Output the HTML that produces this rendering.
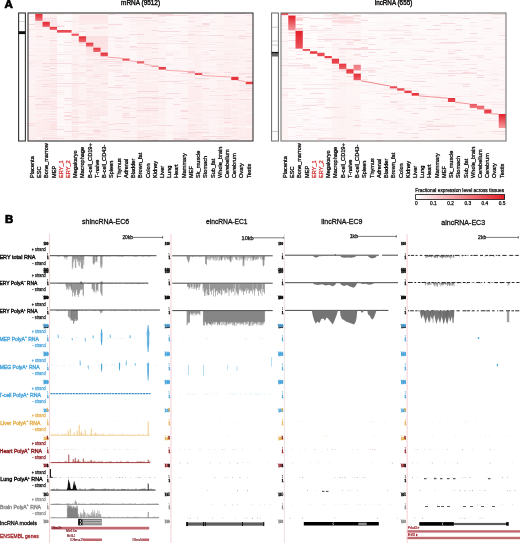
<!DOCTYPE html><html><head><meta charset="utf-8"><style>html,body{margin:0;padding:0;background:#fff;width:520px;height:543px;overflow:hidden}svg{display:block}</style></head><body><svg width="520" height="543" viewBox="0 0 520 543"><rect width="520" height="543" fill="#fff"/><g font-family="'Liberation Sans', 'DejaVu Sans', sans-serif"><text x="4.5" y="8.3" font-size="11.6" font-weight="bold" stroke="#000" stroke-width="0.7">A</text><text x="5.0" y="223.3" font-size="11.4" font-weight="bold" stroke="#000" stroke-width="0.7">B</text><text x="140.6" y="5.1" font-size="7" text-anchor="middle" textLength="39" lengthAdjust="spacingAndGlyphs" stroke="#111" stroke-width="0.4">mRNA (9512)</text><text x="393.5" y="5.1" font-size="7" text-anchor="middle" textLength="37.5" lengthAdjust="spacingAndGlyphs" stroke="#111" stroke-width="0.4">lncRNA (655)</text><filter id="bl11" x="-2%" y="-2%" width="104%" height="104%"><feGaussianBlur stdDeviation="0.55"/></filter><clipPath id="cp11"><rect x="28" y="13" width="225" height="128"/></clipPath><g clip-path="url(#cp11)"><g filter="url(#bl11)"><linearGradient id="bg11_0" x1="0" y1="0" x2="0" y2="1"><stop offset="0" stop-color="#fef6f7"/><stop offset="1" stop-color="#fdeff0"/></linearGradient><rect x="28.00" y="13" width="7.31" height="128" fill="url(#bg11_0)"/><linearGradient id="bg11_1" x1="0" y1="0" x2="0" y2="1"><stop offset="0" stop-color="#fef3f4"/><stop offset="1" stop-color="#fdeaeb"/></linearGradient><rect x="35.26" y="13" width="7.31" height="128" fill="url(#bg11_1)"/><linearGradient id="bg11_2" x1="0" y1="0" x2="0" y2="1"><stop offset="0" stop-color="#fef3f4"/><stop offset="1" stop-color="#fdeaeb"/></linearGradient><rect x="42.52" y="13" width="7.31" height="128" fill="url(#bg11_2)"/><linearGradient id="bg11_3" x1="0" y1="0" x2="0" y2="1"><stop offset="0" stop-color="#fdeff0"/><stop offset="1" stop-color="#fce3e4"/></linearGradient><rect x="49.77" y="13" width="7.31" height="128" fill="url(#bg11_3)"/><linearGradient id="bg11_4" x1="0" y1="0" x2="0" y2="1"><stop offset="0" stop-color="#fefbfb"/><stop offset="1" stop-color="#fef7f8"/></linearGradient><rect x="57.03" y="13" width="7.31" height="128" fill="url(#bg11_4)"/><linearGradient id="bg11_5" x1="0" y1="0" x2="0" y2="1"><stop offset="0" stop-color="#fefafa"/><stop offset="1" stop-color="#fef6f6"/></linearGradient><rect x="64.29" y="13" width="7.31" height="128" fill="url(#bg11_5)"/><linearGradient id="bg11_6" x1="0" y1="0" x2="0" y2="1"><stop offset="0" stop-color="#fdf2f2"/><stop offset="1" stop-color="#fce8e9"/></linearGradient><rect x="71.55" y="13" width="7.31" height="128" fill="url(#bg11_6)"/><linearGradient id="bg11_7" x1="0" y1="0" x2="0" y2="1"><stop offset="0" stop-color="#fef6f7"/><stop offset="1" stop-color="#fdeff0"/></linearGradient><rect x="78.81" y="13" width="7.31" height="128" fill="url(#bg11_7)"/><linearGradient id="bg11_8" x1="0" y1="0" x2="0" y2="1"><stop offset="0" stop-color="#fdf2f2"/><stop offset="1" stop-color="#fce8e9"/></linearGradient><rect x="86.06" y="13" width="7.31" height="128" fill="url(#bg11_8)"/><linearGradient id="bg11_9" x1="0" y1="0" x2="0" y2="1"><stop offset="0" stop-color="#fdf2f2"/><stop offset="1" stop-color="#fce8e9"/></linearGradient><rect x="93.32" y="13" width="7.31" height="128" fill="url(#bg11_9)"/><linearGradient id="bg11_10" x1="0" y1="0" x2="0" y2="1"><stop offset="0" stop-color="#fdf2f2"/><stop offset="1" stop-color="#fce8e9"/></linearGradient><rect x="100.58" y="13" width="7.31" height="128" fill="url(#bg11_10)"/><linearGradient id="bg11_11" x1="0" y1="0" x2="0" y2="1"><stop offset="0" stop-color="#fef8f8"/><stop offset="1" stop-color="#fdf2f3"/></linearGradient><rect x="107.84" y="13" width="7.31" height="128" fill="url(#bg11_11)"/><linearGradient id="bg11_12" x1="0" y1="0" x2="0" y2="1"><stop offset="0" stop-color="#fef8f8"/><stop offset="1" stop-color="#fdf2f3"/></linearGradient><rect x="115.10" y="13" width="7.31" height="128" fill="url(#bg11_12)"/><linearGradient id="bg11_13" x1="0" y1="0" x2="0" y2="1"><stop offset="0" stop-color="#fef6f7"/><stop offset="1" stop-color="#fdeff0"/></linearGradient><rect x="122.35" y="13" width="7.31" height="128" fill="url(#bg11_13)"/><linearGradient id="bg11_14" x1="0" y1="0" x2="0" y2="1"><stop offset="0" stop-color="#fef8f8"/><stop offset="1" stop-color="#fdf2f3"/></linearGradient><rect x="129.61" y="13" width="7.31" height="128" fill="url(#bg11_14)"/><linearGradient id="bg11_15" x1="0" y1="0" x2="0" y2="1"><stop offset="0" stop-color="#fef3f4"/><stop offset="1" stop-color="#fdeaeb"/></linearGradient><rect x="136.87" y="13" width="7.31" height="128" fill="url(#bg11_15)"/><linearGradient id="bg11_16" x1="0" y1="0" x2="0" y2="1"><stop offset="0" stop-color="#fef3f4"/><stop offset="1" stop-color="#fdeaeb"/></linearGradient><rect x="144.13" y="13" width="7.31" height="128" fill="url(#bg11_16)"/><linearGradient id="bg11_17" x1="0" y1="0" x2="0" y2="1"><stop offset="0" stop-color="#fef3f4"/><stop offset="1" stop-color="#fdeaeb"/></linearGradient><rect x="151.39" y="13" width="7.31" height="128" fill="url(#bg11_17)"/><linearGradient id="bg11_18" x1="0" y1="0" x2="0" y2="1"><stop offset="0" stop-color="#fef6f7"/><stop offset="1" stop-color="#fdeff0"/></linearGradient><rect x="158.65" y="13" width="7.31" height="128" fill="url(#bg11_18)"/><linearGradient id="bg11_19" x1="0" y1="0" x2="0" y2="1"><stop offset="0" stop-color="#fef9f9"/><stop offset="1" stop-color="#fef5f5"/></linearGradient><rect x="165.90" y="13" width="7.31" height="128" fill="url(#bg11_19)"/><linearGradient id="bg11_20" x1="0" y1="0" x2="0" y2="1"><stop offset="0" stop-color="#fef8f9"/><stop offset="1" stop-color="#fef3f4"/></linearGradient><rect x="173.16" y="13" width="7.31" height="128" fill="url(#bg11_20)"/><linearGradient id="bg11_21" x1="0" y1="0" x2="0" y2="1"><stop offset="0" stop-color="#fef8f8"/><stop offset="1" stop-color="#fdf2f3"/></linearGradient><rect x="180.42" y="13" width="7.31" height="128" fill="url(#bg11_21)"/><linearGradient id="bg11_22" x1="0" y1="0" x2="0" y2="1"><stop offset="0" stop-color="#fef3f4"/><stop offset="1" stop-color="#fdeaeb"/></linearGradient><rect x="187.68" y="13" width="7.31" height="128" fill="url(#bg11_22)"/><linearGradient id="bg11_23" x1="0" y1="0" x2="0" y2="1"><stop offset="0" stop-color="#fef3f4"/><stop offset="1" stop-color="#fdeaeb"/></linearGradient><rect x="194.94" y="13" width="7.31" height="128" fill="url(#bg11_23)"/><linearGradient id="bg11_24" x1="0" y1="0" x2="0" y2="1"><stop offset="0" stop-color="#fef6f7"/><stop offset="1" stop-color="#fdeff0"/></linearGradient><rect x="202.19" y="13" width="7.31" height="128" fill="url(#bg11_24)"/><linearGradient id="bg11_25" x1="0" y1="0" x2="0" y2="1"><stop offset="0" stop-color="#fef8f8"/><stop offset="1" stop-color="#fdf2f3"/></linearGradient><rect x="209.45" y="13" width="7.31" height="128" fill="url(#bg11_25)"/><linearGradient id="bg11_26" x1="0" y1="0" x2="0" y2="1"><stop offset="0" stop-color="#fef5f5"/><stop offset="1" stop-color="#fdedee"/></linearGradient><rect x="216.71" y="13" width="7.31" height="128" fill="url(#bg11_26)"/><linearGradient id="bg11_27" x1="0" y1="0" x2="0" y2="1"><stop offset="0" stop-color="#fef3f4"/><stop offset="1" stop-color="#fdeaeb"/></linearGradient><rect x="223.97" y="13" width="7.31" height="128" fill="url(#bg11_27)"/><linearGradient id="bg11_28" x1="0" y1="0" x2="0" y2="1"><stop offset="0" stop-color="#fef3f4"/><stop offset="1" stop-color="#fdeaeb"/></linearGradient><rect x="231.23" y="13" width="7.31" height="128" fill="url(#bg11_28)"/><linearGradient id="bg11_29" x1="0" y1="0" x2="0" y2="1"><stop offset="0" stop-color="#fef4f5"/><stop offset="1" stop-color="#fdecec"/></linearGradient><rect x="238.48" y="13" width="7.31" height="128" fill="url(#bg11_29)"/><linearGradient id="bg11_30" x1="0" y1="0" x2="0" y2="1"><stop offset="0" stop-color="#fef3f4"/><stop offset="1" stop-color="#fdeaeb"/></linearGradient><rect x="245.74" y="13" width="7.31" height="128" fill="url(#bg11_30)"/><path fill="#fdf4f6" d="M42.5 13h14.5v1h-14.5zM187.7 13h7.3v1h-7.3zM194.9 13h7.3v1h-7.3zM202.2 13h7.3v1h-7.3zM28.0 14h14.5v1h-14.5zM100.6 14h7.3v1h-7.3zM115.1 14h7.3v1h-7.3zM202.2 14h14.5v1h-14.5zM35.3 15h7.3v1h-7.3zM71.5 15h7.3v1h-7.3zM86.1 15h14.5v1h-14.5zM115.1 15h7.3v1h-7.3zM151.4 15h7.3v1h-7.3zM209.5 15h7.3v1h-7.3zM144.1 16h14.5v1h-14.5zM71.5 17h7.3v1h-7.3zM78.8 17h7.3v1h-7.3zM100.6 17h7.3v1h-7.3zM158.6 17h7.3v1h-7.3zM238.5 17h14.5v1h-14.5zM107.8 18h7.3v1h-7.3zM180.4 18h14.5v1h-14.5zM224.0 18h7.3v1h-7.3zM122.4 19h7.3v1h-7.3zM194.9 19h14.5v1h-14.5zM209.5 19h14.5v1h-14.5zM180.4 20h7.3v1h-7.3zM238.5 20h14.5v1h-14.5zM28.0 21h7.3v1h-7.3zM35.3 21h7.3v1h-7.3zM42.5 21h14.5v1h-14.5zM57.0 21h7.3v1h-7.3zM28.0 23h21.8v1h-21.8zM49.8 23h14.5v1h-14.5zM93.3 23h7.3v1h-7.3zM100.6 23h29.0v1h-29.0zM129.6 23h7.3v1h-7.3zM165.9 23h7.3v1h-7.3zM194.9 23h7.3v1h-7.3zM231.2 23h7.3v1h-7.3zM64.3 24h7.3v1h-7.3zM158.6 24h7.3v1h-7.3zM165.9 24h14.5v1h-14.5zM180.4 24h7.3v1h-7.3zM194.9 24h7.3v1h-7.3zM107.8 25h14.5v1h-14.5zM136.9 25h7.3v1h-7.3zM144.1 25h29.0v1h-29.0zM71.5 26h21.8v1h-21.8zM180.4 26h7.3v1h-7.3zM216.7 26h7.3v1h-7.3zM35.3 27h7.3v1h-7.3zM129.6 27h14.5v1h-14.5zM173.2 27h7.3v1h-7.3zM224.0 27h21.8v1h-21.8zM107.8 28h7.3v1h-7.3zM129.6 28h14.5v1h-14.5zM180.4 28h7.3v1h-7.3zM238.5 28h7.3v1h-7.3zM107.8 29h7.3v1h-7.3zM209.5 29h7.3v1h-7.3zM238.5 29h14.5v1h-14.5zM28.0 30h14.5v1h-14.5zM42.5 30h7.3v1h-7.3zM57.0 30h7.3v1h-7.3zM86.1 30h29.0v1h-29.0zM115.1 30h14.5v1h-14.5zM158.6 30h7.3v1h-7.3zM180.4 30h7.3v1h-7.3zM28.0 31h7.3v1h-7.3zM35.3 31h7.3v1h-7.3zM49.8 31h7.3v1h-7.3zM245.7 31h7.3v1h-7.3zM28.0 32h7.3v1h-7.3zM144.1 32h7.3v1h-7.3zM180.4 32h7.3v1h-7.3zM224.0 32h7.3v1h-7.3zM238.5 32h7.3v1h-7.3zM28.0 34h21.8v1h-21.8zM49.8 34h7.3v1h-7.3zM107.8 34h7.3v1h-7.3zM224.0 34h7.3v1h-7.3zM78.8 35h14.5v1h-14.5zM93.3 35h7.3v1h-7.3zM115.1 35h21.8v1h-21.8zM42.5 36h21.8v1h-21.8zM71.5 36h14.5v1h-14.5zM144.1 36h7.3v1h-7.3zM180.4 37h7.3v1h-7.3zM78.8 38h14.5v1h-14.5zM93.3 38h14.5v1h-14.5zM180.4 38h7.3v1h-7.3zM209.5 38h7.3v1h-7.3zM231.2 38h7.3v1h-7.3zM28.0 39h7.3v1h-7.3zM49.8 39h7.3v1h-7.3zM93.3 39h7.3v1h-7.3zM64.3 40h7.3v1h-7.3zM122.4 40h29.0v1h-29.0zM180.4 40h7.3v1h-7.3zM209.5 40h14.5v1h-14.5zM231.2 40h14.5v1h-14.5zM35.3 41h7.3v1h-7.3zM42.5 41h7.3v1h-7.3zM64.3 41h7.3v1h-7.3zM78.8 41h14.5v1h-14.5zM144.1 41h29.0v1h-29.0zM173.2 41h7.3v1h-7.3zM187.7 41h7.3v1h-7.3zM224.0 41h7.3v1h-7.3zM28.0 42h7.3v1h-7.3zM35.3 42h21.8v1h-21.8zM100.6 42h7.3v1h-7.3zM115.1 42h14.5v1h-14.5zM151.4 42h7.3v1h-7.3zM165.9 42h7.3v1h-7.3zM187.7 42h7.3v1h-7.3zM231.2 42h21.8v1h-21.8zM42.5 43h7.3v1h-7.3zM86.1 43h14.5v1h-14.5zM107.8 44h14.5v1h-14.5zM238.5 44h7.3v1h-7.3zM57.0 45h7.3v1h-7.3zM136.9 45h7.3v1h-7.3zM238.5 45h7.3v1h-7.3zM107.8 46h7.3v1h-7.3zM245.7 46h7.3v1h-7.3zM28.0 47h14.5v1h-14.5zM42.5 47h7.3v1h-7.3zM49.8 47h7.3v1h-7.3zM71.5 47h14.5v1h-14.5zM151.4 47h7.3v1h-7.3zM245.7 47h7.3v1h-7.3zM64.3 48h7.3v1h-7.3zM71.5 48h14.5v1h-14.5zM216.7 48h21.8v1h-21.8zM42.5 49h7.3v1h-7.3zM64.3 49h7.3v1h-7.3zM224.0 49h7.3v1h-7.3zM115.1 50h7.3v1h-7.3zM122.4 50h21.8v1h-21.8zM151.4 50h7.3v1h-7.3zM165.9 50h7.3v1h-7.3zM194.9 50h14.5v1h-14.5zM245.7 50h7.3v1h-7.3zM158.6 51h7.3v1h-7.3zM165.9 51h14.5v1h-14.5zM194.9 51h7.3v1h-7.3zM238.5 51h14.5v1h-14.5zM28.0 52h7.3v1h-7.3zM71.5 52h29.0v1h-29.0zM122.4 52h7.3v1h-7.3zM194.9 52h7.3v1h-7.3zM28.0 53h29.0v1h-29.0zM71.5 53h14.5v1h-14.5zM86.1 53h7.3v1h-7.3zM151.4 53h14.5v1h-14.5zM202.2 53h7.3v1h-7.3zM71.5 54h7.3v1h-7.3zM122.4 54h7.3v1h-7.3zM136.9 54h14.5v1h-14.5zM209.5 54h7.3v1h-7.3zM245.7 54h7.3v1h-7.3zM129.6 55h7.3v1h-7.3zM144.1 55h14.5v1h-14.5zM224.0 55h14.5v1h-14.5zM64.3 56h7.3v1h-7.3zM107.8 56h14.5v1h-14.5zM78.8 57h14.5v1h-14.5zM115.1 57h7.3v1h-7.3zM151.4 57h7.3v1h-7.3zM187.7 57h7.3v1h-7.3zM35.3 58h7.3v1h-7.3zM93.3 58h7.3v1h-7.3zM122.4 58h21.8v1h-21.8zM231.2 58h21.8v1h-21.8zM57.0 59h7.3v1h-7.3zM64.3 59h7.3v1h-7.3zM151.4 59h14.5v1h-14.5zM42.5 60h7.3v1h-7.3zM57.0 60h7.3v1h-7.3zM64.3 60h21.8v1h-21.8zM187.7 60h7.3v1h-7.3zM187.7 61h7.3v1h-7.3zM209.5 61h7.3v1h-7.3zM216.7 61h14.5v1h-14.5zM78.8 62h14.5v1h-14.5zM173.2 62h7.3v1h-7.3zM180.4 62h14.5v1h-14.5zM245.7 62h7.3v1h-7.3zM158.6 63h7.3v1h-7.3zM173.2 63h7.3v1h-7.3zM78.8 64h7.3v1h-7.3zM115.1 64h7.3v1h-7.3zM129.6 64h21.8v1h-21.8zM158.6 64h7.3v1h-7.3zM173.2 64h7.3v1h-7.3zM57.0 65h7.3v1h-7.3zM100.6 65h7.3v1h-7.3zM165.9 65h7.3v1h-7.3zM180.4 65h7.3v1h-7.3zM187.7 65h7.3v1h-7.3zM202.2 65h7.3v1h-7.3zM231.2 65h7.3v1h-7.3zM28.0 66h14.5v1h-14.5zM64.3 66h14.5v1h-14.5zM165.9 66h29.0v1h-29.0zM231.2 66h14.5v1h-14.5zM49.8 67h7.3v1h-7.3zM93.3 67h7.3v1h-7.3zM122.4 67h7.3v1h-7.3zM136.9 67h7.3v1h-7.3zM158.6 67h7.3v1h-7.3zM209.5 67h7.3v1h-7.3zM28.0 68h21.8v1h-21.8zM107.8 68h14.5v1h-14.5zM129.6 68h29.0v1h-29.0zM180.4 68h7.3v1h-7.3zM165.9 69h7.3v1h-7.3zM194.9 69h14.5v1h-14.5zM238.5 69h14.5v1h-14.5zM49.8 70h14.5v1h-14.5zM78.8 70h7.3v1h-7.3zM93.3 70h7.3v1h-7.3zM35.3 71h14.5v1h-14.5zM71.5 71h14.5v1h-14.5zM136.9 71h7.3v1h-7.3zM42.5 72h14.5v1h-14.5zM86.1 72h7.3v1h-7.3zM35.3 73h7.3v1h-7.3zM86.1 74h7.3v1h-7.3zM35.3 75h7.3v1h-7.3zM151.4 75h7.3v1h-7.3zM173.2 75h14.5v1h-14.5zM245.7 75h7.3v1h-7.3zM49.8 76h7.3v1h-7.3zM57.0 76h7.3v1h-7.3zM144.1 76h7.3v1h-7.3zM151.4 76h7.3v1h-7.3zM194.9 76h7.3v1h-7.3zM49.8 77h14.5v1h-14.5zM158.6 77h14.5v1h-14.5zM173.2 77h7.3v1h-7.3zM57.0 78h7.3v1h-7.3zM187.7 78h7.3v1h-7.3zM216.7 78h14.5v1h-14.5zM35.3 79h7.3v1h-7.3zM64.3 79h7.3v1h-7.3zM93.3 79h7.3v1h-7.3zM122.4 79h7.3v1h-7.3zM209.5 79h7.3v1h-7.3zM216.7 79h7.3v1h-7.3zM224.0 79h14.5v1h-14.5zM245.7 79h7.3v1h-7.3zM28.0 80h7.3v1h-7.3zM64.3 80h14.5v1h-14.5zM78.8 80h7.3v1h-7.3zM144.1 80h29.0v1h-29.0zM173.2 80h7.3v1h-7.3zM238.5 80h7.3v1h-7.3zM28.0 81h7.3v1h-7.3zM64.3 81h7.3v1h-7.3zM107.8 81h14.5v1h-14.5zM144.1 81h7.3v1h-7.3zM194.9 81h7.3v1h-7.3zM231.2 81h14.5v1h-14.5zM71.5 82h7.3v1h-7.3zM78.8 82h14.5v1h-14.5zM194.9 82h21.8v1h-21.8zM86.1 83h14.5v1h-14.5zM209.5 83h7.3v1h-7.3zM64.3 84h7.3v1h-7.3zM136.9 84h7.3v1h-7.3zM187.7 84h7.3v1h-7.3zM57.0 85h14.5v1h-14.5zM224.0 85h7.3v1h-7.3zM100.6 86h36.3v1h-36.3zM158.6 86h7.3v1h-7.3zM165.9 86h14.5v1h-14.5zM78.8 87h14.5v1h-14.5zM49.8 88h14.5v1h-14.5zM158.6 88h7.3v1h-7.3zM173.2 88h14.5v1h-14.5zM64.3 89h7.3v1h-7.3zM93.3 89h7.3v1h-7.3zM100.6 89h7.3v1h-7.3zM144.1 89h7.3v1h-7.3zM245.7 89h7.3v1h-7.3zM100.6 90h7.3v1h-7.3zM115.1 91h7.3v1h-7.3zM165.9 91h7.3v1h-7.3zM216.7 91h7.3v1h-7.3zM28.0 92h7.3v1h-7.3zM35.3 92h7.3v1h-7.3zM107.8 92h7.3v1h-7.3zM158.6 92h7.3v1h-7.3zM231.2 92h7.3v1h-7.3zM86.1 93h7.3v1h-7.3zM224.0 93h14.5v1h-14.5zM136.9 94h7.3v1h-7.3zM144.1 94h7.3v1h-7.3zM151.4 94h7.3v1h-7.3zM158.6 94h14.5v1h-14.5zM202.2 94h21.8v1h-21.8zM238.5 94h7.3v1h-7.3zM78.8 95h7.3v1h-7.3zM144.1 95h7.3v1h-7.3zM165.9 95h7.3v1h-7.3zM173.2 95h7.3v1h-7.3zM86.1 96h7.3v1h-7.3zM107.8 96h14.5v1h-14.5zM122.4 96h7.3v1h-7.3zM129.6 96h14.5v1h-14.5zM151.4 96h7.3v1h-7.3zM28.0 97h7.3v1h-7.3zM42.5 97h21.8v1h-21.8zM115.1 97h14.5v1h-14.5zM158.6 97h7.3v1h-7.3zM165.9 97h7.3v1h-7.3zM209.5 97h7.3v1h-7.3zM216.7 97h14.5v1h-14.5zM231.2 97h21.8v1h-21.8zM78.8 98h7.3v1h-7.3zM93.3 98h7.3v1h-7.3zM245.7 98h7.3v1h-7.3zM64.3 99h7.3v1h-7.3zM122.4 99h7.3v1h-7.3zM35.3 100h7.3v1h-7.3zM100.6 100h7.3v1h-7.3zM107.8 100h14.5v1h-14.5zM238.5 100h7.3v1h-7.3zM245.7 100h7.3v1h-7.3zM28.0 101h7.3v1h-7.3zM93.3 101h7.3v1h-7.3zM194.9 101h14.5v1h-14.5zM35.3 102h7.3v1h-7.3zM115.1 102h7.3v1h-7.3zM173.2 102h43.5v1h-43.5zM216.7 102h14.5v1h-14.5zM57.0 103h7.3v1h-7.3zM107.8 103h14.5v1h-14.5zM129.6 103h7.3v1h-7.3zM165.9 103h7.3v1h-7.3zM209.5 103h7.3v1h-7.3zM216.7 103h7.3v1h-7.3zM231.2 103h7.3v1h-7.3zM144.1 104h7.3v1h-7.3zM151.4 104h7.3v1h-7.3zM187.7 104h7.3v1h-7.3zM93.3 106h7.3v1h-7.3zM238.5 106h7.3v1h-7.3zM71.5 107h7.3v1h-7.3zM28.0 108h7.3v1h-7.3zM57.0 108h21.8v1h-21.8zM78.8 108h14.5v1h-14.5zM100.6 108h7.3v1h-7.3zM216.7 108h7.3v1h-7.3zM231.2 109h7.3v1h-7.3zM35.3 110h14.5v1h-14.5zM49.8 110h7.3v1h-7.3zM64.3 110h7.3v1h-7.3zM107.8 110h7.3v1h-7.3zM122.4 110h7.3v1h-7.3zM173.2 110h7.3v1h-7.3zM231.2 110h7.3v1h-7.3zM28.0 111h7.3v1h-7.3zM78.8 111h7.3v1h-7.3zM28.0 112h36.3v1h-36.3zM245.7 112h7.3v1h-7.3zM245.7 113h7.3v1h-7.3zM129.6 114h21.8v1h-21.8zM165.9 114h14.5v1h-14.5zM216.7 114h7.3v1h-7.3zM42.5 115h7.3v1h-7.3zM49.8 115h14.5v1h-14.5zM71.5 115h14.5v1h-14.5zM107.8 115h7.3v1h-7.3zM187.7 115h7.3v1h-7.3zM231.2 115h14.5v1h-14.5zM100.6 116h14.5v1h-14.5zM28.0 117h36.3v1h-36.3zM93.3 117h21.8v1h-21.8zM136.9 117h7.3v1h-7.3zM187.7 117h7.3v1h-7.3zM194.9 117h7.3v1h-7.3zM100.6 118h7.3v1h-7.3zM35.3 119h7.3v1h-7.3zM78.8 119h7.3v1h-7.3zM86.1 119h7.3v1h-7.3zM100.6 119h7.3v1h-7.3zM107.8 119h7.3v1h-7.3zM151.4 119h14.5v1h-14.5zM216.7 119h14.5v1h-14.5zM49.8 120h14.5v1h-14.5zM78.8 120h7.3v1h-7.3zM93.3 120h14.5v1h-14.5zM165.9 120h7.3v1h-7.3zM180.4 120h7.3v1h-7.3zM64.3 121h7.3v1h-7.3zM107.8 121h21.8v1h-21.8zM173.2 121h14.5v1h-14.5zM64.3 122h7.3v1h-7.3zM93.3 122h7.3v1h-7.3zM115.1 122h21.8v1h-21.8zM158.6 122h7.3v1h-7.3zM165.9 122h14.5v1h-14.5zM180.4 122h7.3v1h-7.3zM187.7 122h7.3v1h-7.3zM194.9 122h7.3v1h-7.3zM216.7 122h7.3v1h-7.3zM151.4 123h7.3v1h-7.3zM173.2 123h7.3v1h-7.3zM78.8 124h29.0v1h-29.0zM129.6 124h21.8v1h-21.8zM158.6 124h7.3v1h-7.3zM224.0 124h7.3v1h-7.3zM71.5 125h7.3v1h-7.3zM78.8 125h21.8v1h-21.8zM216.7 125h14.5v1h-14.5zM151.4 126h14.5v1h-14.5zM209.5 126h36.3v1h-36.3zM245.7 126h7.3v1h-7.3zM122.4 127h7.3v1h-7.3zM136.9 127h21.8v1h-21.8zM202.2 127h7.3v1h-7.3zM216.7 127h7.3v1h-7.3zM245.7 127h7.3v1h-7.3zM78.8 128h14.5v1h-14.5zM93.3 128h7.3v1h-7.3zM107.8 128h7.3v1h-7.3zM136.9 128h21.8v1h-21.8zM78.8 129h14.5v1h-14.5zM100.6 129h7.3v1h-7.3zM136.9 129h21.8v1h-21.8zM165.9 129h7.3v1h-7.3zM231.2 129h7.3v1h-7.3zM49.8 130h7.3v1h-7.3zM57.0 130h14.5v1h-14.5zM158.6 130h7.3v1h-7.3zM194.9 130h21.8v1h-21.8zM86.1 131h7.3v1h-7.3zM187.7 131h7.3v1h-7.3zM42.5 132h14.5v1h-14.5zM64.3 132h29.0v1h-29.0zM144.1 132h14.5v1h-14.5zM216.7 132h7.3v1h-7.3zM64.3 133h7.3v1h-7.3zM100.6 133h7.3v1h-7.3zM49.8 134h21.8v1h-21.8zM107.8 134h14.5v1h-14.5zM165.9 134h7.3v1h-7.3zM202.2 134h14.5v1h-14.5zM115.1 135h21.8v1h-21.8zM202.2 135h14.5v1h-14.5zM216.7 135h14.5v1h-14.5zM78.8 136h7.3v1h-7.3zM86.1 136h7.3v1h-7.3zM93.3 136h7.3v1h-7.3zM122.4 136h14.5v1h-14.5zM151.4 136h7.3v1h-7.3zM35.3 137h7.3v1h-7.3zM57.0 137h7.3v1h-7.3zM158.6 137h7.3v1h-7.3zM231.2 137h7.3v1h-7.3zM35.3 138h7.3v1h-7.3zM71.5 138h14.5v1h-14.5zM93.3 138h14.5v1h-14.5zM187.7 138h7.3v1h-7.3zM49.8 139h14.5v1h-14.5zM107.8 139h7.3v1h-7.3zM158.6 139h7.3v1h-7.3zM216.7 139h7.3v1h-7.3zM173.2 140h7.3v1h-7.3z"/><path fill="#fceff0" d="M57.0 13h7.3v1h-7.3zM93.3 13h7.3v1h-7.3zM49.8 14h14.5v1h-14.5zM78.8 14h21.8v1h-21.8zM122.4 14h21.8v1h-21.8zM129.6 15h21.8v1h-21.8zM28.0 16h7.3v1h-7.3zM151.4 17h7.3v1h-7.3zM224.0 17h14.5v1h-14.5zM42.5 19h14.5v1h-14.5zM158.6 19h14.5v1h-14.5zM245.7 19h7.3v1h-7.3zM49.8 20h7.3v1h-7.3zM151.4 21h14.5v1h-14.5zM209.5 21h7.3v1h-7.3zM231.2 21h7.3v1h-7.3zM238.5 21h7.3v1h-7.3zM209.5 22h7.3v1h-7.3zM136.9 23h14.5v1h-14.5zM238.5 23h7.3v1h-7.3zM129.6 24h14.5v1h-14.5zM194.9 25h58.1v1h-58.1zM100.6 26h14.5v1h-14.5zM129.6 26h14.5v1h-14.5zM180.4 27h14.5v1h-14.5zM42.5 28h7.3v1h-7.3zM100.6 28h7.3v1h-7.3zM187.7 28h36.3v1h-36.3zM78.8 29h7.3v1h-7.3zM93.3 29h7.3v1h-7.3zM64.3 30h7.3v1h-7.3zM129.6 31h7.3v1h-7.3zM165.9 34h14.5v1h-14.5zM173.2 35h7.3v1h-7.3zM28.0 36h7.3v1h-7.3zM100.6 36h14.5v1h-14.5zM136.9 36h7.3v1h-7.3zM158.6 38h14.5v1h-14.5zM173.2 38h7.3v1h-7.3zM187.7 38h21.8v1h-21.8zM245.7 38h7.3v1h-7.3zM107.8 40h14.5v1h-14.5zM165.9 40h7.3v1h-7.3zM173.2 40h7.3v1h-7.3zM202.2 40h7.3v1h-7.3zM202.2 42h7.3v1h-7.3zM28.0 44h14.5v1h-14.5zM42.5 44h21.8v1h-21.8zM151.4 44h7.3v1h-7.3zM180.4 44h14.5v1h-14.5zM93.3 45h14.5v1h-14.5zM100.6 47h7.3v1h-7.3zM180.4 47h7.3v1h-7.3zM194.9 47h7.3v1h-7.3zM202.2 47h43.5v1h-43.5zM28.0 48h7.3v1h-7.3zM100.6 48h7.3v1h-7.3zM42.5 51h7.3v1h-7.3zM64.3 51h21.8v1h-21.8zM93.3 51h7.3v1h-7.3zM49.8 52h21.8v1h-21.8zM173.2 52h7.3v1h-7.3zM194.9 53h7.3v1h-7.3zM224.0 53h29.0v1h-29.0zM100.6 54h7.3v1h-7.3zM165.9 54h14.5v1h-14.5zM231.2 54h14.5v1h-14.5zM42.5 55h7.3v1h-7.3zM115.1 55h7.3v1h-7.3zM136.9 55h7.3v1h-7.3zM93.3 56h14.5v1h-14.5zM209.5 56h29.0v1h-29.0zM49.8 57h7.3v1h-7.3zM136.9 57h7.3v1h-7.3zM194.9 57h14.5v1h-14.5zM224.0 57h14.5v1h-14.5zM49.8 58h7.3v1h-7.3zM115.1 59h7.3v1h-7.3zM245.7 59h7.3v1h-7.3zM35.3 60h7.3v1h-7.3zM100.6 60h7.3v1h-7.3zM173.2 60h7.3v1h-7.3zM209.5 60h7.3v1h-7.3zM245.7 60h7.3v1h-7.3zM57.0 61h7.3v1h-7.3zM209.5 62h7.3v1h-7.3zM78.8 63h7.3v1h-7.3zM129.6 63h7.3v1h-7.3zM165.9 63h7.3v1h-7.3zM224.0 63h7.3v1h-7.3zM165.9 64h7.3v1h-7.3zM42.5 65h7.3v1h-7.3zM216.7 65h7.3v1h-7.3zM49.8 66h14.5v1h-14.5zM100.6 66h7.3v1h-7.3zM107.8 66h7.3v1h-7.3zM129.6 66h14.5v1h-14.5zM202.2 66h21.8v1h-21.8zM28.0 67h7.3v1h-7.3zM115.1 67h7.3v1h-7.3zM194.9 67h7.3v1h-7.3zM216.7 67h7.3v1h-7.3zM173.2 68h7.3v1h-7.3zM209.5 68h7.3v1h-7.3zM107.8 69h14.5v1h-14.5zM173.2 69h7.3v1h-7.3zM216.7 69h21.8v1h-21.8zM144.1 70h7.3v1h-7.3zM216.7 70h7.3v1h-7.3zM107.8 71h14.5v1h-14.5zM231.2 71h7.3v1h-7.3zM209.5 72h7.3v1h-7.3zM86.1 73h14.5v1h-14.5zM136.9 73h21.8v1h-21.8zM151.4 74h7.3v1h-7.3zM165.9 74h7.3v1h-7.3zM129.6 75h7.3v1h-7.3zM71.5 76h7.3v1h-7.3zM100.6 76h7.3v1h-7.3zM129.6 76h7.3v1h-7.3zM173.2 76h21.8v1h-21.8zM216.7 76h7.3v1h-7.3zM209.5 78h7.3v1h-7.3zM49.8 79h14.5v1h-14.5zM86.1 79h7.3v1h-7.3zM187.7 79h21.8v1h-21.8zM93.3 80h14.5v1h-14.5zM49.8 81h14.5v1h-14.5zM100.6 81h7.3v1h-7.3zM129.6 82h21.8v1h-21.8zM173.2 82h7.3v1h-7.3zM35.3 84h7.3v1h-7.3zM158.6 84h7.3v1h-7.3zM35.3 85h7.3v1h-7.3zM122.4 85h7.3v1h-7.3zM245.7 86h7.3v1h-7.3zM93.3 87h7.3v1h-7.3zM122.4 87h14.5v1h-14.5zM158.6 87h7.3v1h-7.3zM115.1 88h14.5v1h-14.5zM129.6 88h14.5v1h-14.5zM165.9 88h7.3v1h-7.3zM224.0 88h14.5v1h-14.5zM194.9 89h29.0v1h-29.0zM231.2 89h7.3v1h-7.3zM57.0 90h7.3v1h-7.3zM100.6 93h7.3v1h-7.3zM151.4 93h14.5v1h-14.5zM42.5 94h21.8v1h-21.8zM78.8 94h7.3v1h-7.3zM86.1 94h7.3v1h-7.3zM35.3 95h7.3v1h-7.3zM71.5 95h7.3v1h-7.3zM107.8 95h29.0v1h-29.0zM136.9 95h7.3v1h-7.3zM71.5 96h7.3v1h-7.3zM173.2 96h7.3v1h-7.3zM107.8 97h7.3v1h-7.3zM49.8 98h7.3v1h-7.3zM122.4 98h7.3v1h-7.3zM209.5 98h14.5v1h-14.5zM49.8 99h7.3v1h-7.3zM86.1 99h7.3v1h-7.3zM202.2 99h14.5v1h-14.5zM42.5 100h7.3v1h-7.3zM136.9 100h29.0v1h-29.0zM224.0 100h7.3v1h-7.3zM129.6 101h7.3v1h-7.3zM93.3 102h14.5v1h-14.5zM144.1 103h14.5v1h-14.5zM93.3 104h7.3v1h-7.3zM100.6 104h7.3v1h-7.3zM129.6 104h14.5v1h-14.5zM209.5 104h7.3v1h-7.3zM194.9 110h7.3v1h-7.3zM122.4 111h14.5v1h-14.5zM245.7 111h7.3v1h-7.3zM194.9 112h14.5v1h-14.5zM136.9 113h14.5v1h-14.5zM151.4 113h14.5v1h-14.5zM187.7 113h14.5v1h-14.5zM209.5 113h7.3v1h-7.3zM129.6 115h7.3v1h-7.3zM180.4 115h7.3v1h-7.3zM245.7 115h7.3v1h-7.3zM28.0 116h7.3v1h-7.3zM144.1 116h7.3v1h-7.3zM173.2 116h14.5v1h-14.5zM238.5 117h14.5v1h-14.5zM136.9 118h14.5v1h-14.5zM187.7 119h7.3v1h-7.3zM231.2 119h14.5v1h-14.5zM64.3 120h7.3v1h-7.3zM151.4 121h7.3v1h-7.3zM71.5 123h14.5v1h-14.5zM86.1 123h14.5v1h-14.5zM194.9 123h7.3v1h-7.3zM35.3 125h7.3v1h-7.3zM238.5 125h14.5v1h-14.5zM57.0 126h14.5v1h-14.5zM115.1 126h21.8v1h-21.8zM173.2 126h29.0v1h-29.0zM100.6 127h7.3v1h-7.3zM129.6 128h7.3v1h-7.3zM194.9 128h7.3v1h-7.3zM28.0 129h14.5v1h-14.5zM245.7 130h7.3v1h-7.3zM173.2 131h14.5v1h-14.5zM100.6 132h7.3v1h-7.3zM165.9 132h7.3v1h-7.3zM35.3 133h7.3v1h-7.3zM202.2 133h7.3v1h-7.3zM28.0 134h7.3v1h-7.3zM173.2 134h14.5v1h-14.5zM93.3 135h7.3v1h-7.3zM180.4 135h7.3v1h-7.3zM42.5 136h29.0v1h-29.0zM115.1 136h7.3v1h-7.3zM194.9 136h7.3v1h-7.3zM100.6 137h7.3v1h-7.3zM231.2 138h7.3v1h-7.3zM28.0 139h21.8v1h-21.8zM122.4 139h7.3v1h-7.3zM238.5 139h14.5v1h-14.5zM42.5 140h7.3v1h-7.3zM71.5 140h14.5v1h-14.5zM86.1 140h7.3v1h-7.3zM93.3 140h7.3v1h-7.3zM224.0 140h7.3v1h-7.3z"/><path fill="#fae7e9" d="M202.2 15h7.3v1h-7.3zM245.7 15h7.3v1h-7.3zM158.6 16h7.3v1h-7.3zM224.0 16h7.3v1h-7.3zM35.3 17h7.3v1h-7.3zM187.7 17h7.3v1h-7.3zM129.6 19h7.3v1h-7.3zM136.9 20h21.8v1h-21.8zM71.5 21h7.3v1h-7.3zM93.3 21h14.5v1h-14.5zM129.6 21h7.3v1h-7.3zM158.6 22h7.3v1h-7.3zM78.8 24h7.3v1h-7.3zM245.7 24h7.3v1h-7.3zM42.5 25h21.8v1h-21.8zM194.9 26h14.5v1h-14.5zM78.8 28h7.3v1h-7.3zM165.9 28h7.3v1h-7.3zM28.0 29h14.5v1h-14.5zM231.2 30h14.5v1h-14.5zM187.7 31h21.8v1h-21.8zM57.0 32h21.8v1h-21.8zM245.7 33h7.3v1h-7.3zM180.4 35h29.0v1h-29.0zM238.5 35h7.3v1h-7.3zM165.9 36h7.3v1h-7.3zM78.8 37h29.0v1h-29.0zM107.8 37h21.8v1h-21.8zM158.6 37h7.3v1h-7.3zM224.0 37h14.5v1h-14.5zM71.5 40h7.3v1h-7.3zM115.1 41h14.5v1h-14.5zM209.5 42h14.5v1h-14.5zM158.6 43h36.3v1h-36.3zM202.2 44h14.5v1h-14.5zM64.3 45h7.3v1h-7.3zM115.1 45h7.3v1h-7.3zM115.1 47h7.3v1h-7.3zM129.6 47h21.8v1h-21.8zM187.7 47h7.3v1h-7.3zM129.6 49h14.5v1h-14.5zM245.7 49h7.3v1h-7.3zM93.3 50h7.3v1h-7.3zM151.4 52h7.3v1h-7.3zM202.2 52h7.3v1h-7.3zM165.9 53h7.3v1h-7.3zM57.0 54h14.5v1h-14.5zM78.8 54h7.3v1h-7.3zM202.2 54h7.3v1h-7.3zM224.0 54h7.3v1h-7.3zM28.0 55h7.3v1h-7.3zM86.1 55h7.3v1h-7.3zM165.9 55h7.3v1h-7.3zM209.5 57h7.3v1h-7.3zM238.5 57h14.5v1h-14.5zM173.2 58h14.5v1h-14.5zM86.1 59h7.3v1h-7.3zM209.5 59h21.8v1h-21.8zM231.2 59h7.3v1h-7.3zM202.2 60h7.3v1h-7.3zM28.0 61h7.3v1h-7.3zM136.9 61h14.5v1h-14.5zM115.1 62h14.5v1h-14.5zM224.0 62h7.3v1h-7.3zM28.0 63h7.3v1h-7.3zM93.3 63h29.0v1h-29.0zM71.5 64h7.3v1h-7.3zM216.7 64h7.3v1h-7.3zM28.0 65h7.3v1h-7.3zM71.5 65h21.8v1h-21.8zM78.8 66h7.3v1h-7.3zM86.1 66h14.5v1h-14.5zM144.1 66h21.8v1h-21.8zM245.7 67h7.3v1h-7.3zM245.7 68h7.3v1h-7.3zM136.9 69h14.5v1h-14.5zM107.8 70h14.5v1h-14.5zM151.4 70h7.3v1h-7.3zM71.5 72h14.5v1h-14.5zM115.1 72h7.3v1h-7.3zM129.6 72h14.5v1h-14.5zM42.5 73h43.5v1h-43.5zM194.9 73h21.8v1h-21.8zM93.3 74h14.5v1h-14.5zM231.2 74h14.5v1h-14.5zM57.0 75h7.3v1h-7.3zM78.8 75h7.3v1h-7.3zM35.3 76h14.5v1h-14.5zM158.6 76h7.3v1h-7.3zM35.3 80h21.8v1h-21.8zM115.1 80h7.3v1h-7.3zM180.4 80h7.3v1h-7.3zM216.7 80h7.3v1h-7.3zM129.6 81h7.3v1h-7.3zM136.9 83h7.3v1h-7.3zM173.2 83h21.8v1h-21.8zM245.7 83h7.3v1h-7.3zM238.5 85h14.5v1h-14.5zM49.8 86h29.0v1h-29.0zM86.1 88h7.3v1h-7.3zM216.7 88h7.3v1h-7.3zM86.1 91h7.3v1h-7.3zM209.5 91h7.3v1h-7.3zM49.8 92h14.5v1h-14.5zM86.1 92h21.8v1h-21.8zM129.6 93h7.3v1h-7.3zM107.8 94h7.3v1h-7.3zM122.4 94h7.3v1h-7.3zM231.2 94h7.3v1h-7.3zM209.5 95h14.5v1h-14.5zM42.5 96h7.3v1h-7.3zM158.6 96h7.3v1h-7.3zM194.9 97h7.3v1h-7.3zM71.5 98h7.3v1h-7.3zM64.3 100h21.8v1h-21.8zM78.8 101h14.5v1h-14.5zM180.4 101h14.5v1h-14.5zM42.5 102h7.3v1h-7.3zM144.1 102h21.8v1h-21.8zM194.9 103h7.3v1h-7.3zM64.3 104h7.3v1h-7.3zM35.3 105h7.3v1h-7.3zM209.5 105h7.3v1h-7.3zM115.1 106h7.3v1h-7.3zM49.8 107h14.5v1h-14.5zM35.3 108h14.5v1h-14.5zM49.8 108h7.3v1h-7.3zM122.4 108h14.5v1h-14.5zM158.6 108h7.3v1h-7.3zM115.1 110h7.3v1h-7.3zM202.2 110h29.0v1h-29.0zM93.3 115h14.5v1h-14.5zM209.5 117h14.5v1h-14.5zM42.5 119h7.3v1h-7.3zM245.7 121h7.3v1h-7.3zM49.8 122h7.3v1h-7.3zM100.6 122h7.3v1h-7.3zM202.2 124h7.3v1h-7.3zM224.0 128h7.3v1h-7.3zM107.8 129h7.3v1h-7.3zM202.2 129h7.3v1h-7.3zM158.6 132h7.3v1h-7.3zM224.0 132h14.5v1h-14.5zM136.9 133h21.8v1h-21.8zM173.2 133h21.8v1h-21.8zM86.1 134h14.5v1h-14.5zM187.7 134h7.3v1h-7.3zM151.4 135h14.5v1h-14.5zM180.4 136h7.3v1h-7.3zM42.5 137h7.3v1h-7.3zM122.4 137h14.5v1h-14.5zM187.7 137h7.3v1h-7.3zM238.5 137h7.3v1h-7.3zM28.0 138h7.3v1h-7.3zM194.9 138h14.5v1h-14.5zM86.1 139h7.3v1h-7.3z"/><path fill="#f8dbdf" d="M224.0 13h21.8v1h-21.8zM107.8 14h7.3v1h-7.3zM151.4 14h21.8v1h-21.8zM158.6 15h14.5v1h-14.5zM173.2 15h14.5v1h-14.5zM122.4 17h7.3v1h-7.3zM129.6 17h21.8v1h-21.8zM42.5 18h14.5v1h-14.5zM144.1 18h7.3v1h-7.3zM64.3 21h7.3v1h-7.3zM187.7 21h7.3v1h-7.3zM202.2 23h7.3v1h-7.3zM28.0 24h7.3v1h-7.3zM107.8 24h14.5v1h-14.5zM202.2 24h7.3v1h-7.3zM35.3 26h29.0v1h-29.0zM93.3 27h14.5v1h-14.5zM93.3 28h7.3v1h-7.3zM151.4 30h7.3v1h-7.3zM78.8 31h7.3v1h-7.3zM158.6 31h7.3v1h-7.3zM165.9 31h14.5v1h-14.5zM129.6 34h14.5v1h-14.5zM187.7 34h7.3v1h-7.3zM209.5 35h14.5v1h-14.5zM35.3 36h7.3v1h-7.3zM238.5 36h14.5v1h-14.5zM115.1 38h7.3v1h-7.3zM238.5 38h7.3v1h-7.3zM49.8 40h7.3v1h-7.3zM180.4 41h7.3v1h-7.3zM64.3 42h7.3v1h-7.3zM78.8 43h7.3v1h-7.3zM136.9 43h21.8v1h-21.8zM78.8 45h14.5v1h-14.5zM129.6 46h7.3v1h-7.3zM151.4 48h7.3v1h-7.3zM209.5 50h7.3v1h-7.3zM151.4 58h14.5v1h-14.5zM49.8 59h7.3v1h-7.3zM93.3 59h21.8v1h-21.8zM122.4 59h7.3v1h-7.3zM144.1 59h7.3v1h-7.3zM100.6 61h21.8v1h-21.8zM245.7 61h7.3v1h-7.3zM42.5 63h7.3v1h-7.3zM49.8 63h21.8v1h-21.8zM107.8 65h14.5v1h-14.5zM42.5 66h7.3v1h-7.3zM49.8 68h7.3v1h-7.3zM42.5 70h7.3v1h-7.3zM86.1 70h7.3v1h-7.3zM187.7 72h21.8v1h-21.8zM224.0 72h7.3v1h-7.3zM180.4 73h14.5v1h-14.5zM238.5 73h14.5v1h-14.5zM49.8 75h7.3v1h-7.3zM122.4 75h7.3v1h-7.3zM93.3 76h7.3v1h-7.3zM115.1 76h14.5v1h-14.5zM245.7 76h7.3v1h-7.3zM245.7 77h7.3v1h-7.3zM129.6 78h7.3v1h-7.3zM194.9 78h14.5v1h-14.5zM231.2 80h7.3v1h-7.3zM158.6 81h21.8v1h-21.8zM57.0 83h29.0v1h-29.0zM100.6 83h7.3v1h-7.3zM42.5 84h7.3v1h-7.3zM115.1 85h7.3v1h-7.3zM42.5 86h7.3v1h-7.3zM194.9 86h7.3v1h-7.3zM107.8 87h14.5v1h-14.5zM202.2 88h7.3v1h-7.3zM245.7 88h7.3v1h-7.3zM238.5 90h14.5v1h-14.5zM136.9 91h21.8v1h-21.8zM165.9 93h14.5v1h-14.5zM224.0 95h7.3v1h-7.3zM28.0 96h7.3v1h-7.3zM136.9 97h21.8v1h-21.8zM35.3 98h14.5v1h-14.5zM64.3 98h7.3v1h-7.3zM129.6 98h7.3v1h-7.3zM151.4 98h21.8v1h-21.8zM180.4 98h7.3v1h-7.3zM107.8 99h14.5v1h-14.5zM224.0 99h7.3v1h-7.3zM238.5 99h14.5v1h-14.5zM42.5 101h7.3v1h-7.3zM35.3 104h14.5v1h-14.5zM78.8 104h7.3v1h-7.3zM173.2 104h7.3v1h-7.3zM122.4 107h7.3v1h-7.3zM144.1 108h14.5v1h-14.5zM136.9 110h14.5v1h-14.5zM151.4 110h7.3v1h-7.3zM180.4 110h7.3v1h-7.3zM180.4 111h7.3v1h-7.3zM64.3 112h7.3v1h-7.3zM122.4 113h7.3v1h-7.3zM64.3 115h7.3v1h-7.3zM122.4 115h7.3v1h-7.3zM64.3 116h7.3v1h-7.3zM71.5 117h7.3v1h-7.3zM122.4 117h14.5v1h-14.5zM180.4 118h7.3v1h-7.3zM224.0 118h7.3v1h-7.3zM64.3 119h7.3v1h-7.3zM71.5 122h14.5v1h-14.5zM224.0 122h7.3v1h-7.3zM28.0 123h7.3v1h-7.3zM115.1 123h7.3v1h-7.3zM122.4 123h7.3v1h-7.3zM107.8 124h7.3v1h-7.3zM28.0 125h7.3v1h-7.3zM158.6 125h14.5v1h-14.5zM187.7 125h7.3v1h-7.3zM231.2 128h7.3v1h-7.3zM49.8 129h14.5v1h-14.5zM115.1 129h7.3v1h-7.3zM93.3 130h7.3v1h-7.3zM64.3 131h14.5v1h-14.5zM93.3 131h7.3v1h-7.3zM122.4 131h7.3v1h-7.3zM187.7 132h21.8v1h-21.8zM78.8 133h7.3v1h-7.3zM144.1 136h7.3v1h-7.3zM202.2 136h29.0v1h-29.0zM136.9 137h7.3v1h-7.3zM42.5 138h21.8v1h-21.8zM173.2 138h14.5v1h-14.5zM216.7 138h7.3v1h-7.3zM173.2 139h14.5v1h-14.5zM202.2 139h7.3v1h-7.3zM231.2 139h7.3v1h-7.3zM151.4 140h7.3v1h-7.3z"/><linearGradient id="g11_8_360" x1="0" y1="0" x2="0" y2="1"><stop offset="0" stop-color="#fbdfe1"/><stop offset="1" stop-color="#fce8ea"/></linearGradient><rect x="86.06" y="36" width="21.77" height="20.00" fill="url(#g11_8_360)"/><linearGradient id="g11_7_150" x1="0" y1="0" x2="0" y2="1"><stop offset="0" stop-color="#fce6e7"/><stop offset="1" stop-color="#fdebec"/></linearGradient><rect x="78.81" y="15" width="29.03" height="9.00" fill="url(#g11_7_150)"/><linearGradient id="g11_1_200" x1="0" y1="0" x2="0" y2="1"><stop offset="0" stop-color="#fce4e5"/><stop offset="1" stop-color="#fdedee"/></linearGradient><rect x="35.26" y="20" width="21.77" height="8.00" fill="url(#g11_1_200)"/></g><line x1="107.8" y1="57.2" x2="122.4" y2="58.3" stroke="#f2969a" stroke-width="0.9"/><line x1="129.6" y1="60.9" x2="136.9" y2="61.5" stroke="#f49fa4" stroke-width="0.9"/><line x1="144.2" y1="64.0" x2="151.4" y2="65.3" stroke="#f49fa4" stroke-width="0.9"/><line x1="165.9" y1="70.2" x2="187.7" y2="71.5" stroke="#f49fa4" stroke-width="0.9"/><line x1="201.9" y1="75.5" x2="230.5" y2="77.0" stroke="#f49fa4" stroke-width="0.9"/><line x1="237.8" y1="80.4" x2="245.2" y2="81.5" stroke="#f49fa4" stroke-width="0.9"/><linearGradient id="g11_1_139" x1="0" y1="0" x2="0" y2="1"><stop offset="0" stop-color="#e52933"/><stop offset="1" stop-color="#ef787e"/></linearGradient><rect x="35.26" y="13.9" width="7.26" height="6.90" fill="url(#g11_1_139)"/><linearGradient id="g11_2_218" x1="0" y1="0" x2="0" y2="1"><stop offset="0" stop-color="#e52933"/><stop offset="1" stop-color="#eb565e"/></linearGradient><rect x="42.52" y="21.8" width="7.26" height="5.00" fill="url(#g11_2_218)"/><linearGradient id="g11_3_268" x1="0" y1="0" x2="0" y2="1"><stop offset="0" stop-color="#e84048"/><stop offset="1" stop-color="#eb565e"/></linearGradient><rect x="49.77" y="26.8" width="7.26" height="3.00" fill="url(#g11_3_268)"/><rect x="57.03" y="30.0" width="14.52" height="2.60" fill="#e94b53"/><rect x="71.55" y="33.7" width="7.26" height="2.10" fill="#eb565e"/><linearGradient id="g11_7_363" x1="0" y1="0" x2="0" y2="1"><stop offset="0" stop-color="#e52933"/><stop offset="1" stop-color="#ed6d73"/></linearGradient><rect x="78.81" y="36.3" width="7.26" height="6.00" fill="url(#g11_7_363)"/><linearGradient id="g11_8_427" x1="0" y1="0" x2="0" y2="1"><stop offset="0" stop-color="#e7343d"/><stop offset="1" stop-color="#ed6d73"/></linearGradient><rect x="86.06" y="42.7" width="7.26" height="3.90" fill="url(#g11_8_427)"/><linearGradient id="g11_9_477" x1="0" y1="0" x2="0" y2="1"><stop offset="0" stop-color="#e7343d"/><stop offset="1" stop-color="#ed6d73"/></linearGradient><rect x="93.32" y="47.7" width="7.26" height="4.30" fill="url(#g11_9_477)"/><linearGradient id="g11_10_526" x1="0" y1="0" x2="0" y2="1"><stop offset="0" stop-color="#e52933"/><stop offset="1" stop-color="#eb565e"/></linearGradient><rect x="100.58" y="52.6" width="7.26" height="3.70" fill="url(#g11_10_526)"/><rect x="122.35" y="58.5" width="7.26" height="2.20" fill="#eb565e"/><rect x="136.87" y="61.2" width="7.26" height="2.30" fill="#ec6269"/><rect x="151.39" y="65.6" width="7.26" height="1.20" fill="#f28e94"/><rect x="158.65" y="67.0" width="7.26" height="2.60" fill="#e84048"/><rect x="187.68" y="71.4" width="7.26" height="1.30" fill="#f28e94"/><rect x="194.94" y="73.1" width="7.26" height="1.90" fill="#e94b53"/><rect x="231.23" y="76.8" width="7.26" height="3.20" fill="#e7343d"/><rect x="245.74" y="81.7" width="7.26" height="2.50" fill="#e84048"/></g><rect x="28" y="13" width="225" height="128" fill="none" stroke="#333" stroke-width="1.1"/><rect x="18.6" y="13" width="6.8" height="128" fill="#fff" stroke="#333" stroke-width="1.1"/><line x1="19" y1="21.5" x2="25" y2="21.5" stroke="#aaa" stroke-width="0.5"/><rect x="18.6" y="31.2" width="6.8" height="2.9" fill="#111"/><filter id="bl23" x="-2%" y="-2%" width="104%" height="104%"><feGaussianBlur stdDeviation="0.55"/></filter><clipPath id="cp23"><rect x="281" y="13" width="225" height="128"/></clipPath><g clip-path="url(#cp23)"><g filter="url(#bl23)"><linearGradient id="bg23_0" x1="0" y1="0" x2="0" y2="1"><stop offset="0" stop-color="#fef8f9"/><stop offset="1" stop-color="#fef4f4"/></linearGradient><rect x="281.00" y="13" width="7.31" height="128" fill="url(#bg23_0)"/><linearGradient id="bg23_1" x1="0" y1="0" x2="0" y2="1"><stop offset="0" stop-color="#fffcfc"/><stop offset="1" stop-color="#fef9fa"/></linearGradient><rect x="288.26" y="13" width="7.31" height="128" fill="url(#bg23_1)"/><linearGradient id="bg23_2" x1="0" y1="0" x2="0" y2="1"><stop offset="0" stop-color="#fffcfc"/><stop offset="1" stop-color="#fef9fa"/></linearGradient><rect x="295.52" y="13" width="7.31" height="128" fill="url(#bg23_2)"/><linearGradient id="bg23_3" x1="0" y1="0" x2="0" y2="1"><stop offset="0" stop-color="#fffbfb"/><stop offset="1" stop-color="#fef8f9"/></linearGradient><rect x="302.77" y="13" width="7.31" height="128" fill="url(#bg23_3)"/><linearGradient id="bg23_4" x1="0" y1="0" x2="0" y2="1"><stop offset="0" stop-color="#fffcfc"/><stop offset="1" stop-color="#fef9fa"/></linearGradient><rect x="310.03" y="13" width="7.31" height="128" fill="url(#bg23_4)"/><linearGradient id="bg23_5" x1="0" y1="0" x2="0" y2="1"><stop offset="0" stop-color="#fffcfc"/><stop offset="1" stop-color="#fef9fa"/></linearGradient><rect x="317.29" y="13" width="7.31" height="128" fill="url(#bg23_5)"/><linearGradient id="bg23_6" x1="0" y1="0" x2="0" y2="1"><stop offset="0" stop-color="#fffbfb"/><stop offset="1" stop-color="#fef8f9"/></linearGradient><rect x="324.55" y="13" width="7.31" height="128" fill="url(#bg23_6)"/><linearGradient id="bg23_7" x1="0" y1="0" x2="0" y2="1"><stop offset="0" stop-color="#fef7f7"/><stop offset="1" stop-color="#fdf2f2"/></linearGradient><rect x="331.81" y="13" width="7.31" height="128" fill="url(#bg23_7)"/><linearGradient id="bg23_8" x1="0" y1="0" x2="0" y2="1"><stop offset="0" stop-color="#fef6f7"/><stop offset="1" stop-color="#fdf0f1"/></linearGradient><rect x="339.06" y="13" width="7.31" height="128" fill="url(#bg23_8)"/><linearGradient id="bg23_9" x1="0" y1="0" x2="0" y2="1"><stop offset="0" stop-color="#fef7f7"/><stop offset="1" stop-color="#fdf2f2"/></linearGradient><rect x="346.32" y="13" width="7.31" height="128" fill="url(#bg23_9)"/><linearGradient id="bg23_10" x1="0" y1="0" x2="0" y2="1"><stop offset="0" stop-color="#fef8f8"/><stop offset="1" stop-color="#fef3f3"/></linearGradient><rect x="353.58" y="13" width="7.31" height="128" fill="url(#bg23_10)"/><linearGradient id="bg23_11" x1="0" y1="0" x2="0" y2="1"><stop offset="0" stop-color="#fffbfb"/><stop offset="1" stop-color="#fef8f9"/></linearGradient><rect x="360.84" y="13" width="7.31" height="128" fill="url(#bg23_11)"/><linearGradient id="bg23_12" x1="0" y1="0" x2="0" y2="1"><stop offset="0" stop-color="#fffbfb"/><stop offset="1" stop-color="#fef8f9"/></linearGradient><rect x="368.10" y="13" width="7.31" height="128" fill="url(#bg23_12)"/><linearGradient id="bg23_13" x1="0" y1="0" x2="0" y2="1"><stop offset="0" stop-color="#fefafa"/><stop offset="1" stop-color="#fef7f7"/></linearGradient><rect x="375.35" y="13" width="7.31" height="128" fill="url(#bg23_13)"/><linearGradient id="bg23_14" x1="0" y1="0" x2="0" y2="1"><stop offset="0" stop-color="#fefafa"/><stop offset="1" stop-color="#fef7f7"/></linearGradient><rect x="382.61" y="13" width="7.31" height="128" fill="url(#bg23_14)"/><linearGradient id="bg23_15" x1="0" y1="0" x2="0" y2="1"><stop offset="0" stop-color="#fefafa"/><stop offset="1" stop-color="#fef6f6"/></linearGradient><rect x="389.87" y="13" width="7.31" height="128" fill="url(#bg23_15)"/><linearGradient id="bg23_16" x1="0" y1="0" x2="0" y2="1"><stop offset="0" stop-color="#fefafa"/><stop offset="1" stop-color="#fef6f6"/></linearGradient><rect x="397.13" y="13" width="7.31" height="128" fill="url(#bg23_16)"/><linearGradient id="bg23_17" x1="0" y1="0" x2="0" y2="1"><stop offset="0" stop-color="#fefafa"/><stop offset="1" stop-color="#fef6f6"/></linearGradient><rect x="404.39" y="13" width="7.31" height="128" fill="url(#bg23_17)"/><linearGradient id="bg23_18" x1="0" y1="0" x2="0" y2="1"><stop offset="0" stop-color="#fefafa"/><stop offset="1" stop-color="#fef6f6"/></linearGradient><rect x="411.65" y="13" width="7.31" height="128" fill="url(#bg23_18)"/><linearGradient id="bg23_19" x1="0" y1="0" x2="0" y2="1"><stop offset="0" stop-color="#fefafa"/><stop offset="1" stop-color="#fef6f6"/></linearGradient><rect x="418.90" y="13" width="7.31" height="128" fill="url(#bg23_19)"/><linearGradient id="bg23_20" x1="0" y1="0" x2="0" y2="1"><stop offset="0" stop-color="#fefafa"/><stop offset="1" stop-color="#fef7f7"/></linearGradient><rect x="426.16" y="13" width="7.31" height="128" fill="url(#bg23_20)"/><linearGradient id="bg23_21" x1="0" y1="0" x2="0" y2="1"><stop offset="0" stop-color="#fef9f9"/><stop offset="1" stop-color="#fef5f5"/></linearGradient><rect x="433.42" y="13" width="7.31" height="128" fill="url(#bg23_21)"/><linearGradient id="bg23_22" x1="0" y1="0" x2="0" y2="1"><stop offset="0" stop-color="#fef9f9"/><stop offset="1" stop-color="#fef5f5"/></linearGradient><rect x="440.68" y="13" width="7.31" height="128" fill="url(#bg23_22)"/><linearGradient id="bg23_23" x1="0" y1="0" x2="0" y2="1"><stop offset="0" stop-color="#fef9f9"/><stop offset="1" stop-color="#fef5f5"/></linearGradient><rect x="447.94" y="13" width="7.31" height="128" fill="url(#bg23_23)"/><linearGradient id="bg23_24" x1="0" y1="0" x2="0" y2="1"><stop offset="0" stop-color="#fef9f9"/><stop offset="1" stop-color="#fef5f5"/></linearGradient><rect x="455.19" y="13" width="7.31" height="128" fill="url(#bg23_24)"/><linearGradient id="bg23_25" x1="0" y1="0" x2="0" y2="1"><stop offset="0" stop-color="#fefafa"/><stop offset="1" stop-color="#fef6f6"/></linearGradient><rect x="462.45" y="13" width="7.31" height="128" fill="url(#bg23_25)"/><linearGradient id="bg23_26" x1="0" y1="0" x2="0" y2="1"><stop offset="0" stop-color="#fef9f9"/><stop offset="1" stop-color="#fef5f5"/></linearGradient><rect x="469.71" y="13" width="7.31" height="128" fill="url(#bg23_26)"/><linearGradient id="bg23_27" x1="0" y1="0" x2="0" y2="1"><stop offset="0" stop-color="#fef9f9"/><stop offset="1" stop-color="#fef5f5"/></linearGradient><rect x="476.97" y="13" width="7.31" height="128" fill="url(#bg23_27)"/><linearGradient id="bg23_28" x1="0" y1="0" x2="0" y2="1"><stop offset="0" stop-color="#fef9f9"/><stop offset="1" stop-color="#fef5f5"/></linearGradient><rect x="484.23" y="13" width="7.31" height="128" fill="url(#bg23_28)"/><linearGradient id="bg23_29" x1="0" y1="0" x2="0" y2="1"><stop offset="0" stop-color="#fef9f9"/><stop offset="1" stop-color="#fef5f5"/></linearGradient><rect x="491.48" y="13" width="7.31" height="128" fill="url(#bg23_29)"/><linearGradient id="bg23_30" x1="0" y1="0" x2="0" y2="1"><stop offset="0" stop-color="#fef9f9"/><stop offset="1" stop-color="#fef5f5"/></linearGradient><rect x="498.74" y="13" width="7.31" height="128" fill="url(#bg23_30)"/><path fill="#fdf4f6" d="M331.8 13h7.3v1h-7.3zM397.1 13h7.3v1h-7.3zM288.3 14h7.3v1h-7.3zM324.5 14h7.3v1h-7.3zM382.6 14h7.3v1h-7.3zM418.9 14h7.3v1h-7.3zM477.0 14h7.3v1h-7.3zM389.9 15h7.3v1h-7.3zM462.5 15h7.3v1h-7.3zM477.0 15h7.3v1h-7.3zM484.2 15h7.3v1h-7.3zM324.5 16h7.3v1h-7.3zM382.6 16h7.3v1h-7.3zM324.5 17h7.3v1h-7.3zM360.8 17h14.5v1h-14.5zM404.4 17h7.3v1h-7.3zM433.4 17h7.3v1h-7.3zM469.7 17h7.3v1h-7.3zM295.5 18h7.3v1h-7.3zM382.6 18h7.3v1h-7.3zM404.4 18h7.3v1h-7.3zM491.5 18h14.5v1h-14.5zM288.3 19h7.3v1h-7.3zM295.5 19h7.3v1h-7.3zM353.6 19h14.5v1h-14.5zM447.9 20h7.3v1h-7.3zM477.0 20h7.3v1h-7.3zM389.9 21h7.3v1h-7.3zM397.1 21h7.3v1h-7.3zM418.9 21h7.3v1h-7.3zM353.6 22h36.3v1h-36.3zM339.1 23h7.3v1h-7.3zM382.6 23h29.0v1h-29.0zM484.2 23h7.3v1h-7.3zM498.7 23h7.3v1h-7.3zM310.0 25h7.3v1h-7.3zM368.1 25h29.0v1h-29.0zM440.7 25h7.3v1h-7.3zM469.7 25h29.0v1h-29.0zM360.8 26h7.3v1h-7.3zM491.5 26h7.3v1h-7.3zM389.9 27h7.3v1h-7.3zM339.1 28h7.3v1h-7.3zM353.6 28h7.3v1h-7.3zM360.8 28h36.3v1h-36.3zM404.4 28h14.5v1h-14.5zM491.5 28h14.5v1h-14.5zM310.0 29h43.5v1h-43.5zM397.1 29h7.3v1h-7.3zM295.5 30h7.3v1h-7.3zM331.8 30h7.3v1h-7.3zM447.9 30h29.0v1h-29.0zM484.2 30h7.3v1h-7.3zM491.5 30h14.5v1h-14.5zM317.3 31h7.3v1h-7.3zM382.6 31h29.0v1h-29.0zM484.2 31h7.3v1h-7.3zM310.0 32h7.3v1h-7.3zM317.3 32h7.3v1h-7.3zM324.5 32h14.5v1h-14.5zM411.6 32h7.3v1h-7.3zM433.4 32h7.3v1h-7.3zM491.5 32h14.5v1h-14.5zM317.3 33h7.3v1h-7.3zM339.1 33h7.3v1h-7.3zM368.1 33h7.3v1h-7.3zM404.4 33h7.3v1h-7.3zM353.6 34h14.5v1h-14.5zM317.3 35h29.0v1h-29.0zM397.1 35h7.3v1h-7.3zM281.0 36h7.3v1h-7.3zM317.3 36h29.0v1h-29.0zM469.7 36h7.3v1h-7.3zM317.3 37h29.0v1h-29.0zM368.1 37h14.5v1h-14.5zM382.6 37h7.3v1h-7.3zM389.9 37h7.3v1h-7.3zM477.0 37h7.3v1h-7.3zM411.6 38h21.8v1h-21.8zM440.7 38h7.3v1h-7.3zM281.0 40h7.3v1h-7.3zM331.8 40h36.3v1h-36.3zM426.2 40h7.3v1h-7.3zM295.5 41h7.3v1h-7.3zM389.9 41h14.5v1h-14.5zM447.9 41h7.3v1h-7.3zM426.2 42h14.5v1h-14.5zM346.3 43h7.3v1h-7.3zM389.9 43h7.3v1h-7.3zM404.4 43h14.5v1h-14.5zM455.2 43h14.5v1h-14.5zM498.7 43h7.3v1h-7.3zM389.9 44h7.3v1h-7.3zM404.4 44h14.5v1h-14.5zM426.2 44h7.3v1h-7.3zM469.7 44h7.3v1h-7.3zM310.0 45h14.5v1h-14.5zM389.9 45h7.3v1h-7.3zM418.9 45h7.3v1h-7.3zM462.5 45h7.3v1h-7.3zM455.2 46h7.3v1h-7.3zM324.5 47h7.3v1h-7.3zM382.6 48h29.0v1h-29.0zM411.6 48h14.5v1h-14.5zM469.7 48h7.3v1h-7.3zM498.7 48h7.3v1h-7.3zM331.8 49h7.3v1h-7.3zM462.5 49h14.5v1h-14.5zM339.1 50h7.3v1h-7.3zM317.3 52h7.3v1h-7.3zM360.8 52h7.3v1h-7.3zM440.7 52h29.0v1h-29.0zM440.7 53h7.3v1h-7.3zM404.4 55h14.5v1h-14.5zM418.9 56h14.5v1h-14.5zM455.2 56h7.3v1h-7.3zM491.5 56h14.5v1h-14.5zM397.1 57h21.8v1h-21.8zM426.2 57h7.3v1h-7.3zM440.7 57h7.3v1h-7.3zM491.5 57h7.3v1h-7.3zM302.8 58h14.5v1h-14.5zM462.5 58h7.3v1h-7.3zM353.6 59h21.8v1h-21.8zM382.6 59h7.3v1h-7.3zM382.6 60h7.3v1h-7.3zM462.5 61h7.3v1h-7.3zM469.7 61h14.5v1h-14.5zM339.1 63h21.8v1h-21.8zM368.1 63h14.5v1h-14.5zM484.2 63h14.5v1h-14.5zM324.5 64h7.3v1h-7.3zM498.7 64h7.3v1h-7.3zM310.0 65h7.3v1h-7.3zM389.9 65h7.3v1h-7.3zM440.7 66h14.5v1h-14.5zM491.5 66h7.3v1h-7.3zM288.3 67h7.3v1h-7.3zM295.5 67h7.3v1h-7.3zM440.7 67h7.3v1h-7.3zM447.9 67h7.3v1h-7.3zM455.2 67h14.5v1h-14.5zM484.2 67h14.5v1h-14.5zM295.5 68h7.3v1h-7.3zM411.6 68h7.3v1h-7.3zM440.7 68h7.3v1h-7.3zM339.1 69h7.3v1h-7.3zM360.8 69h21.8v1h-21.8zM397.1 69h7.3v1h-7.3zM418.9 69h14.5v1h-14.5zM440.7 69h7.3v1h-7.3zM288.3 70h7.3v1h-7.3zM484.2 70h7.3v1h-7.3zM353.6 71h14.5v1h-14.5zM455.2 71h14.5v1h-14.5zM477.0 71h7.3v1h-7.3zM491.5 71h14.5v1h-14.5zM281.0 72h7.3v1h-7.3zM484.2 72h21.8v1h-21.8zM360.8 73h7.3v1h-7.3zM375.4 73h7.3v1h-7.3zM426.2 73h7.3v1h-7.3zM281.0 74h7.3v1h-7.3zM317.3 74h7.3v1h-7.3zM288.3 75h7.3v1h-7.3zM295.5 75h21.8v1h-21.8zM346.3 75h14.5v1h-14.5zM375.4 75h7.3v1h-7.3zM484.2 75h14.5v1h-14.5zM382.6 76h7.3v1h-7.3zM389.9 76h7.3v1h-7.3zM491.5 76h14.5v1h-14.5zM331.8 77h36.3v1h-36.3zM382.6 77h21.8v1h-21.8zM484.2 77h7.3v1h-7.3zM288.3 78h14.5v1h-14.5zM360.8 78h7.3v1h-7.3zM353.6 79h7.3v1h-7.3zM382.6 79h7.3v1h-7.3zM360.8 80h7.3v1h-7.3zM440.7 80h7.3v1h-7.3zM288.3 81h21.8v1h-21.8zM331.8 81h14.5v1h-14.5zM491.5 81h7.3v1h-7.3zM498.7 83h7.3v1h-7.3zM353.6 84h29.0v1h-29.0zM389.9 84h7.3v1h-7.3zM411.6 84h7.3v1h-7.3zM498.7 84h7.3v1h-7.3zM288.3 85h7.3v1h-7.3zM324.5 85h14.5v1h-14.5zM382.6 85h14.5v1h-14.5zM346.3 86h7.3v1h-7.3zM368.1 86h7.3v1h-7.3zM484.2 86h14.5v1h-14.5zM339.1 87h14.5v1h-14.5zM375.4 87h7.3v1h-7.3zM397.1 87h14.5v1h-14.5zM346.3 88h7.3v1h-7.3zM368.1 88h21.8v1h-21.8zM447.9 88h7.3v1h-7.3zM477.0 88h14.5v1h-14.5zM491.5 88h7.3v1h-7.3zM288.3 89h14.5v1h-14.5zM310.0 89h7.3v1h-7.3zM346.3 89h14.5v1h-14.5zM447.9 89h7.3v1h-7.3zM477.0 89h14.5v1h-14.5zM360.8 90h14.5v1h-14.5zM375.4 90h21.8v1h-21.8zM426.2 90h7.3v1h-7.3zM498.7 90h7.3v1h-7.3zM281.0 91h14.5v1h-14.5zM346.3 91h7.3v1h-7.3zM491.5 91h7.3v1h-7.3zM331.8 92h7.3v1h-7.3zM360.8 93h14.5v1h-14.5zM498.7 93h7.3v1h-7.3zM426.2 94h14.5v1h-14.5zM484.2 94h7.3v1h-7.3zM447.9 95h7.3v1h-7.3zM331.8 97h29.0v1h-29.0zM426.2 97h14.5v1h-14.5zM324.5 98h14.5v1h-14.5zM339.1 98h14.5v1h-14.5zM397.1 98h7.3v1h-7.3zM455.2 98h7.3v1h-7.3zM462.5 98h21.8v1h-21.8zM317.3 99h14.5v1h-14.5zM339.1 99h14.5v1h-14.5zM389.9 99h7.3v1h-7.3zM498.7 99h7.3v1h-7.3zM346.3 100h50.8v1h-50.8zM462.5 100h7.3v1h-7.3zM469.7 100h7.3v1h-7.3zM317.3 101h7.3v1h-7.3zM353.6 101h21.8v1h-21.8zM477.0 101h7.3v1h-7.3zM302.8 102h14.5v1h-14.5zM331.8 102h14.5v1h-14.5zM346.3 102h14.5v1h-14.5zM404.4 102h7.3v1h-7.3zM462.5 102h7.3v1h-7.3zM375.4 103h14.5v1h-14.5zM397.1 103h14.5v1h-14.5zM455.2 103h7.3v1h-7.3zM295.5 104h21.8v1h-21.8zM339.1 104h7.3v1h-7.3zM281.0 105h21.8v1h-21.8zM288.3 106h21.8v1h-21.8zM317.3 106h14.5v1h-14.5zM382.6 106h7.3v1h-7.3zM484.2 106h14.5v1h-14.5zM389.9 107h7.3v1h-7.3zM324.5 108h21.8v1h-21.8zM368.1 108h7.3v1h-7.3zM455.2 108h7.3v1h-7.3zM484.2 109h7.3v1h-7.3zM418.9 110h14.5v1h-14.5zM346.3 111h14.5v1h-14.5zM368.1 111h7.3v1h-7.3zM491.5 111h7.3v1h-7.3zM498.7 112h7.3v1h-7.3zM498.7 113h7.3v1h-7.3zM310.0 115h7.3v1h-7.3zM462.5 115h21.8v1h-21.8zM484.2 115h7.3v1h-7.3zM498.7 115h7.3v1h-7.3zM310.0 116h7.3v1h-7.3zM411.6 116h7.3v1h-7.3zM281.0 117h14.5v1h-14.5zM281.0 118h7.3v1h-7.3zM288.3 118h7.3v1h-7.3zM375.4 118h7.3v1h-7.3zM382.6 118h7.3v1h-7.3zM491.5 118h14.5v1h-14.5zM288.3 119h7.3v1h-7.3zM360.8 119h14.5v1h-14.5zM411.6 119h7.3v1h-7.3zM462.5 119h7.3v1h-7.3zM477.0 119h14.5v1h-14.5zM288.3 120h7.3v1h-7.3zM368.1 120h7.3v1h-7.3zM375.4 120h7.3v1h-7.3zM389.9 120h14.5v1h-14.5zM404.4 120h29.0v1h-29.0zM440.7 120h14.5v1h-14.5zM455.2 121h7.3v1h-7.3zM498.7 121h7.3v1h-7.3zM295.5 122h7.3v1h-7.3zM382.6 122h7.3v1h-7.3zM426.2 122h14.5v1h-14.5zM477.0 122h7.3v1h-7.3zM281.0 123h7.3v1h-7.3zM288.3 123h7.3v1h-7.3zM302.8 123h7.3v1h-7.3zM310.0 123h14.5v1h-14.5zM331.8 123h21.8v1h-21.8zM411.6 123h29.0v1h-29.0zM295.5 124h7.3v1h-7.3zM310.0 124h7.3v1h-7.3zM331.8 124h7.3v1h-7.3zM433.4 124h7.3v1h-7.3zM469.7 124h7.3v1h-7.3zM281.0 125h7.3v1h-7.3zM317.3 125h7.3v1h-7.3zM324.5 125h7.3v1h-7.3zM360.8 125h14.5v1h-14.5zM382.6 125h7.3v1h-7.3zM397.1 125h14.5v1h-14.5zM317.3 126h7.3v1h-7.3zM360.8 126h7.3v1h-7.3zM368.1 126h14.5v1h-14.5zM302.8 127h14.5v1h-14.5zM397.1 127h21.8v1h-21.8zM295.5 128h14.5v1h-14.5zM346.3 128h7.3v1h-7.3zM411.6 128h7.3v1h-7.3zM426.2 128h7.3v1h-7.3zM469.7 128h14.5v1h-14.5zM447.9 129h14.5v1h-14.5zM498.7 129h7.3v1h-7.3zM302.8 130h7.3v1h-7.3zM339.1 130h29.0v1h-29.0zM389.9 130h7.3v1h-7.3zM440.7 130h14.5v1h-14.5zM295.5 132h7.3v1h-7.3zM302.8 132h14.5v1h-14.5zM331.8 132h7.3v1h-7.3zM302.8 133h21.8v1h-21.8zM331.8 133h14.5v1h-14.5zM455.2 133h7.3v1h-7.3zM462.5 133h14.5v1h-14.5zM477.0 133h7.3v1h-7.3zM310.0 134h7.3v1h-7.3zM331.8 134h21.8v1h-21.8zM455.2 134h7.3v1h-7.3zM477.0 134h14.5v1h-14.5zM317.3 135h7.3v1h-7.3zM353.6 135h21.8v1h-21.8zM411.6 135h7.3v1h-7.3zM426.2 135h29.0v1h-29.0zM455.2 135h7.3v1h-7.3zM411.6 136h14.5v1h-14.5zM368.1 137h7.3v1h-7.3zM397.1 137h7.3v1h-7.3zM484.2 137h7.3v1h-7.3zM281.0 138h21.8v1h-21.8zM302.8 138h7.3v1h-7.3zM375.4 138h7.3v1h-7.3zM404.4 138h7.3v1h-7.3zM462.5 138h21.8v1h-21.8zM411.6 139h7.3v1h-7.3zM484.2 139h7.3v1h-7.3zM310.0 140h14.5v1h-14.5zM433.4 140h7.3v1h-7.3zM455.2 140h14.5v1h-14.5zM484.2 140h7.3v1h-7.3z"/><path fill="#fceff0" d="M302.8 13h14.5v1h-14.5zM375.4 13h7.3v1h-7.3zM484.2 13h7.3v1h-7.3zM368.1 14h14.5v1h-14.5zM295.5 17h7.3v1h-7.3zM339.1 17h7.3v1h-7.3zM447.9 17h14.5v1h-14.5zM324.5 19h7.3v1h-7.3zM426.2 21h7.3v1h-7.3zM281.0 23h7.3v1h-7.3zM317.3 25h7.3v1h-7.3zM353.6 25h7.3v1h-7.3zM397.1 26h14.5v1h-14.5zM469.7 26h7.3v1h-7.3zM310.0 28h7.3v1h-7.3zM281.0 29h7.3v1h-7.3zM288.3 30h7.3v1h-7.3zM353.6 30h7.3v1h-7.3zM281.0 32h7.3v1h-7.3zM302.8 33h7.3v1h-7.3zM498.7 33h7.3v1h-7.3zM324.5 34h14.5v1h-14.5zM382.6 34h36.3v1h-36.3zM447.9 34h7.3v1h-7.3zM353.6 35h7.3v1h-7.3zM382.6 35h14.5v1h-14.5zM418.9 35h21.8v1h-21.8zM353.6 36h21.8v1h-21.8zM469.7 37h7.3v1h-7.3zM324.5 38h14.5v1h-14.5zM462.5 38h21.8v1h-21.8zM382.6 39h7.3v1h-7.3zM498.7 39h7.3v1h-7.3zM397.1 40h14.5v1h-14.5zM317.3 41h14.5v1h-14.5zM346.3 41h7.3v1h-7.3zM360.8 41h7.3v1h-7.3zM389.9 42h21.8v1h-21.8zM491.5 42h7.3v1h-7.3zM295.5 43h7.3v1h-7.3zM477.0 44h7.3v1h-7.3zM484.2 44h21.8v1h-21.8zM288.3 47h29.0v1h-29.0zM331.8 47h7.3v1h-7.3zM484.2 47h7.3v1h-7.3zM426.2 49h7.3v1h-7.3zM447.9 49h7.3v1h-7.3zM455.2 49h7.3v1h-7.3zM288.3 50h7.3v1h-7.3zM411.6 50h7.3v1h-7.3zM295.5 51h14.5v1h-14.5zM368.1 55h7.3v1h-7.3zM382.6 55h7.3v1h-7.3zM288.3 56h7.3v1h-7.3zM477.0 56h7.3v1h-7.3zM310.0 57h7.3v1h-7.3zM389.9 57h7.3v1h-7.3zM418.9 57h7.3v1h-7.3zM281.0 58h7.3v1h-7.3zM281.0 59h21.8v1h-21.8zM440.7 59h14.5v1h-14.5zM317.3 61h7.3v1h-7.3zM324.5 62h14.5v1h-14.5zM404.4 65h7.3v1h-7.3zM411.6 65h7.3v1h-7.3zM433.4 65h7.3v1h-7.3zM288.3 66h7.3v1h-7.3zM295.5 66h14.5v1h-14.5zM404.4 66h7.3v1h-7.3zM368.1 67h7.3v1h-7.3zM389.9 67h7.3v1h-7.3zM498.7 67h7.3v1h-7.3zM491.5 69h7.3v1h-7.3zM389.9 71h14.5v1h-14.5zM310.0 72h7.3v1h-7.3zM346.3 72h7.3v1h-7.3zM426.2 72h7.3v1h-7.3zM281.0 73h7.3v1h-7.3zM382.6 73h7.3v1h-7.3zM411.6 73h7.3v1h-7.3zM491.5 73h7.3v1h-7.3zM397.1 74h7.3v1h-7.3zM484.2 74h21.8v1h-21.8zM317.3 75h7.3v1h-7.3zM418.9 75h14.5v1h-14.5zM360.8 76h7.3v1h-7.3zM404.4 76h14.5v1h-14.5zM433.4 76h7.3v1h-7.3zM426.2 77h7.3v1h-7.3zM462.5 77h7.3v1h-7.3zM302.8 78h7.3v1h-7.3zM411.6 78h14.5v1h-14.5zM324.5 79h7.3v1h-7.3zM353.6 80h7.3v1h-7.3zM484.2 80h21.8v1h-21.8zM368.1 81h7.3v1h-7.3zM382.6 82h14.5v1h-14.5zM447.9 83h21.8v1h-21.8zM331.8 84h14.5v1h-14.5zM339.1 85h36.3v1h-36.3zM331.8 86h14.5v1h-14.5zM302.8 89h7.3v1h-7.3zM397.1 90h7.3v1h-7.3zM484.2 90h7.3v1h-7.3zM368.1 91h14.5v1h-14.5zM281.0 92h7.3v1h-7.3zM360.8 92h7.3v1h-7.3zM397.1 92h14.5v1h-14.5zM469.7 92h7.3v1h-7.3zM462.5 94h14.5v1h-14.5zM426.2 95h14.5v1h-14.5zM440.7 95h7.3v1h-7.3zM462.5 96h14.5v1h-14.5zM281.0 97h7.3v1h-7.3zM288.3 98h7.3v1h-7.3zM411.6 98h7.3v1h-7.3zM491.5 98h7.3v1h-7.3zM404.4 99h21.8v1h-21.8zM317.3 100h7.3v1h-7.3zM498.7 101h7.3v1h-7.3zM281.0 102h7.3v1h-7.3zM498.7 102h7.3v1h-7.3zM288.3 103h7.3v1h-7.3zM360.8 103h7.3v1h-7.3zM382.6 104h36.3v1h-36.3zM418.9 104h21.8v1h-21.8zM353.6 105h7.3v1h-7.3zM389.9 106h7.3v1h-7.3zM339.1 107h7.3v1h-7.3zM397.1 107h7.3v1h-7.3zM440.7 107h14.5v1h-14.5zM491.5 107h14.5v1h-14.5zM375.4 108h14.5v1h-14.5zM411.6 108h7.3v1h-7.3zM469.7 108h7.3v1h-7.3zM397.1 109h7.3v1h-7.3zM310.0 110h7.3v1h-7.3zM433.4 110h29.0v1h-29.0zM462.5 110h7.3v1h-7.3zM339.1 112h14.5v1h-14.5zM288.3 113h7.3v1h-7.3zM295.5 113h14.5v1h-14.5zM295.5 115h7.3v1h-7.3zM339.1 115h7.3v1h-7.3zM331.8 116h7.3v1h-7.3zM498.7 116h7.3v1h-7.3zM440.7 117h21.8v1h-21.8zM317.3 118h7.3v1h-7.3zM469.7 118h14.5v1h-14.5zM397.1 119h7.3v1h-7.3zM302.8 120h7.3v1h-7.3zM389.9 121h7.3v1h-7.3zM360.8 122h14.5v1h-14.5zM382.6 123h14.5v1h-14.5zM397.1 123h7.3v1h-7.3zM440.7 123h7.3v1h-7.3zM477.0 123h7.3v1h-7.3zM440.7 124h14.5v1h-14.5zM353.6 126h7.3v1h-7.3zM389.9 126h21.8v1h-21.8zM317.3 128h14.5v1h-14.5zM375.4 128h21.8v1h-21.8zM317.3 129h7.3v1h-7.3zM317.3 130h14.5v1h-14.5zM484.2 131h7.3v1h-7.3zM360.8 132h7.3v1h-7.3zM491.5 133h14.5v1h-14.5zM447.9 134h7.3v1h-7.3zM310.0 135h7.3v1h-7.3zM397.1 135h7.3v1h-7.3zM288.3 136h7.3v1h-7.3zM295.5 137h7.3v1h-7.3zM302.8 137h36.3v1h-36.3zM375.4 137h7.3v1h-7.3zM404.4 139h7.3v1h-7.3zM433.4 139h21.8v1h-21.8zM491.5 139h7.3v1h-7.3zM302.8 140h7.3v1h-7.3z"/><path fill="#fae7e9" d="M455.2 13h14.5v1h-14.5zM281.0 15h21.8v1h-21.8zM324.5 15h21.8v1h-21.8zM440.7 15h7.3v1h-7.3zM353.6 16h7.3v1h-7.3zM491.5 17h7.3v1h-7.3zM353.6 18h7.3v1h-7.3zM484.2 20h7.3v1h-7.3zM339.1 22h7.3v1h-7.3zM469.7 22h7.3v1h-7.3zM281.0 25h7.3v1h-7.3zM331.8 25h14.5v1h-14.5zM411.6 25h7.3v1h-7.3zM455.2 25h7.3v1h-7.3zM288.3 28h7.3v1h-7.3zM389.9 29h7.3v1h-7.3zM302.8 30h29.0v1h-29.0zM368.1 30h29.0v1h-29.0zM397.1 30h14.5v1h-14.5zM346.3 32h14.5v1h-14.5zM404.4 32h7.3v1h-7.3zM288.3 33h7.3v1h-7.3zM288.3 35h7.3v1h-7.3zM404.4 35h7.3v1h-7.3zM302.8 38h7.3v1h-7.3zM360.8 39h7.3v1h-7.3zM411.6 39h14.5v1h-14.5zM433.4 39h14.5v1h-14.5zM324.5 40h7.3v1h-7.3zM281.0 41h7.3v1h-7.3zM433.4 43h21.8v1h-21.8zM331.8 44h7.3v1h-7.3zM288.3 48h14.5v1h-14.5zM433.4 48h7.3v1h-7.3zM339.1 49h14.5v1h-14.5zM484.2 49h7.3v1h-7.3zM418.9 50h7.3v1h-7.3zM447.9 51h7.3v1h-7.3zM339.1 52h7.3v1h-7.3zM295.5 54h7.3v1h-7.3zM353.6 55h7.3v1h-7.3zM469.7 55h14.5v1h-14.5zM339.1 56h7.3v1h-7.3zM447.9 57h14.5v1h-14.5zM477.0 57h7.3v1h-7.3zM498.7 57h7.3v1h-7.3zM324.5 59h21.8v1h-21.8zM346.3 59h7.3v1h-7.3zM484.2 59h7.3v1h-7.3zM433.4 60h7.3v1h-7.3zM375.4 61h7.3v1h-7.3zM440.7 62h14.5v1h-14.5zM288.3 63h14.5v1h-14.5zM302.8 64h7.3v1h-7.3zM418.9 64h14.5v1h-14.5zM462.5 64h14.5v1h-14.5zM331.8 65h7.3v1h-7.3zM440.7 65h14.5v1h-14.5zM382.6 66h7.3v1h-7.3zM302.8 67h14.5v1h-14.5zM411.6 67h7.3v1h-7.3zM302.8 68h14.5v1h-14.5zM331.8 68h7.3v1h-7.3zM346.3 68h36.3v1h-36.3zM324.5 69h7.3v1h-7.3zM447.9 70h7.3v1h-7.3zM455.2 70h14.5v1h-14.5zM477.0 70h7.3v1h-7.3zM331.8 71h14.5v1h-14.5zM368.1 71h7.3v1h-7.3zM447.9 71h7.3v1h-7.3zM368.1 72h7.3v1h-7.3zM469.7 72h7.3v1h-7.3zM281.0 75h7.3v1h-7.3zM331.8 76h7.3v1h-7.3zM331.8 79h7.3v1h-7.3zM360.8 79h7.3v1h-7.3zM491.5 79h7.3v1h-7.3zM404.4 80h7.3v1h-7.3zM339.1 83h14.5v1h-14.5zM302.8 84h29.0v1h-29.0zM491.5 85h7.3v1h-7.3zM418.9 86h14.5v1h-14.5zM302.8 88h21.8v1h-21.8zM324.5 88h14.5v1h-14.5zM389.9 88h21.8v1h-21.8zM382.6 89h14.5v1h-14.5zM498.7 89h7.3v1h-7.3zM411.6 90h7.3v1h-7.3zM375.4 93h36.3v1h-36.3zM281.0 94h7.3v1h-7.3zM389.9 94h7.3v1h-7.3zM281.0 95h7.3v1h-7.3zM295.5 95h7.3v1h-7.3zM433.4 96h7.3v1h-7.3zM455.2 96h7.3v1h-7.3zM302.8 98h21.8v1h-21.8zM418.9 98h7.3v1h-7.3zM288.3 101h7.3v1h-7.3zM389.9 101h7.3v1h-7.3zM397.1 101h7.3v1h-7.3zM418.9 101h7.3v1h-7.3zM440.7 101h21.8v1h-21.8zM317.3 102h7.3v1h-7.3zM477.0 102h21.8v1h-21.8zM469.7 103h7.3v1h-7.3zM317.3 104h7.3v1h-7.3zM491.5 104h14.5v1h-14.5zM397.1 105h7.3v1h-7.3zM353.6 106h7.3v1h-7.3zM353.6 108h7.3v1h-7.3zM397.1 108h7.3v1h-7.3zM484.2 108h7.3v1h-7.3zM295.5 109h7.3v1h-7.3zM288.3 110h7.3v1h-7.3zM469.7 110h7.3v1h-7.3zM404.4 111h7.3v1h-7.3zM484.2 113h7.3v1h-7.3zM447.9 114h21.8v1h-21.8zM324.5 117h21.8v1h-21.8zM324.5 118h7.3v1h-7.3zM484.2 118h7.3v1h-7.3zM302.8 119h7.3v1h-7.3zM498.7 119h7.3v1h-7.3zM353.6 120h7.3v1h-7.3zM382.6 120h7.3v1h-7.3zM484.2 120h14.5v1h-14.5zM389.9 122h7.3v1h-7.3zM418.9 124h14.5v1h-14.5zM426.2 125h50.8v1h-50.8zM295.5 126h7.3v1h-7.3zM302.8 129h14.5v1h-14.5zM404.4 129h7.3v1h-7.3zM418.9 130h7.3v1h-7.3zM477.0 132h7.3v1h-7.3zM360.8 133h21.8v1h-21.8zM404.4 133h7.3v1h-7.3zM375.4 134h7.3v1h-7.3zM498.7 134h7.3v1h-7.3zM295.5 135h7.3v1h-7.3zM317.3 139h7.3v1h-7.3z"/><path fill="#f8dbdf" d="M288.3 13h14.5v1h-14.5zM331.8 14h7.3v1h-7.3zM491.5 14h14.5v1h-14.5zM353.6 15h7.3v1h-7.3zM302.8 17h7.3v1h-7.3zM310.0 18h29.0v1h-29.0zM339.1 18h7.3v1h-7.3zM418.9 18h7.3v1h-7.3zM462.5 18h7.3v1h-7.3zM360.8 20h7.3v1h-7.3zM440.7 23h14.5v1h-14.5zM288.3 25h7.3v1h-7.3zM404.4 25h7.3v1h-7.3zM433.4 25h7.3v1h-7.3zM310.0 26h7.3v1h-7.3zM324.5 28h7.3v1h-7.3zM484.2 28h7.3v1h-7.3zM426.2 29h14.5v1h-14.5zM455.2 29h7.3v1h-7.3zM288.3 32h7.3v1h-7.3zM469.7 33h7.3v1h-7.3zM498.7 35h7.3v1h-7.3zM368.1 38h7.3v1h-7.3zM389.9 38h14.5v1h-14.5zM317.3 39h43.5v1h-43.5zM288.3 40h14.5v1h-14.5zM462.5 41h14.5v1h-14.5zM295.5 42h7.3v1h-7.3zM346.3 42h7.3v1h-7.3zM440.7 42h21.8v1h-21.8zM346.3 44h7.3v1h-7.3zM368.1 44h7.3v1h-7.3zM317.3 47h7.3v1h-7.3zM339.1 48h29.0v1h-29.0zM360.8 49h21.8v1h-21.8zM455.2 50h7.3v1h-7.3zM426.2 51h7.3v1h-7.3zM368.1 52h7.3v1h-7.3zM389.9 52h7.3v1h-7.3zM447.9 53h7.3v1h-7.3zM353.6 54h7.3v1h-7.3zM360.8 56h7.3v1h-7.3zM295.5 58h7.3v1h-7.3zM411.6 59h14.5v1h-14.5zM455.2 59h14.5v1h-14.5zM389.9 60h14.5v1h-14.5zM426.2 61h7.3v1h-7.3zM281.0 65h29.0v1h-29.0zM469.7 68h7.3v1h-7.3zM339.1 70h7.3v1h-7.3zM353.6 70h14.5v1h-14.5zM368.1 70h7.3v1h-7.3zM462.5 72h7.3v1h-7.3zM433.4 73h43.5v1h-43.5zM368.1 75h7.3v1h-7.3zM447.9 75h7.3v1h-7.3zM477.0 75h7.3v1h-7.3zM346.3 76h7.3v1h-7.3zM477.0 77h7.3v1h-7.3zM411.6 81h14.5v1h-14.5zM462.5 84h7.3v1h-7.3zM462.5 86h7.3v1h-7.3zM281.0 88h14.5v1h-14.5zM310.0 93h14.5v1h-14.5zM418.9 94h7.3v1h-7.3zM477.0 95h7.3v1h-7.3zM382.6 96h7.3v1h-7.3zM389.9 102h7.3v1h-7.3zM302.8 105h14.5v1h-14.5zM433.4 106h21.8v1h-21.8zM324.5 107h7.3v1h-7.3zM331.8 107h7.3v1h-7.3zM302.8 108h7.3v1h-7.3zM418.9 108h7.3v1h-7.3zM455.2 109h7.3v1h-7.3zM411.6 113h7.3v1h-7.3zM375.4 119h7.3v1h-7.3zM433.4 119h7.3v1h-7.3zM426.2 121h7.3v1h-7.3zM498.7 123h7.3v1h-7.3zM353.6 125h7.3v1h-7.3zM426.2 126h14.5v1h-14.5zM440.7 126h14.5v1h-14.5zM288.3 127h7.3v1h-7.3zM418.9 127h7.3v1h-7.3zM426.2 129h14.5v1h-14.5zM491.5 131h14.5v1h-14.5zM397.1 132h7.3v1h-7.3zM411.6 133h7.3v1h-7.3zM411.6 137h7.3v1h-7.3zM455.2 137h7.3v1h-7.3zM317.3 138h29.0v1h-29.0zM346.3 140h7.3v1h-7.3zM375.4 140h7.3v1h-7.3z"/><rect x="295.52" y="17.0" width="7.26" height="1.00" fill="#fbdbdd"/><rect x="295.52" y="18.0" width="7.26" height="1.00" fill="#fad9da"/><rect x="295.52" y="19.0" width="7.26" height="1.00" fill="#f8c7ca"/><rect x="295.52" y="20.0" width="7.26" height="1.00" fill="#fad7d8"/><rect x="295.52" y="24.0" width="7.26" height="1.00" fill="#fad7d9"/><rect x="295.52" y="28.0" width="7.26" height="1.00" fill="#f8c4c7"/><rect x="295.52" y="29.0" width="7.26" height="1.00" fill="#fad8da"/><rect x="331.81" y="16.5" width="21.77" height="1.00" fill="#fad8da"/><rect x="339.06" y="17.5" width="14.52" height="1.00" fill="#f9ccce"/><rect x="339.06" y="18.5" width="14.52" height="1.00" fill="#fce4e5"/><rect x="331.81" y="20.5" width="21.77" height="1.00" fill="#f9cacd"/><rect x="331.81" y="21.5" width="29.03" height="1.00" fill="#fad6d8"/><rect x="339.06" y="22.5" width="21.77" height="1.00" fill="#fbdddf"/><rect x="353.58" y="39.0" width="7.26" height="1.00" fill="#fbdbdd"/><rect x="353.58" y="40.0" width="7.26" height="1.00" fill="#fad2d4"/><rect x="360.84" y="43.0" width="7.26" height="1.00" fill="#fce5e6"/><rect x="360.84" y="47.0" width="7.26" height="1.00" fill="#fad4d6"/><rect x="353.58" y="49.0" width="7.26" height="1.00" fill="#fad2d4"/></g><line x1="361.0" y1="80.8" x2="389.9" y2="86.0" stroke="#ef797f" stroke-width="0.9"/><line x1="418.9" y1="95.9" x2="447.9" y2="98.2" stroke="#f18c91" stroke-width="0.9"/><line x1="455.2" y1="102.3" x2="469.7" y2="104.0" stroke="#f18c91" stroke-width="0.9"/><line x1="491.4" y1="113.8" x2="498.7" y2="114.2" stroke="#f18c91" stroke-width="0.9"/><rect x="281.00" y="13.0" width="7.26" height="1.80" fill="#e7343d"/><linearGradient id="g23_1_156" x1="0" y1="0" x2="0" y2="1"><stop offset="0" stop-color="#e41e28"/><stop offset="1" stop-color="#f39a9e"/></linearGradient><rect x="288.26" y="15.6" width="7.26" height="14.70" fill="url(#g23_1_156)"/><linearGradient id="g23_2_308" x1="0" y1="0" x2="0" y2="1"><stop offset="0" stop-color="#e41e28"/><stop offset="1" stop-color="#eb565e"/></linearGradient><rect x="295.52" y="30.8" width="7.26" height="17.80" fill="url(#g23_2_308)"/><rect x="302.77" y="49.0" width="7.26" height="1.80" fill="#e94b53"/><rect x="310.03" y="51.2" width="7.26" height="2.60" fill="#e84048"/><rect x="317.29" y="52.8" width="7.26" height="3.40" fill="#e94b53"/><rect x="324.55" y="56.0" width="7.26" height="2.20" fill="#e84048"/><linearGradient id="g23_7_587" x1="0" y1="0" x2="0" y2="1"><stop offset="0" stop-color="#e7343d"/><stop offset="1" stop-color="#e94b53"/></linearGradient><rect x="331.81" y="58.7" width="7.26" height="5.00" fill="url(#g23_7_587)"/><linearGradient id="g23_8_637" x1="0" y1="0" x2="0" y2="1"><stop offset="0" stop-color="#e7343d"/><stop offset="1" stop-color="#ec6269"/></linearGradient><rect x="339.06" y="63.7" width="7.26" height="5.50" fill="url(#g23_8_637)"/><linearGradient id="g23_9_692" x1="0" y1="0" x2="0" y2="1"><stop offset="0" stop-color="#e7343d"/><stop offset="1" stop-color="#e94b53"/></linearGradient><rect x="346.32" y="69.2" width="7.26" height="4.40" fill="url(#g23_9_692)"/><linearGradient id="g23_10_648" x1="0" y1="0" x2="0" y2="1"><stop offset="0" stop-color="#ef787e"/><stop offset="1" stop-color="#f28e94"/></linearGradient><rect x="353.58" y="64.8" width="7.26" height="5.50" fill="url(#g23_10_648)"/><linearGradient id="g23_10_736" x1="0" y1="0" x2="0" y2="1"><stop offset="0" stop-color="#e52933"/><stop offset="1" stop-color="#ec6269"/></linearGradient><rect x="353.58" y="73.6" width="7.26" height="6.60" fill="url(#g23_10_736)"/><rect x="389.87" y="86.3" width="7.26" height="2.00" fill="#e94b53"/><rect x="397.13" y="88.3" width="7.26" height="2.30" fill="#e94b53"/><rect x="404.39" y="90.6" width="7.26" height="2.40" fill="#e84048"/><rect x="411.65" y="93.0" width="7.26" height="2.70" fill="#e7343d"/><linearGradient id="g23_23_980" x1="0" y1="0" x2="0" y2="1"><stop offset="0" stop-color="#e7343d"/><stop offset="1" stop-color="#e94b53"/></linearGradient><rect x="447.94" y="98.0" width="7.26" height="4.00" fill="url(#g23_23_980)"/><linearGradient id="g23_26_1040" x1="0" y1="0" x2="0" y2="1"><stop offset="0" stop-color="#eb565e"/><stop offset="1" stop-color="#ef787e"/></linearGradient><rect x="469.71" y="104.0" width="7.26" height="4.00" fill="url(#g23_26_1040)"/><linearGradient id="g23_27_1057" x1="0" y1="0" x2="0" y2="1"><stop offset="0" stop-color="#ec6269"/><stop offset="1" stop-color="#ef787e"/></linearGradient><rect x="476.97" y="105.7" width="7.26" height="3.80" fill="url(#g23_27_1057)"/><linearGradient id="g23_28_1095" x1="0" y1="0" x2="0" y2="1"><stop offset="0" stop-color="#e7343d"/><stop offset="1" stop-color="#e94b53"/></linearGradient><rect x="484.23" y="109.5" width="7.26" height="4.00" fill="url(#g23_28_1095)"/><linearGradient id="g23_30_1140" x1="0" y1="0" x2="0" y2="1"><stop offset="0" stop-color="#e41e28"/><stop offset="1" stop-color="#f39a9e"/></linearGradient><rect x="498.74" y="114.0" width="7.26" height="14.00" fill="url(#g23_30_1140)"/></g><rect x="281" y="13" width="225" height="128" fill="none" stroke="#777" stroke-width="1.1"/><rect x="271.6" y="13" width="6.8" height="128" fill="#fff" stroke="#666" stroke-width="1"/><line x1="272" y1="27.2" x2="278" y2="27.2" stroke="#999" stroke-width="0.5"/><line x1="272" y1="41.0" x2="278" y2="41.0" stroke="#999" stroke-width="0.5"/><line x1="272" y1="45.1" x2="278" y2="45.1" stroke="#999" stroke-width="0.5"/><line x1="272" y1="131.5" x2="278" y2="131.5" stroke="#999" stroke-width="0.5"/><rect x="271.6" y="51.9" width="6.8" height="1.8" fill="#111"/><rect x="271.6" y="53.7" width="6.8" height="2.8" fill="#666"/><text transform="translate(33.90,178) rotate(-90)" font-size="5.6" fill="#111" stroke="#111" stroke-width="0.3">Placenta</text><text transform="translate(41.12,178) rotate(-90)" font-size="5.6" fill="#111" stroke="#111" stroke-width="0.3">ESC</text><text transform="translate(48.35,178) rotate(-90)" font-size="5.6" fill="#111" stroke="#111" stroke-width="0.3">Bone_marrow</text><text transform="translate(55.57,178) rotate(-90)" font-size="5.6" fill="#111" stroke="#111" stroke-width="0.3">MEP</text><text transform="translate(62.80,178) rotate(-90)" font-size="5.6" fill="#d43a3a" stroke="#d43a3a" stroke-width="0.3">ERY_1</text><text transform="translate(70.03,178) rotate(-90)" font-size="5.6" fill="#d43a3a" stroke="#d43a3a" stroke-width="0.3">ERY_2</text><text transform="translate(77.25,178) rotate(-90)" font-size="5.6" fill="#111" stroke="#111" stroke-width="0.3">Megakaryo</text><text transform="translate(84.47,178) rotate(-90)" font-size="5.6" fill="#111" stroke="#111" stroke-width="0.3">Macrophage</text><text transform="translate(91.70,178) rotate(-90)" font-size="5.6" fill="#111" stroke="#111" stroke-width="0.3">B-cell_CD19+</text><text transform="translate(98.92,178) rotate(-90)" font-size="5.6" fill="#111" stroke="#111" stroke-width="0.3">T-naive</text><text transform="translate(106.15,178) rotate(-90)" font-size="5.6" fill="#111" stroke="#111" stroke-width="0.3">B-cell_CD43-</text><text transform="translate(113.38,178) rotate(-90)" font-size="5.6" fill="#111" stroke="#111" stroke-width="0.3">Spleen</text><text transform="translate(120.60,178) rotate(-90)" font-size="5.6" fill="#111" stroke="#111" stroke-width="0.3">Thymus</text><text transform="translate(127.82,178) rotate(-90)" font-size="5.6" fill="#111" stroke="#111" stroke-width="0.3">Adrenal</text><text transform="translate(135.05,178) rotate(-90)" font-size="5.6" fill="#111" stroke="#111" stroke-width="0.3">Bladder</text><text transform="translate(142.28,178) rotate(-90)" font-size="5.6" fill="#111" stroke="#111" stroke-width="0.3">Brown_fat</text><text transform="translate(149.50,178) rotate(-90)" font-size="5.6" fill="#111" stroke="#111" stroke-width="0.3">Colon</text><text transform="translate(156.72,178) rotate(-90)" font-size="5.6" fill="#111" stroke="#111" stroke-width="0.3">Kidney</text><text transform="translate(163.95,178) rotate(-90)" font-size="5.6" fill="#111" stroke="#111" stroke-width="0.3">Liver</text><text transform="translate(171.18,178) rotate(-90)" font-size="5.6" fill="#111" stroke="#111" stroke-width="0.3">Lung</text><text transform="translate(178.40,178) rotate(-90)" font-size="5.6" fill="#111" stroke="#111" stroke-width="0.3">Heart</text><text transform="translate(185.62,178) rotate(-90)" font-size="5.6" fill="#111" stroke="#111" stroke-width="0.3">Mammary</text><text transform="translate(192.85,178) rotate(-90)" font-size="5.6" fill="#111" stroke="#111" stroke-width="0.3">MEF</text><text transform="translate(200.07,178) rotate(-90)" font-size="5.6" fill="#111" stroke="#111" stroke-width="0.3">Sk_muscle</text><text transform="translate(207.30,178) rotate(-90)" font-size="5.6" fill="#111" stroke="#111" stroke-width="0.3">Stomach</text><text transform="translate(214.53,178) rotate(-90)" font-size="5.6" fill="#111" stroke="#111" stroke-width="0.3">Sub_fat</text><text transform="translate(221.75,178) rotate(-90)" font-size="5.6" fill="#111" stroke="#111" stroke-width="0.3">Whole_brain</text><text transform="translate(228.97,178) rotate(-90)" font-size="5.6" fill="#111" stroke="#111" stroke-width="0.3">Cerebellum</text><text transform="translate(236.20,178) rotate(-90)" font-size="5.6" fill="#111" stroke="#111" stroke-width="0.3">Cerebrum</text><text transform="translate(243.42,178) rotate(-90)" font-size="5.6" fill="#111" stroke="#111" stroke-width="0.3">Ovary</text><text transform="translate(250.65,178) rotate(-90)" font-size="5.6" fill="#111" stroke="#111" stroke-width="0.3">Testis</text><text transform="translate(286.90,178) rotate(-90)" font-size="5.6" fill="#111" stroke="#111" stroke-width="0.3">Placenta</text><text transform="translate(294.12,178) rotate(-90)" font-size="5.6" fill="#111" stroke="#111" stroke-width="0.3">ESC</text><text transform="translate(301.35,178) rotate(-90)" font-size="5.6" fill="#111" stroke="#111" stroke-width="0.3">Bone_marrow</text><text transform="translate(308.57,178) rotate(-90)" font-size="5.6" fill="#111" stroke="#111" stroke-width="0.3">MEP</text><text transform="translate(315.80,178) rotate(-90)" font-size="5.6" fill="#d43a3a" stroke="#d43a3a" stroke-width="0.3">ERY_1</text><text transform="translate(323.02,178) rotate(-90)" font-size="5.6" fill="#d43a3a" stroke="#d43a3a" stroke-width="0.3">ERY_2</text><text transform="translate(330.25,178) rotate(-90)" font-size="5.6" fill="#111" stroke="#111" stroke-width="0.3">Megakaryo</text><text transform="translate(337.47,178) rotate(-90)" font-size="5.6" fill="#111" stroke="#111" stroke-width="0.3">Macrophage</text><text transform="translate(344.70,178) rotate(-90)" font-size="5.6" fill="#111" stroke="#111" stroke-width="0.3">B-cell_CD19+</text><text transform="translate(351.92,178) rotate(-90)" font-size="5.6" fill="#111" stroke="#111" stroke-width="0.3">T-naive</text><text transform="translate(359.15,178) rotate(-90)" font-size="5.6" fill="#111" stroke="#111" stroke-width="0.3">B-cell_CD43-</text><text transform="translate(366.38,178) rotate(-90)" font-size="5.6" fill="#111" stroke="#111" stroke-width="0.3">Spleen</text><text transform="translate(373.60,178) rotate(-90)" font-size="5.6" fill="#111" stroke="#111" stroke-width="0.3">Thymus</text><text transform="translate(380.82,178) rotate(-90)" font-size="5.6" fill="#111" stroke="#111" stroke-width="0.3">Adrenal</text><text transform="translate(388.05,178) rotate(-90)" font-size="5.6" fill="#111" stroke="#111" stroke-width="0.3">Bladder</text><text transform="translate(395.27,178) rotate(-90)" font-size="5.6" fill="#111" stroke="#111" stroke-width="0.3">Brown_fat</text><text transform="translate(402.50,178) rotate(-90)" font-size="5.6" fill="#111" stroke="#111" stroke-width="0.3">Colon</text><text transform="translate(409.72,178) rotate(-90)" font-size="5.6" fill="#111" stroke="#111" stroke-width="0.3">Kidney</text><text transform="translate(416.95,178) rotate(-90)" font-size="5.6" fill="#111" stroke="#111" stroke-width="0.3">Liver</text><text transform="translate(424.17,178) rotate(-90)" font-size="5.6" fill="#111" stroke="#111" stroke-width="0.3">Lung</text><text transform="translate(431.40,178) rotate(-90)" font-size="5.6" fill="#111" stroke="#111" stroke-width="0.3">Heart</text><text transform="translate(438.62,178) rotate(-90)" font-size="5.6" fill="#111" stroke="#111" stroke-width="0.3">Mammary</text><text transform="translate(445.85,178) rotate(-90)" font-size="5.6" fill="#111" stroke="#111" stroke-width="0.3">MEF</text><text transform="translate(453.07,178) rotate(-90)" font-size="5.6" fill="#111" stroke="#111" stroke-width="0.3">Sk_muscle</text><text transform="translate(460.30,178) rotate(-90)" font-size="5.6" fill="#111" stroke="#111" stroke-width="0.3">Stomach</text><text transform="translate(467.52,178) rotate(-90)" font-size="5.6" fill="#111" stroke="#111" stroke-width="0.3">Sub_fat</text><text transform="translate(474.75,178) rotate(-90)" font-size="5.6" fill="#111" stroke="#111" stroke-width="0.3">Whole_brain</text><text transform="translate(481.97,178) rotate(-90)" font-size="5.6" fill="#111" stroke="#111" stroke-width="0.3">Cerebellum</text><text transform="translate(489.20,178) rotate(-90)" font-size="5.6" fill="#111" stroke="#111" stroke-width="0.3">Cerebrum</text><text transform="translate(496.42,178) rotate(-90)" font-size="5.6" fill="#111" stroke="#111" stroke-width="0.3">Ovary</text><text transform="translate(503.65,178) rotate(-90)" font-size="5.6" fill="#111" stroke="#111" stroke-width="0.3">Testis</text><text x="415.3" y="192.3" font-size="5.6" textLength="88.8" lengthAdjust="spacingAndGlyphs" stroke="#111" stroke-width="0.25">Fractional expression level across tissues</text><linearGradient id="cbar" x1="0" x2="1" y1="0" y2="0"><stop offset="0" stop-color="#ffffff"/><stop offset="1" stop-color="#e41e28"/></linearGradient><rect x="415.6" y="194.6" width="89" height="4.8" fill="url(#cbar)" stroke="#111" stroke-width="0.8"/><text x="416.30" y="205.2" font-size="4.8" text-anchor="middle" stroke="#111" stroke-width="0.25">0</text><text x="433.45" y="205.2" font-size="4.8" text-anchor="middle" stroke="#111" stroke-width="0.25">0.1</text><text x="450.60" y="205.2" font-size="4.8" text-anchor="middle" stroke="#111" stroke-width="0.25">0.2</text><text x="467.75" y="205.2" font-size="4.8" text-anchor="middle" stroke="#111" stroke-width="0.25">0.3</text><text x="484.90" y="205.2" font-size="4.8" text-anchor="middle" stroke="#111" stroke-width="0.25">0.4</text><text x="502.05" y="205.2" font-size="4.8" text-anchor="middle" stroke="#111" stroke-width="0.25">0.5</text><text x="82.0" y="223.6" font-size="7.4" fill="#111" textLength="47.2" lengthAdjust="spacingAndGlyphs" stroke="#111" stroke-width="0.3">shlncRNA-EC6</text><text x="206.0" y="224.1" font-size="7.4" fill="#111" textLength="41.6" lengthAdjust="spacingAndGlyphs" stroke="#111" stroke-width="0.3">elncRNA-EC1</text><text x="321.2" y="224.3" font-size="7.4" fill="#111" textLength="41.2" lengthAdjust="spacingAndGlyphs" stroke="#111" stroke-width="0.3">lincRNA-EC9</text><text x="441.3" y="225.0" font-size="7.4" fill="#111" textLength="43.8" lengthAdjust="spacingAndGlyphs" stroke="#111" stroke-width="0.3">alncRNA-EC3</text><text x="122.4" y="239.1" font-size="4.8" fill="#111" textLength="10.6" lengthAdjust="spacingAndGlyphs" stroke="#111" stroke-width="0.25">20kb</text><line x1="133.0" y1="237.4" x2="162.6" y2="237.4" stroke="#222" stroke-width="0.6" opacity="1.0"/><line x1="162.6" y1="236.1" x2="162.6" y2="238.70000000000002" stroke="#222" stroke-width="0.6"/><text x="241.5" y="239.5" font-size="4.8" fill="#111" textLength="12.2" lengthAdjust="spacingAndGlyphs" stroke="#111" stroke-width="0.25">10kb</text><line x1="253.7" y1="237.8" x2="284.0" y2="237.8" stroke="#222" stroke-width="0.6" opacity="1.0"/><line x1="284.0" y1="236.5" x2="284.0" y2="239.10000000000002" stroke="#222" stroke-width="0.6"/><text x="349.7" y="238.1" font-size="4.8" fill="#111" textLength="8.5" lengthAdjust="spacingAndGlyphs" stroke="#111" stroke-width="0.25">1kb</text><line x1="358.2" y1="236.4" x2="396.3" y2="236.4" stroke="#222" stroke-width="0.6" opacity="1.0"/><line x1="396.3" y1="235.1" x2="396.3" y2="237.70000000000002" stroke="#222" stroke-width="0.6"/><text x="478.1" y="239.1" font-size="4.8" fill="#111" textLength="8.1" lengthAdjust="spacingAndGlyphs" stroke="#111" stroke-width="0.25">2kb</text><line x1="486.2" y1="237.4" x2="518.3" y2="237.4" stroke="#222" stroke-width="0.6" opacity="1.0"/><line x1="518.3" y1="236.1" x2="518.3" y2="238.70000000000002" stroke="#222" stroke-width="0.6"/><line x1="49.6" y1="234" x2="49.6" y2="543" stroke="#f1c3c8" stroke-width="0.8"/><line x1="171.0" y1="234" x2="171.0" y2="543" stroke="#f1c3c8" stroke-width="0.8"/><line x1="284.4" y1="234" x2="284.4" y2="543" stroke="#eadadc" stroke-width="0.8"/><line x1="407.1" y1="234" x2="407.1" y2="543" stroke="#f1c3c8" stroke-width="0.8"/><text x="-0.6" y="258.8" font-size="5.5" fill="#111" textLength="36.1" lengthAdjust="spacingAndGlyphs" stroke="#111" stroke-width="0.4">ERY total RNA</text><text x="31.7" y="251.20000000000002" font-size="5.2" fill="#111" textLength="14.0" lengthAdjust="spacingAndGlyphs" stroke="#111" stroke-width="0.25">+ strand</text><text x="32.3" y="264.8" font-size="5.2" fill="#111" textLength="13.4" lengthAdjust="spacingAndGlyphs" stroke="#111" stroke-width="0.25">- strand</text><text x="-0.6" y="284.7" font-size="5.5" fill="#111" textLength="37.9" lengthAdjust="spacingAndGlyphs" stroke="#111" stroke-width="0.4">ERY PolyA<tspan font-size="3.6" dy="-2.6">–</tspan><tspan dy="2.6"> RNA</tspan></text><text x="31.7" y="277.09999999999997" font-size="5.2" fill="#111" textLength="14.0" lengthAdjust="spacingAndGlyphs" stroke="#111" stroke-width="0.25">+ strand</text><text x="32.3" y="290.7" font-size="5.2" fill="#111" textLength="13.4" lengthAdjust="spacingAndGlyphs" stroke="#111" stroke-width="0.25">- strand</text><text x="-0.6" y="313.2" font-size="5.5" fill="#111" textLength="38.1" lengthAdjust="spacingAndGlyphs" stroke="#111" stroke-width="0.4">ERY PolyA<tspan font-size="3.6" dy="-2.6">+</tspan><tspan dy="2.6"> RNA</tspan></text><text x="31.7" y="305.59999999999997" font-size="5.2" fill="#111" textLength="14.0" lengthAdjust="spacingAndGlyphs" stroke="#111" stroke-width="0.25">+ strand</text><text x="32.3" y="319.2" font-size="5.2" fill="#111" textLength="13.4" lengthAdjust="spacingAndGlyphs" stroke="#111" stroke-width="0.25">- strand</text><text x="-0.6" y="341.0" font-size="5.5" fill="#4ea6dc" textLength="39.5" lengthAdjust="spacingAndGlyphs" stroke="#4ea6dc" stroke-width="0.4">MEP PolyA<tspan font-size="3.6" dy="-2.6">+</tspan><tspan dy="2.6"> RNA</tspan></text><text x="31.7" y="333.4" font-size="5.2" fill="#4ea6dc" textLength="14.0" lengthAdjust="spacingAndGlyphs" stroke="#4ea6dc" stroke-width="0.25">+ strand</text><text x="32.3" y="347.0" font-size="5.2" fill="#4ea6dc" textLength="13.4" lengthAdjust="spacingAndGlyphs" stroke="#4ea6dc" stroke-width="0.25">- strand</text><text x="-0.3" y="369.4" font-size="5.5" fill="#4ea6dc" textLength="39.9" lengthAdjust="spacingAndGlyphs" stroke="#4ea6dc" stroke-width="0.4">MEG PolyA<tspan font-size="3.6" dy="-2.6">+</tspan><tspan dy="2.6"> RNA</tspan></text><text x="31.7" y="361.79999999999995" font-size="5.2" fill="#4ea6dc" textLength="14.0" lengthAdjust="spacingAndGlyphs" stroke="#4ea6dc" stroke-width="0.25">+ strand</text><text x="32.3" y="375.4" font-size="5.2" fill="#4ea6dc" textLength="13.4" lengthAdjust="spacingAndGlyphs" stroke="#4ea6dc" stroke-width="0.25">- strand</text><text x="-1.0" y="397.1" font-size="5.5" fill="#4ea6dc" textLength="41.9" lengthAdjust="spacingAndGlyphs" stroke="#4ea6dc" stroke-width="0.4">T-cell PolyA<tspan font-size="3.6" dy="-2.6">+</tspan><tspan dy="2.6"> RNA</tspan></text><text x="31.7" y="389.5" font-size="5.2" fill="#4ea6dc" textLength="14.0" lengthAdjust="spacingAndGlyphs" stroke="#4ea6dc" stroke-width="0.25">+ strand</text><text x="32.3" y="403.1" font-size="5.2" fill="#4ea6dc" textLength="13.4" lengthAdjust="spacingAndGlyphs" stroke="#4ea6dc" stroke-width="0.25">- strand</text><text x="0.2" y="425.0" font-size="5.5" fill="#e4b050" textLength="40.2" lengthAdjust="spacingAndGlyphs" stroke="#e4b050" stroke-width="0.4">Liver PolyA<tspan font-size="3.6" dy="-2.6">+</tspan><tspan dy="2.6"> RNA</tspan></text><text x="31.7" y="417.4" font-size="5.2" fill="#e4b050" textLength="14.0" lengthAdjust="spacingAndGlyphs" stroke="#e4b050" stroke-width="0.25">+ strand</text><text x="32.3" y="431.0" font-size="5.2" fill="#e4b050" textLength="13.4" lengthAdjust="spacingAndGlyphs" stroke="#e4b050" stroke-width="0.25">- strand</text><text x="-0.4" y="452.7" font-size="5.5" fill="#8e1f24" textLength="42.5" lengthAdjust="spacingAndGlyphs" stroke="#8e1f24" stroke-width="0.4">Heart PolyA<tspan font-size="3.6" dy="-2.6">+</tspan><tspan dy="2.6"> RNA</tspan></text><text x="31.7" y="445.09999999999997" font-size="5.2" fill="#8e1f24" textLength="14.0" lengthAdjust="spacingAndGlyphs" stroke="#8e1f24" stroke-width="0.25">+ strand</text><text x="32.3" y="458.7" font-size="5.2" fill="#8e1f24" textLength="13.4" lengthAdjust="spacingAndGlyphs" stroke="#8e1f24" stroke-width="0.25">- strand</text><text x="0.2" y="481.1" font-size="5.5" fill="#111" textLength="42.5" lengthAdjust="spacingAndGlyphs" stroke="#111" stroke-width="0.4">Lung PolyA<tspan font-size="3.6" dy="-2.6">+</tspan><tspan dy="2.6"> RNA</tspan></text><text x="31.7" y="473.5" font-size="5.2" fill="#111" textLength="14.0" lengthAdjust="spacingAndGlyphs" stroke="#111" stroke-width="0.25">+ strand</text><text x="32.3" y="487.1" font-size="5.2" fill="#111" textLength="13.4" lengthAdjust="spacingAndGlyphs" stroke="#111" stroke-width="0.25">- strand</text><text x="0.0" y="508.8" font-size="5.5" fill="#8a8a8a" textLength="41.0" lengthAdjust="spacingAndGlyphs" stroke="#8a8a8a" stroke-width="0.4">Brain PolyA<tspan font-size="3.6" dy="-2.6">+</tspan><tspan dy="2.6"> RNA</tspan></text><text x="31.7" y="501.2" font-size="5.2" fill="#8a8a8a" textLength="14.0" lengthAdjust="spacingAndGlyphs" stroke="#8a8a8a" stroke-width="0.25">+ strand</text><text x="32.3" y="514.8" font-size="5.2" fill="#8a8a8a" textLength="13.4" lengthAdjust="spacingAndGlyphs" stroke="#8a8a8a" stroke-width="0.25">- strand</text><text x="0.0" y="524.9" font-size="5.5" fill="#111" textLength="36.9" lengthAdjust="spacingAndGlyphs" stroke="#111" stroke-width="0.3">lncRNA models</text><text x="0.0" y="537.9" font-size="5.5" fill="#a5282d" textLength="38.7" lengthAdjust="spacingAndGlyphs" stroke="#a5282d" stroke-width="0.3">ENSEMBL genes</text><text x="48.4" y="244.60000000000002" font-size="3.0" fill="#111" text-anchor="end" font-weight="bold" stroke="#111" stroke-width="0.35">100</text><text x="48.4" y="255.60000000000002" font-size="2.6" fill="#111" text-anchor="end" font-weight="bold">1</text><text x="48.7" y="259.2" font-size="3.0" fill="#111" text-anchor="end" font-weight="bold" stroke="#111" stroke-width="0.35">1</text><text x="47.6" y="270.2" font-size="2.4" fill="#111" text-anchor="end" opacity="0.5">1000</text><text x="48.4" y="273.40000000000003" font-size="3.0" fill="#111" text-anchor="end" font-weight="bold" stroke="#111" stroke-width="0.35">100</text><text x="48.4" y="270.5" font-size="3.0" fill="#111" text-anchor="end" font-weight="bold" stroke="#111" stroke-width="0.35">100</text><text x="48.4" y="281.5" font-size="2.6" fill="#111" text-anchor="end" font-weight="bold">1</text><text x="48.7" y="285.09999999999997" font-size="3.0" fill="#111" text-anchor="end" font-weight="bold" stroke="#111" stroke-width="0.35">1</text><text x="47.6" y="296.09999999999997" font-size="2.4" fill="#111" text-anchor="end" opacity="0.5">1000</text><text x="48.4" y="299.3" font-size="3.0" fill="#111" text-anchor="end" font-weight="bold" stroke="#111" stroke-width="0.35">100</text><text x="48.4" y="299.0" font-size="3.0" fill="#111" text-anchor="end" font-weight="bold" stroke="#111" stroke-width="0.35">100</text><text x="48.4" y="310.0" font-size="2.6" fill="#111" text-anchor="end" font-weight="bold">1</text><text x="48.7" y="313.59999999999997" font-size="3.0" fill="#111" text-anchor="end" font-weight="bold" stroke="#111" stroke-width="0.35">1</text><text x="47.6" y="324.59999999999997" font-size="2.4" fill="#111" text-anchor="end" opacity="0.5">1000</text><text x="48.4" y="327.8" font-size="3.0" fill="#111" text-anchor="end" font-weight="bold" stroke="#111" stroke-width="0.35">100</text><text x="48.4" y="326.8" font-size="3.0" fill="#4ea6dc" text-anchor="end" font-weight="bold" stroke="#4ea6dc" stroke-width="0.35">100</text><text x="48.4" y="337.8" font-size="2.6" fill="#4ea6dc" text-anchor="end" font-weight="bold">1</text><text x="48.7" y="341.4" font-size="3.0" fill="#4ea6dc" text-anchor="end" font-weight="bold" stroke="#4ea6dc" stroke-width="0.35">1</text><text x="47.6" y="352.4" font-size="2.4" fill="#4ea6dc" text-anchor="end" opacity="0.5">1000</text><text x="48.4" y="355.6" font-size="3.0" fill="#4ea6dc" text-anchor="end" font-weight="bold" stroke="#4ea6dc" stroke-width="0.35">100</text><text x="48.4" y="355.2" font-size="3.0" fill="#4ea6dc" text-anchor="end" font-weight="bold" stroke="#4ea6dc" stroke-width="0.35">100</text><text x="48.4" y="366.2" font-size="2.6" fill="#4ea6dc" text-anchor="end" font-weight="bold">1</text><text x="48.7" y="369.79999999999995" font-size="3.0" fill="#4ea6dc" text-anchor="end" font-weight="bold" stroke="#4ea6dc" stroke-width="0.35">1</text><text x="47.6" y="380.79999999999995" font-size="2.4" fill="#4ea6dc" text-anchor="end" opacity="0.5">1000</text><text x="48.4" y="384.0" font-size="3.0" fill="#4ea6dc" text-anchor="end" font-weight="bold" stroke="#4ea6dc" stroke-width="0.35">100</text><text x="48.4" y="382.90000000000003" font-size="3.0" fill="#4ea6dc" text-anchor="end" font-weight="bold" stroke="#4ea6dc" stroke-width="0.35">100</text><text x="48.4" y="393.90000000000003" font-size="2.6" fill="#4ea6dc" text-anchor="end" font-weight="bold">1</text><text x="48.7" y="397.5" font-size="3.0" fill="#4ea6dc" text-anchor="end" font-weight="bold" stroke="#4ea6dc" stroke-width="0.35">1</text><text x="47.6" y="408.5" font-size="2.4" fill="#4ea6dc" text-anchor="end" opacity="0.5">1000</text><text x="48.4" y="411.70000000000005" font-size="3.0" fill="#4ea6dc" text-anchor="end" font-weight="bold" stroke="#4ea6dc" stroke-width="0.35">100</text><text x="48.4" y="410.8" font-size="3.0" fill="#e4b050" text-anchor="end" font-weight="bold" stroke="#e4b050" stroke-width="0.35">1</text><text x="48.4" y="421.8" font-size="2.6" fill="#e4b050" text-anchor="end" font-weight="bold">1</text><text x="48.7" y="425.4" font-size="3.0" fill="#e4b050" text-anchor="end" font-weight="bold" stroke="#e4b050" stroke-width="0.35">1</text><text x="47.6" y="436.4" font-size="2.4" fill="#e4b050" text-anchor="end" opacity="0.5">1000</text><text x="48.4" y="439.6" font-size="3.0" fill="#e4b050" text-anchor="end" font-weight="bold" stroke="#e4b050" stroke-width="0.35">100</text><text x="48.4" y="438.5" font-size="3.0" fill="#8e1f24" text-anchor="end" font-weight="bold" stroke="#8e1f24" stroke-width="0.35">1</text><text x="48.4" y="449.5" font-size="2.6" fill="#8e1f24" text-anchor="end" font-weight="bold">1</text><text x="48.7" y="453.09999999999997" font-size="3.0" fill="#8e1f24" text-anchor="end" font-weight="bold" stroke="#8e1f24" stroke-width="0.35">1</text><text x="47.6" y="464.09999999999997" font-size="2.4" fill="#8e1f24" text-anchor="end" opacity="0.5">1000</text><text x="48.4" y="467.3" font-size="3.0" fill="#8e1f24" text-anchor="end" font-weight="bold" stroke="#8e1f24" stroke-width="0.35">100</text><text x="48.4" y="466.90000000000003" font-size="3.0" fill="#111" text-anchor="end" font-weight="bold" stroke="#111" stroke-width="0.35">1</text><text x="48.4" y="477.90000000000003" font-size="2.6" fill="#111" text-anchor="end" font-weight="bold">1</text><text x="48.7" y="481.5" font-size="3.0" fill="#111" text-anchor="end" font-weight="bold" stroke="#111" stroke-width="0.35">1</text><text x="47.6" y="492.5" font-size="2.4" fill="#111" text-anchor="end" opacity="0.5">1000</text><text x="48.4" y="495.70000000000005" font-size="3.0" fill="#111" text-anchor="end" font-weight="bold" stroke="#111" stroke-width="0.35">100</text><text x="48.4" y="494.6" font-size="3.0" fill="#8a8a8a" text-anchor="end" font-weight="bold" stroke="#8a8a8a" stroke-width="0.35">1</text><text x="48.4" y="505.6" font-size="2.6" fill="#8a8a8a" text-anchor="end" font-weight="bold">1</text><text x="48.7" y="509.2" font-size="3.0" fill="#8a8a8a" text-anchor="end" font-weight="bold" stroke="#8a8a8a" stroke-width="0.35">1</text><text x="47.6" y="520.2" font-size="2.4" fill="#8a8a8a" text-anchor="end" opacity="0.5">1000</text><text x="48.4" y="523.4" font-size="3.0" fill="#8a8a8a" text-anchor="end" font-weight="bold" stroke="#8a8a8a" stroke-width="0.35">100</text><text x="169.8" y="244.60000000000002" font-size="3.0" fill="#111" text-anchor="end" font-weight="bold" stroke="#111" stroke-width="0.35">100</text><text x="169.8" y="255.60000000000002" font-size="2.6" fill="#111" text-anchor="end" font-weight="bold">1</text><text x="170.1" y="259.2" font-size="3.0" fill="#111" text-anchor="end" font-weight="bold" stroke="#111" stroke-width="0.35">1</text><text x="169.0" y="270.2" font-size="2.4" fill="#111" text-anchor="end" opacity="0.5">1000</text><text x="169.8" y="273.40000000000003" font-size="3.0" fill="#111" text-anchor="end" font-weight="bold" stroke="#111" stroke-width="0.35">100</text><text x="169.8" y="270.5" font-size="3.0" fill="#111" text-anchor="end" font-weight="bold" stroke="#111" stroke-width="0.35">100</text><text x="169.8" y="281.5" font-size="2.6" fill="#111" text-anchor="end" font-weight="bold">1</text><text x="170.1" y="285.09999999999997" font-size="3.0" fill="#111" text-anchor="end" font-weight="bold" stroke="#111" stroke-width="0.35">1</text><text x="169.0" y="296.09999999999997" font-size="2.4" fill="#111" text-anchor="end" opacity="0.5">1000</text><text x="169.8" y="299.3" font-size="3.0" fill="#111" text-anchor="end" font-weight="bold" stroke="#111" stroke-width="0.35">100</text><text x="169.8" y="299.0" font-size="3.0" fill="#111" text-anchor="end" font-weight="bold" stroke="#111" stroke-width="0.35">100</text><text x="169.8" y="310.0" font-size="2.6" fill="#111" text-anchor="end" font-weight="bold">1</text><text x="170.1" y="313.59999999999997" font-size="3.0" fill="#111" text-anchor="end" font-weight="bold" stroke="#111" stroke-width="0.35">1</text><text x="169.0" y="324.59999999999997" font-size="2.4" fill="#111" text-anchor="end" opacity="0.5">1000</text><text x="169.8" y="327.8" font-size="3.0" fill="#111" text-anchor="end" font-weight="bold" stroke="#111" stroke-width="0.35">100</text><text x="169.8" y="326.8" font-size="3.0" fill="#4ea6dc" text-anchor="end" font-weight="bold" stroke="#4ea6dc" stroke-width="0.35">100</text><text x="169.8" y="337.8" font-size="2.6" fill="#4ea6dc" text-anchor="end" font-weight="bold">1</text><text x="170.1" y="341.4" font-size="3.0" fill="#4ea6dc" text-anchor="end" font-weight="bold" stroke="#4ea6dc" stroke-width="0.35">1</text><text x="169.0" y="352.4" font-size="2.4" fill="#4ea6dc" text-anchor="end" opacity="0.5">1000</text><text x="169.8" y="355.6" font-size="3.0" fill="#4ea6dc" text-anchor="end" font-weight="bold" stroke="#4ea6dc" stroke-width="0.35">100</text><text x="169.8" y="355.2" font-size="3.0" fill="#4ea6dc" text-anchor="end" font-weight="bold" stroke="#4ea6dc" stroke-width="0.35">100</text><text x="169.8" y="366.2" font-size="2.6" fill="#4ea6dc" text-anchor="end" font-weight="bold">1</text><text x="170.1" y="369.79999999999995" font-size="3.0" fill="#4ea6dc" text-anchor="end" font-weight="bold" stroke="#4ea6dc" stroke-width="0.35">1</text><text x="169.0" y="380.79999999999995" font-size="2.4" fill="#4ea6dc" text-anchor="end" opacity="0.5">1000</text><text x="169.8" y="384.0" font-size="3.0" fill="#4ea6dc" text-anchor="end" font-weight="bold" stroke="#4ea6dc" stroke-width="0.35">100</text><text x="169.8" y="382.90000000000003" font-size="3.0" fill="#4ea6dc" text-anchor="end" font-weight="bold" stroke="#4ea6dc" stroke-width="0.35">100</text><text x="169.8" y="393.90000000000003" font-size="2.6" fill="#4ea6dc" text-anchor="end" font-weight="bold">1</text><text x="170.1" y="397.5" font-size="3.0" fill="#4ea6dc" text-anchor="end" font-weight="bold" stroke="#4ea6dc" stroke-width="0.35">1</text><text x="169.0" y="408.5" font-size="2.4" fill="#4ea6dc" text-anchor="end" opacity="0.5">1000</text><text x="169.8" y="411.70000000000005" font-size="3.0" fill="#4ea6dc" text-anchor="end" font-weight="bold" stroke="#4ea6dc" stroke-width="0.35">100</text><text x="169.8" y="410.8" font-size="3.0" fill="#e4b050" text-anchor="end" font-weight="bold" stroke="#e4b050" stroke-width="0.35">1</text><text x="169.8" y="421.8" font-size="2.6" fill="#e4b050" text-anchor="end" font-weight="bold">1</text><text x="170.1" y="425.4" font-size="3.0" fill="#e4b050" text-anchor="end" font-weight="bold" stroke="#e4b050" stroke-width="0.35">1</text><text x="169.0" y="436.4" font-size="2.4" fill="#e4b050" text-anchor="end" opacity="0.5">1000</text><text x="169.8" y="439.6" font-size="3.0" fill="#e4b050" text-anchor="end" font-weight="bold" stroke="#e4b050" stroke-width="0.35">100</text><text x="169.8" y="438.5" font-size="3.0" fill="#8e1f24" text-anchor="end" font-weight="bold" stroke="#8e1f24" stroke-width="0.35">1</text><text x="169.8" y="449.5" font-size="2.6" fill="#8e1f24" text-anchor="end" font-weight="bold">1</text><text x="170.1" y="453.09999999999997" font-size="3.0" fill="#8e1f24" text-anchor="end" font-weight="bold" stroke="#8e1f24" stroke-width="0.35">1</text><text x="169.0" y="464.09999999999997" font-size="2.4" fill="#8e1f24" text-anchor="end" opacity="0.5">1000</text><text x="169.8" y="467.3" font-size="3.0" fill="#8e1f24" text-anchor="end" font-weight="bold" stroke="#8e1f24" stroke-width="0.35">100</text><text x="169.8" y="466.90000000000003" font-size="3.0" fill="#111" text-anchor="end" font-weight="bold" stroke="#111" stroke-width="0.35">1</text><text x="169.8" y="477.90000000000003" font-size="2.6" fill="#111" text-anchor="end" font-weight="bold">1</text><text x="170.1" y="481.5" font-size="3.0" fill="#111" text-anchor="end" font-weight="bold" stroke="#111" stroke-width="0.35">1</text><text x="169.0" y="492.5" font-size="2.4" fill="#111" text-anchor="end" opacity="0.5">1000</text><text x="169.8" y="495.70000000000005" font-size="3.0" fill="#111" text-anchor="end" font-weight="bold" stroke="#111" stroke-width="0.35">100</text><text x="169.8" y="494.6" font-size="3.0" fill="#8a8a8a" text-anchor="end" font-weight="bold" stroke="#8a8a8a" stroke-width="0.35">1</text><text x="169.8" y="505.6" font-size="2.6" fill="#8a8a8a" text-anchor="end" font-weight="bold">1</text><text x="170.1" y="509.2" font-size="3.0" fill="#8a8a8a" text-anchor="end" font-weight="bold" stroke="#8a8a8a" stroke-width="0.35">1</text><text x="169.0" y="520.2" font-size="2.4" fill="#8a8a8a" text-anchor="end" opacity="0.5">1000</text><text x="169.8" y="523.4" font-size="3.0" fill="#8a8a8a" text-anchor="end" font-weight="bold" stroke="#8a8a8a" stroke-width="0.35">100</text><text x="283.2" y="244.60000000000002" font-size="3.0" fill="#111" text-anchor="end" font-weight="bold" stroke="#111" stroke-width="0.35">100</text><text x="283.2" y="255.60000000000002" font-size="2.6" fill="#111" text-anchor="end" font-weight="bold">1</text><text x="283.5" y="259.2" font-size="3.0" fill="#111" text-anchor="end" font-weight="bold" stroke="#111" stroke-width="0.35">1</text><text x="282.4" y="270.2" font-size="2.4" fill="#111" text-anchor="end" opacity="0.5">1000</text><text x="283.2" y="273.40000000000003" font-size="3.0" fill="#111" text-anchor="end" font-weight="bold" stroke="#111" stroke-width="0.35">100</text><text x="283.2" y="270.5" font-size="3.0" fill="#111" text-anchor="end" font-weight="bold" stroke="#111" stroke-width="0.35">100</text><text x="283.2" y="281.5" font-size="2.6" fill="#111" text-anchor="end" font-weight="bold">1</text><text x="283.5" y="285.09999999999997" font-size="3.0" fill="#111" text-anchor="end" font-weight="bold" stroke="#111" stroke-width="0.35">1</text><text x="282.4" y="296.09999999999997" font-size="2.4" fill="#111" text-anchor="end" opacity="0.5">1000</text><text x="283.2" y="299.3" font-size="3.0" fill="#111" text-anchor="end" font-weight="bold" stroke="#111" stroke-width="0.35">100</text><text x="283.2" y="299.0" font-size="3.0" fill="#111" text-anchor="end" font-weight="bold" stroke="#111" stroke-width="0.35">100</text><text x="283.2" y="310.0" font-size="2.6" fill="#111" text-anchor="end" font-weight="bold">1</text><text x="283.5" y="313.59999999999997" font-size="3.0" fill="#111" text-anchor="end" font-weight="bold" stroke="#111" stroke-width="0.35">1</text><text x="282.4" y="324.59999999999997" font-size="2.4" fill="#111" text-anchor="end" opacity="0.5">1000</text><text x="283.2" y="327.8" font-size="3.0" fill="#111" text-anchor="end" font-weight="bold" stroke="#111" stroke-width="0.35">100</text><text x="283.2" y="326.8" font-size="3.0" fill="#4ea6dc" text-anchor="end" font-weight="bold" stroke="#4ea6dc" stroke-width="0.35">100</text><text x="283.2" y="337.8" font-size="2.6" fill="#4ea6dc" text-anchor="end" font-weight="bold">1</text><text x="283.5" y="341.4" font-size="3.0" fill="#4ea6dc" text-anchor="end" font-weight="bold" stroke="#4ea6dc" stroke-width="0.35">1</text><text x="282.4" y="352.4" font-size="2.4" fill="#4ea6dc" text-anchor="end" opacity="0.5">1000</text><text x="283.2" y="355.6" font-size="3.0" fill="#4ea6dc" text-anchor="end" font-weight="bold" stroke="#4ea6dc" stroke-width="0.35">100</text><text x="283.2" y="355.2" font-size="3.0" fill="#4ea6dc" text-anchor="end" font-weight="bold" stroke="#4ea6dc" stroke-width="0.35">100</text><text x="283.2" y="366.2" font-size="2.6" fill="#4ea6dc" text-anchor="end" font-weight="bold">1</text><text x="283.5" y="369.79999999999995" font-size="3.0" fill="#4ea6dc" text-anchor="end" font-weight="bold" stroke="#4ea6dc" stroke-width="0.35">1</text><text x="282.4" y="380.79999999999995" font-size="2.4" fill="#4ea6dc" text-anchor="end" opacity="0.5">1000</text><text x="283.2" y="384.0" font-size="3.0" fill="#4ea6dc" text-anchor="end" font-weight="bold" stroke="#4ea6dc" stroke-width="0.35">100</text><text x="283.2" y="382.90000000000003" font-size="3.0" fill="#4ea6dc" text-anchor="end" font-weight="bold" stroke="#4ea6dc" stroke-width="0.35">100</text><text x="283.2" y="393.90000000000003" font-size="2.6" fill="#4ea6dc" text-anchor="end" font-weight="bold">1</text><text x="283.5" y="397.5" font-size="3.0" fill="#4ea6dc" text-anchor="end" font-weight="bold" stroke="#4ea6dc" stroke-width="0.35">1</text><text x="282.4" y="408.5" font-size="2.4" fill="#4ea6dc" text-anchor="end" opacity="0.5">1000</text><text x="283.2" y="411.70000000000005" font-size="3.0" fill="#4ea6dc" text-anchor="end" font-weight="bold" stroke="#4ea6dc" stroke-width="0.35">100</text><text x="283.2" y="410.8" font-size="3.0" fill="#e4b050" text-anchor="end" font-weight="bold" stroke="#e4b050" stroke-width="0.35">1</text><text x="283.2" y="421.8" font-size="2.6" fill="#e4b050" text-anchor="end" font-weight="bold">1</text><text x="283.5" y="425.4" font-size="3.0" fill="#e4b050" text-anchor="end" font-weight="bold" stroke="#e4b050" stroke-width="0.35">1</text><text x="282.4" y="436.4" font-size="2.4" fill="#e4b050" text-anchor="end" opacity="0.5">1000</text><text x="283.2" y="439.6" font-size="3.0" fill="#e4b050" text-anchor="end" font-weight="bold" stroke="#e4b050" stroke-width="0.35">100</text><text x="283.2" y="438.5" font-size="3.0" fill="#8e1f24" text-anchor="end" font-weight="bold" stroke="#8e1f24" stroke-width="0.35">1</text><text x="283.2" y="449.5" font-size="2.6" fill="#8e1f24" text-anchor="end" font-weight="bold">1</text><text x="283.5" y="453.09999999999997" font-size="3.0" fill="#8e1f24" text-anchor="end" font-weight="bold" stroke="#8e1f24" stroke-width="0.35">1</text><text x="282.4" y="464.09999999999997" font-size="2.4" fill="#8e1f24" text-anchor="end" opacity="0.5">1000</text><text x="283.2" y="467.3" font-size="3.0" fill="#8e1f24" text-anchor="end" font-weight="bold" stroke="#8e1f24" stroke-width="0.35">100</text><text x="283.2" y="466.90000000000003" font-size="3.0" fill="#111" text-anchor="end" font-weight="bold" stroke="#111" stroke-width="0.35">1</text><text x="283.2" y="477.90000000000003" font-size="2.6" fill="#111" text-anchor="end" font-weight="bold">1</text><text x="283.5" y="481.5" font-size="3.0" fill="#111" text-anchor="end" font-weight="bold" stroke="#111" stroke-width="0.35">1</text><text x="282.4" y="492.5" font-size="2.4" fill="#111" text-anchor="end" opacity="0.5">1000</text><text x="283.2" y="495.70000000000005" font-size="3.0" fill="#111" text-anchor="end" font-weight="bold" stroke="#111" stroke-width="0.35">100</text><text x="283.2" y="494.6" font-size="3.0" fill="#8a8a8a" text-anchor="end" font-weight="bold" stroke="#8a8a8a" stroke-width="0.35">1</text><text x="283.2" y="505.6" font-size="2.6" fill="#8a8a8a" text-anchor="end" font-weight="bold">1</text><text x="283.5" y="509.2" font-size="3.0" fill="#8a8a8a" text-anchor="end" font-weight="bold" stroke="#8a8a8a" stroke-width="0.35">1</text><text x="282.4" y="520.2" font-size="2.4" fill="#8a8a8a" text-anchor="end" opacity="0.5">1000</text><text x="283.2" y="523.4" font-size="3.0" fill="#8a8a8a" text-anchor="end" font-weight="bold" stroke="#8a8a8a" stroke-width="0.35">100</text><text x="405.90000000000003" y="244.60000000000002" font-size="3.0" fill="#111" text-anchor="end" font-weight="bold" stroke="#111" stroke-width="0.35">100</text><text x="405.90000000000003" y="255.60000000000002" font-size="2.6" fill="#111" text-anchor="end" font-weight="bold">1</text><text x="406.20000000000005" y="259.2" font-size="3.0" fill="#111" text-anchor="end" font-weight="bold" stroke="#111" stroke-width="0.35">1</text><text x="405.1" y="270.2" font-size="2.4" fill="#111" text-anchor="end" opacity="0.5">1000</text><text x="405.90000000000003" y="273.40000000000003" font-size="3.0" fill="#111" text-anchor="end" font-weight="bold" stroke="#111" stroke-width="0.35">100</text><text x="405.90000000000003" y="270.5" font-size="3.0" fill="#111" text-anchor="end" font-weight="bold" stroke="#111" stroke-width="0.35">100</text><text x="405.90000000000003" y="281.5" font-size="2.6" fill="#111" text-anchor="end" font-weight="bold">1</text><text x="406.20000000000005" y="285.09999999999997" font-size="3.0" fill="#111" text-anchor="end" font-weight="bold" stroke="#111" stroke-width="0.35">1</text><text x="405.1" y="296.09999999999997" font-size="2.4" fill="#111" text-anchor="end" opacity="0.5">1000</text><text x="405.90000000000003" y="299.3" font-size="3.0" fill="#111" text-anchor="end" font-weight="bold" stroke="#111" stroke-width="0.35">100</text><text x="405.90000000000003" y="299.0" font-size="3.0" fill="#111" text-anchor="end" font-weight="bold" stroke="#111" stroke-width="0.35">100</text><text x="405.90000000000003" y="310.0" font-size="2.6" fill="#111" text-anchor="end" font-weight="bold">1</text><text x="406.20000000000005" y="313.59999999999997" font-size="3.0" fill="#111" text-anchor="end" font-weight="bold" stroke="#111" stroke-width="0.35">1</text><text x="405.1" y="324.59999999999997" font-size="2.4" fill="#111" text-anchor="end" opacity="0.5">1000</text><text x="405.90000000000003" y="327.8" font-size="3.0" fill="#111" text-anchor="end" font-weight="bold" stroke="#111" stroke-width="0.35">100</text><text x="405.90000000000003" y="326.8" font-size="3.0" fill="#4ea6dc" text-anchor="end" font-weight="bold" stroke="#4ea6dc" stroke-width="0.35">100</text><text x="405.90000000000003" y="337.8" font-size="2.6" fill="#4ea6dc" text-anchor="end" font-weight="bold">1</text><text x="406.20000000000005" y="341.4" font-size="3.0" fill="#4ea6dc" text-anchor="end" font-weight="bold" stroke="#4ea6dc" stroke-width="0.35">1</text><text x="405.1" y="352.4" font-size="2.4" fill="#4ea6dc" text-anchor="end" opacity="0.5">1000</text><text x="405.90000000000003" y="355.6" font-size="3.0" fill="#4ea6dc" text-anchor="end" font-weight="bold" stroke="#4ea6dc" stroke-width="0.35">100</text><text x="405.90000000000003" y="355.2" font-size="3.0" fill="#4ea6dc" text-anchor="end" font-weight="bold" stroke="#4ea6dc" stroke-width="0.35">100</text><text x="405.90000000000003" y="366.2" font-size="2.6" fill="#4ea6dc" text-anchor="end" font-weight="bold">1</text><text x="406.20000000000005" y="369.79999999999995" font-size="3.0" fill="#4ea6dc" text-anchor="end" font-weight="bold" stroke="#4ea6dc" stroke-width="0.35">1</text><text x="405.1" y="380.79999999999995" font-size="2.4" fill="#4ea6dc" text-anchor="end" opacity="0.5">1000</text><text x="405.90000000000003" y="384.0" font-size="3.0" fill="#4ea6dc" text-anchor="end" font-weight="bold" stroke="#4ea6dc" stroke-width="0.35">100</text><text x="405.90000000000003" y="382.90000000000003" font-size="3.0" fill="#4ea6dc" text-anchor="end" font-weight="bold" stroke="#4ea6dc" stroke-width="0.35">100</text><text x="405.90000000000003" y="393.90000000000003" font-size="2.6" fill="#4ea6dc" text-anchor="end" font-weight="bold">1</text><text x="406.20000000000005" y="397.5" font-size="3.0" fill="#4ea6dc" text-anchor="end" font-weight="bold" stroke="#4ea6dc" stroke-width="0.35">1</text><text x="405.1" y="408.5" font-size="2.4" fill="#4ea6dc" text-anchor="end" opacity="0.5">1000</text><text x="405.90000000000003" y="411.70000000000005" font-size="3.0" fill="#4ea6dc" text-anchor="end" font-weight="bold" stroke="#4ea6dc" stroke-width="0.35">100</text><text x="405.90000000000003" y="410.8" font-size="3.0" fill="#e4b050" text-anchor="end" font-weight="bold" stroke="#e4b050" stroke-width="0.35">1</text><text x="405.90000000000003" y="421.8" font-size="2.6" fill="#e4b050" text-anchor="end" font-weight="bold">1</text><text x="406.20000000000005" y="425.4" font-size="3.0" fill="#e4b050" text-anchor="end" font-weight="bold" stroke="#e4b050" stroke-width="0.35">1</text><text x="405.1" y="436.4" font-size="2.4" fill="#e4b050" text-anchor="end" opacity="0.5">1000</text><text x="405.90000000000003" y="439.6" font-size="3.0" fill="#e4b050" text-anchor="end" font-weight="bold" stroke="#e4b050" stroke-width="0.35">100</text><text x="405.90000000000003" y="438.5" font-size="3.0" fill="#8e1f24" text-anchor="end" font-weight="bold" stroke="#8e1f24" stroke-width="0.35">1</text><text x="405.90000000000003" y="449.5" font-size="2.6" fill="#8e1f24" text-anchor="end" font-weight="bold">1</text><text x="406.20000000000005" y="453.09999999999997" font-size="3.0" fill="#8e1f24" text-anchor="end" font-weight="bold" stroke="#8e1f24" stroke-width="0.35">1</text><text x="405.1" y="464.09999999999997" font-size="2.4" fill="#8e1f24" text-anchor="end" opacity="0.5">1000</text><text x="405.90000000000003" y="467.3" font-size="3.0" fill="#8e1f24" text-anchor="end" font-weight="bold" stroke="#8e1f24" stroke-width="0.35">100</text><text x="405.90000000000003" y="466.90000000000003" font-size="3.0" fill="#111" text-anchor="end" font-weight="bold" stroke="#111" stroke-width="0.35">1</text><text x="405.90000000000003" y="477.90000000000003" font-size="2.6" fill="#111" text-anchor="end" font-weight="bold">1</text><text x="406.20000000000005" y="481.5" font-size="3.0" fill="#111" text-anchor="end" font-weight="bold" stroke="#111" stroke-width="0.35">1</text><text x="405.1" y="492.5" font-size="2.4" fill="#111" text-anchor="end" opacity="0.5">1000</text><text x="405.90000000000003" y="495.70000000000005" font-size="3.0" fill="#111" text-anchor="end" font-weight="bold" stroke="#111" stroke-width="0.35">100</text><text x="405.90000000000003" y="494.6" font-size="3.0" fill="#8a8a8a" text-anchor="end" font-weight="bold" stroke="#8a8a8a" stroke-width="0.35">1</text><text x="405.90000000000003" y="505.6" font-size="2.6" fill="#8a8a8a" text-anchor="end" font-weight="bold">1</text><text x="406.20000000000005" y="509.2" font-size="3.0" fill="#8a8a8a" text-anchor="end" font-weight="bold" stroke="#8a8a8a" stroke-width="0.35">1</text><text x="405.1" y="520.2" font-size="2.4" fill="#8a8a8a" text-anchor="end" opacity="0.5">1000</text><text x="405.90000000000003" y="523.4" font-size="3.0" fill="#8a8a8a" text-anchor="end" font-weight="bold" stroke="#8a8a8a" stroke-width="0.35">100</text><line x1="50" y1="255.7" x2="156.5" y2="255.7" stroke="#333" stroke-width="0.9" opacity="1.0"/><line x1="50" y1="283.1" x2="148" y2="283.1" stroke="#333" stroke-width="0.9" opacity="1.0"/><line x1="50" y1="310.0" x2="160" y2="310.0" stroke="#333" stroke-width="0.9" opacity="1.0"/><path d="M64.80 255.70v3.18M65.30 255.70v1.46M65.80 255.70v1.71M66.30 255.70v1.03M66.80 255.70v4.00M67.30 255.70v1.34" stroke="#6f6f6f" stroke-width="0.5" fill="none" opacity="1.0"/><path d="M72.30 255.70v13.58M72.80 255.70v11.53M73.30 255.70v6.81M73.80 255.70v3.16M74.30 255.70v4.56M74.80 255.70v3.18M75.30 255.70v11.93M75.80 255.70v12.32M76.30 255.70v3.03M76.80 255.70v3.00M77.30 255.70v6.17M77.80 255.70v5.04M78.30 255.70v4.96M78.80 255.70v9.42M79.30 255.70v10.86M79.80 255.70v4.99M80.30 255.70v6.97M80.80 255.70v4.26M81.30 255.70v12.92M81.80 255.70v11.54M82.30 255.70v13.20M82.80 255.70v12.97M83.30 255.70v4.29M83.80 255.70v9.09" stroke="#6f6f6f" stroke-width="0.5" fill="none" opacity="1.0"/><path d="M93.00 255.70v7.58M93.50 255.70v8.57M94.00 255.70v8.88M94.50 255.70v7.16M95.00 255.70v6.43" stroke="#6f6f6f" stroke-width="0.5" fill="none" opacity="1.0"/><path d="M96.00 255.70v5.85M96.50 255.70v5.41M97.00 255.70v6.65" stroke="#6f6f6f" stroke-width="0.5" fill="none" opacity="1.0"/><path d="M100.60 255.70v11.69M101.10 255.70v8.36M101.60 255.70v12.68M102.10 255.70v10.47" stroke="#6f6f6f" stroke-width="0.5" fill="none" opacity="1.0"/><path d="M58.00 255.70v1.14M59.00 255.70v0.53M60.00 255.70v0.55M64.00 255.70v1.19M65.00 255.70v0.97M66.00 255.70v0.53M67.00 255.70v1.02M69.00 255.70v0.64M70.00 255.70v0.61M71.00 255.70v0.33M73.00 255.70v0.57M74.00 255.70v0.30M75.00 255.70v0.48M78.00 255.70v0.58M81.00 255.70v0.94M82.00 255.70v0.71M84.00 255.70v0.82M86.00 255.70v0.31M87.00 255.70v0.39M88.00 255.70v0.31M89.00 255.70v0.72M91.00 255.70v0.50M92.00 255.70v0.81M95.00 255.70v0.83M96.00 255.70v0.97M97.00 255.70v1.03M98.00 255.70v0.86M99.00 255.70v0.46M100.00 255.70v0.31M101.00 255.70v0.65M102.00 255.70v0.98M103.00 255.70v0.67M104.00 255.70v0.72M106.00 255.70v0.68M107.00 255.70v0.73M108.00 255.70v0.67M110.00 255.70v1.19M113.00 255.70v0.57M114.00 255.70v0.31M115.00 255.70v0.41M117.00 255.70v0.82M118.00 255.70v0.32M119.00 255.70v0.80M120.00 255.70v0.67M121.00 255.70v0.43M122.00 255.70v1.10M123.00 255.70v0.86M124.00 255.70v0.38M125.00 255.70v0.33M127.00 255.70v0.37M128.00 255.70v0.31M129.00 255.70v0.54M133.00 255.70v0.73M135.00 255.70v1.01M136.00 255.70v0.92M137.00 255.70v0.75M138.00 255.70v0.33M141.00 255.70v0.52M143.00 255.70v1.04M144.00 255.70v0.51M145.00 255.70v0.31M146.00 255.70v0.40M147.00 255.70v0.66M148.00 255.70v0.30M149.00 255.70v1.09M150.00 255.70v0.51" stroke="#444" stroke-width="0.5" fill="none" opacity="1.0"/><path d="M65.90 283.10v3.19M66.40 283.10v6.59M66.90 283.10v3.09M67.40 283.10v5.83M67.90 283.10v4.66M68.40 283.10v7.22M68.90 283.10v3.09M69.40 283.10v3.39M69.90 283.10v6.19M70.40 283.10v3.41M70.90 283.10v4.39M71.40 283.10v5.82" stroke="#6f6f6f" stroke-width="0.5" fill="none" opacity="1.0"/><path d="M71.50 283.10v7.55M72.00 283.10v6.14M72.50 283.10v13.37M73.00 283.10v9.33M73.50 283.10v9.42M74.00 283.10v7.06M74.50 283.10v12.68M75.00 283.10v13.52M75.50 283.10v11.54M76.00 283.10v8.61M76.50 283.10v6.38M77.00 283.10v7.00M77.50 283.10v11.91M78.00 283.10v11.56M78.50 283.10v13.99M79.00 283.10v10.47M79.50 283.10v10.26M80.00 283.10v7.83M80.50 283.10v6.15M81.00 283.10v6.62M81.50 283.10v6.96M82.00 283.10v6.00M82.50 283.10v6.12M83.00 283.10v11.91M83.50 283.10v13.19" stroke="#6f6f6f" stroke-width="0.5" fill="none" opacity="1.0"/><path d="M92.00 283.10v5.95M92.50 283.10v5.65M93.00 283.10v6.55M93.50 283.10v8.03M94.00 283.10v9.41M94.50 283.10v8.22" stroke="#6f6f6f" stroke-width="0.5" fill="none" opacity="1.0"/><path d="M96.00 283.10v10.08M96.50 283.10v7.40M97.00 283.10v5.94M97.50 283.10v7.59M98.00 283.10v8.16" stroke="#6f6f6f" stroke-width="0.5" fill="none" opacity="1.0"/><path d="M100.60 283.10v8.77M101.10 283.10v10.70M101.60 283.10v11.51M102.10 283.10v13.10" stroke="#6f6f6f" stroke-width="0.5" fill="none" opacity="1.0"/><path d="M80.50 283.10v-1.19M81.00 283.10v-1.45M81.50 283.10v-1.58" stroke="#333" stroke-width="0.5" fill="none" opacity="1.0"/><path d="M101.00 283.10v-1.38M101.50 283.10v-1.02M102.00 283.10v-1.98" stroke="#333" stroke-width="0.5" fill="none" opacity="1.0"/><path d="M58.00 283.10v0.42M59.00 283.10v0.46M60.00 283.10v0.31M61.00 283.10v0.42M62.00 283.10v0.93M65.00 283.10v0.32M66.00 283.10v0.64M67.00 283.10v0.86M70.00 283.10v0.40M73.00 283.10v0.39M77.00 283.10v0.37M78.00 283.10v0.67M80.00 283.10v0.64M81.00 283.10v0.77M82.00 283.10v1.13M83.00 283.10v0.34M84.00 283.10v0.47M85.00 283.10v0.36M88.00 283.10v1.08M89.00 283.10v0.45M90.00 283.10v0.55M91.00 283.10v0.86M93.00 283.10v0.36M94.00 283.10v0.35M98.00 283.10v0.93M99.00 283.10v0.58M100.00 283.10v0.31M102.00 283.10v1.14M103.00 283.10v0.69M105.00 283.10v0.30M106.00 283.10v0.58M107.00 283.10v0.43M109.00 283.10v0.48M110.00 283.10v0.65M112.00 283.10v1.00M115.00 283.10v0.64M116.00 283.10v0.69M119.00 283.10v0.57M121.00 283.10v0.38M125.00 283.10v0.31M126.00 283.10v0.75M127.00 283.10v0.60M129.00 283.10v0.31M130.00 283.10v0.81M132.00 283.10v1.00M133.00 283.10v0.66M135.00 283.10v0.60M137.00 283.10v0.94M138.00 283.10v1.12M139.00 283.10v0.97M140.00 283.10v0.48M141.00 283.10v0.53M142.00 283.10v0.41M143.00 283.10v0.81M144.00 283.10v0.41M147.00 283.10v0.58M148.00 283.10v0.99" stroke="#444" stroke-width="0.5" fill="none" opacity="1.0"/><path d="M68.30 310.00v6.79M68.80 310.00v6.84M69.30 310.00v7.18M69.80 310.00v8.41M70.30 310.00v8.83M70.80 310.00v10.46M71.30 310.00v7.50" stroke="#6f6f6f" stroke-width="0.5" fill="none" opacity="1.0"/><path d="M71.50 310.00v9.87M72.00 310.00v10.83M72.50 310.00v10.24M73.00 310.00v10.29M73.50 310.00v14.03M74.00 310.00v12.73M74.50 310.00v11.09M75.00 310.00v9.01M75.50 310.00v10.87M76.00 310.00v9.00M76.50 310.00v11.06M77.00 310.00v10.16M77.50 310.00v10.32" stroke="#555" stroke-width="0.5" fill="none" opacity="1.0"/><path d="M100.50 310.00v3.48M101.00 310.00v2.00M101.50 310.00v2.68M102.00 310.00v2.85" stroke="#6f6f6f" stroke-width="0.5" fill="none" opacity="1.0"/><path d="M57.00 310.00v1.17M58.00 310.00v0.72M59.00 310.00v1.07M61.00 310.00v0.61M62.00 310.00v0.90M64.00 310.00v0.98M65.00 310.00v1.11M67.00 310.00v0.40M69.00 310.00v0.34M72.00 310.00v0.48M73.00 310.00v0.34M74.00 310.00v0.70M76.00 310.00v0.98M77.00 310.00v0.72M79.00 310.00v0.95M80.00 310.00v0.62M81.00 310.00v0.42M82.00 310.00v0.85M83.00 310.00v0.68M85.00 310.00v0.30M86.00 310.00v1.13M87.00 310.00v0.58M89.00 310.00v0.33M90.00 310.00v0.32M91.00 310.00v0.48M92.00 310.00v0.62M94.00 310.00v1.18M95.00 310.00v0.99M96.00 310.00v0.92M99.00 310.00v1.06M100.00 310.00v0.87M101.00 310.00v0.45M102.00 310.00v0.74M103.00 310.00v0.68M104.00 310.00v0.53M106.00 310.00v0.61M109.00 310.00v0.33M110.00 310.00v0.36M111.00 310.00v0.88M113.00 310.00v0.36M114.00 310.00v1.00M115.00 310.00v0.66M116.00 310.00v0.67M118.00 310.00v0.72M120.00 310.00v0.58M121.00 310.00v0.42M122.00 310.00v0.31M123.00 310.00v1.07M125.00 310.00v0.94M126.00 310.00v0.49M127.00 310.00v1.01M128.00 310.00v0.34M129.00 310.00v0.31M132.00 310.00v0.96M133.00 310.00v0.99M135.00 310.00v0.60M136.00 310.00v1.11M137.00 310.00v0.42M139.00 310.00v0.63M140.00 310.00v0.33M141.00 310.00v1.17M144.00 310.00v0.40M145.00 310.00v0.70M146.00 310.00v0.30M147.00 310.00v0.70M149.00 310.00v0.45M151.00 310.00v0.60M152.00 310.00v0.31M153.00 310.00v0.30M155.00 310.00v0.81M156.00 310.00v0.61M158.00 310.00v0.33" stroke="#444" stroke-width="0.5" fill="none" opacity="1.0"/><line x1="172.3" y1="255.8" x2="272.7" y2="255.8" stroke="#333" stroke-width="0.9" opacity="1.0"/><line x1="172.3" y1="283.2" x2="272.7" y2="283.2" stroke="#333" stroke-width="0.9" opacity="1.0"/><line x1="172.3" y1="310.6" x2="272.7" y2="310.6" stroke="#333" stroke-width="0.9" opacity="1.0"/><path d="M187.00 255.80v3.02M187.50 255.80v3.90M188.00 255.80v5.48M188.50 255.80v6.78M189.00 255.80v5.97M189.50 255.80v3.95" stroke="#6f6f6f" stroke-width="0.5" fill="none" opacity="1.0"/><path d="M205.50 255.80v8.02M206.00 255.80v8.07M206.50 255.80v9.33" stroke="#6f6f6f" stroke-width="0.5" fill="none" opacity="1.0"/><path d="M206.00 255.80v3.68M206.40 255.80v3.38M206.80 255.80v3.45M207.20 255.80v1.01M207.60 255.80v3.03M208.00 255.80v3.89M208.80 255.80v2.95M209.20 255.80v4.64M210.00 255.80v3.08M210.40 255.80v4.50M210.80 255.80v1.62M211.20 255.80v1.42M211.60 255.80v1.83M212.00 255.80v2.49M212.40 255.80v2.96M212.80 255.80v1.01M213.20 255.80v4.47M213.60 255.80v3.77M214.00 255.80v1.10M214.40 255.80v1.69M214.80 255.80v4.96M215.20 255.80v2.32M215.60 255.80v1.98M216.00 255.80v4.88M216.40 255.80v4.42M217.20 255.80v1.17M217.60 255.80v2.60M218.00 255.80v4.99M218.40 255.80v1.03M219.20 255.80v4.78M219.60 255.80v4.41M220.00 255.80v1.36M220.40 255.80v2.14M220.80 255.80v1.34M221.20 255.80v4.49M221.60 255.80v4.58M222.00 255.80v1.20M222.40 255.80v1.32M222.80 255.80v2.88M223.20 255.80v1.05M223.60 255.80v1.31M224.00 255.80v1.59M224.40 255.80v2.64M224.80 255.80v4.11M225.20 255.80v4.61M225.60 255.80v1.05M226.00 255.80v2.01M226.40 255.80v2.54M226.80 255.80v1.40M227.20 255.80v3.52M227.60 255.80v3.17M228.00 255.80v4.33M228.40 255.80v2.30M228.80 255.80v2.27M229.20 255.80v3.78M229.60 255.80v2.56M230.00 255.80v4.49M230.40 255.80v2.69M230.80 255.80v1.13M231.20 255.80v4.53M231.60 255.80v2.10M232.00 255.80v1.01M232.40 255.80v2.26M232.80 255.80v4.02M233.20 255.80v1.47M234.40 255.80v1.17M234.80 255.80v1.00M235.20 255.80v2.15M235.60 255.80v3.80M236.00 255.80v3.08M236.40 255.80v3.50M236.80 255.80v4.40M237.20 255.80v4.49M238.00 255.80v1.63M238.80 255.80v2.30M239.20 255.80v4.85M239.60 255.80v1.29M240.00 255.80v4.19M240.40 255.80v1.38M240.80 255.80v2.70M241.20 255.80v2.84M241.60 255.80v3.76M242.00 255.80v1.87M242.80 255.80v2.59M243.20 255.80v4.42M243.60 255.80v2.26M244.00 255.80v3.69M244.40 255.80v3.28M244.80 255.80v1.79M245.20 255.80v2.76M246.00 255.80v4.90M246.40 255.80v1.64M246.80 255.80v1.07M247.60 255.80v4.87M248.00 255.80v2.13M248.40 255.80v2.57M248.80 255.80v1.25M249.20 255.80v2.72M250.00 255.80v1.01M250.40 255.80v2.67M250.80 255.80v4.93M251.20 255.80v2.29M251.60 255.80v2.15M252.00 255.80v1.06M252.40 255.80v4.71M253.20 255.80v1.68M253.60 255.80v4.89M254.00 255.80v1.56M254.40 255.80v3.22M254.80 255.80v1.27M255.20 255.80v1.68M255.60 255.80v4.47M256.00 255.80v4.18M256.40 255.80v2.47M256.80 255.80v3.32M257.20 255.80v3.49M257.60 255.80v3.81M258.00 255.80v1.27M258.40 255.80v3.27M258.80 255.80v1.05M259.20 255.80v1.01M259.60 255.80v1.04M260.00 255.80v1.52M260.40 255.80v3.09M260.80 255.80v3.27M261.60 255.80v1.48M262.00 255.80v3.94M262.40 255.80v3.60M262.80 255.80v1.20M263.20 255.80v4.44M263.60 255.80v3.66M264.00 255.80v1.89M264.40 255.80v4.53M264.80 255.80v1.53" stroke="#888" stroke-width="0.5" fill="none" opacity="1.0"/><path d="M190.00 255.80v0.41M190.50 255.80v1.05M192.00 255.80v1.36M192.50 255.80v1.00M193.00 255.80v1.39M193.50 255.80v0.45M194.00 255.80v0.67M195.00 255.80v1.32M196.00 255.80v0.86M197.00 255.80v0.93M198.50 255.80v0.36M199.00 255.80v1.25M199.50 255.80v0.41M200.00 255.80v1.48M201.00 255.80v1.24M201.50 255.80v0.30M202.00 255.80v0.45M202.50 255.80v0.38M203.00 255.80v0.36M203.50 255.80v0.63M205.00 255.80v0.32" stroke="#888" stroke-width="0.5" fill="none" opacity="1.0"/><path d="M230.00 255.80v5.03M230.50 255.80v6.30M231.00 255.80v6.32" stroke="#6f6f6f" stroke-width="0.5" fill="none" opacity="1.0"/><path d="M243.00 255.80v10.69M243.50 255.80v9.02M244.00 255.80v10.35" stroke="#6f6f6f" stroke-width="0.5" fill="none" opacity="1.0"/><path d="M263.00 255.80v9.66M263.50 255.80v10.74M264.00 255.80v9.29" stroke="#6f6f6f" stroke-width="0.5" fill="none" opacity="1.0"/><path d="M221.00 255.80v4.04M221.50 255.80v4.59M222.00 255.80v3.13" stroke="#6f6f6f" stroke-width="0.5" fill="none" opacity="1.0"/><path d="M253.00 255.80v4.89M253.50 255.80v3.14M254.00 255.80v3.48" stroke="#6f6f6f" stroke-width="0.5" fill="none" opacity="1.0"/><path d="M187.50 283.20v3.56M188.00 283.20v3.49M188.50 283.20v3.39M189.00 283.20v5.98M189.50 283.20v4.84M190.00 283.20v4.09M191.00 283.20v4.14M191.50 283.20v3.97M192.00 283.20v5.71M193.00 283.20v3.87M194.00 283.20v5.92M194.50 283.20v4.25M195.00 283.20v5.80M196.00 283.20v4.59M196.50 283.20v6.96M197.00 283.20v3.99M197.50 283.20v4.78M198.00 283.20v3.76M199.00 283.20v6.71M199.50 283.20v4.25M200.00 283.20v3.01" stroke="#6f6f6f" stroke-width="0.5" fill="none" opacity="1.0"/><path d="M203.00 283.20v7.66M203.50 283.20v5.01M204.00 283.20v9.13M204.50 283.20v12.91M205.00 283.20v10.18M205.50 283.20v8.08M206.00 283.20v12.50M206.50 283.20v5.75M207.00 283.20v6.56M207.50 283.20v10.85M208.00 283.20v12.36M208.50 283.20v11.80M209.00 283.20v12.08M210.00 283.20v6.12M210.50 283.20v8.42M211.00 283.20v7.67M211.50 283.20v11.46M212.00 283.20v7.21M212.50 283.20v7.07M213.00 283.20v5.50M213.50 283.20v13.25M214.00 283.20v5.57M214.50 283.20v5.18M215.00 283.20v9.11M215.50 283.20v13.34M216.00 283.20v7.97M216.50 283.20v7.68M217.00 283.20v7.26M217.50 283.20v11.74M218.00 283.20v6.69M218.50 283.20v9.70M219.00 283.20v9.29M219.50 283.20v10.01M220.00 283.20v11.13M220.50 283.20v6.58M221.00 283.20v7.61M221.50 283.20v12.15M222.00 283.20v11.00M222.50 283.20v5.32M223.00 283.20v6.95M223.50 283.20v7.52M224.00 283.20v7.32M224.50 283.20v6.47M225.00 283.20v10.59M225.50 283.20v8.35M226.00 283.20v9.71M226.50 283.20v9.31M227.00 283.20v5.17M227.50 283.20v5.08M228.00 283.20v9.38M228.50 283.20v6.24M229.00 283.20v12.51M229.50 283.20v7.46M230.00 283.20v7.79M230.50 283.20v6.22M231.00 283.20v5.66M231.50 283.20v9.71M232.00 283.20v8.79M232.50 283.20v5.39M233.00 283.20v8.22M233.50 283.20v8.54M234.50 283.20v5.22M235.00 283.20v12.16M236.00 283.20v7.13M236.50 283.20v9.33M237.00 283.20v7.31M237.50 283.20v10.76M238.00 283.20v12.44M238.50 283.20v10.31M239.50 283.20v6.15M240.00 283.20v7.40M240.50 283.20v5.51M241.00 283.20v7.40M241.50 283.20v6.81M242.00 283.20v9.22M242.50 283.20v6.42M243.00 283.20v8.08M243.50 283.20v11.79M244.00 283.20v7.86M244.50 283.20v8.22M245.00 283.20v8.12M245.50 283.20v6.97M246.00 283.20v5.01M246.50 283.20v10.45M247.00 283.20v5.25M247.50 283.20v7.50M248.00 283.20v5.31M248.50 283.20v6.41M249.00 283.20v10.05M249.50 283.20v10.18M250.00 283.20v6.85M250.50 283.20v7.43M251.00 283.20v7.35M251.50 283.20v8.07M252.00 283.20v5.53M252.50 283.20v10.45M253.50 283.20v7.14M254.00 283.20v5.81M254.50 283.20v12.42M255.00 283.20v8.25M255.50 283.20v5.34M256.00 283.20v5.00M256.50 283.20v5.94M257.50 283.20v7.97M258.00 283.20v6.22M258.50 283.20v12.64M259.00 283.20v8.11M259.50 283.20v6.79M260.00 283.20v7.71M260.50 283.20v10.11M261.00 283.20v5.63M261.50 283.20v5.60M262.00 283.20v12.47M263.00 283.20v8.51M263.50 283.20v5.96M264.00 283.20v8.98M264.50 283.20v10.60" stroke="#6f6f6f" stroke-width="0.5" fill="none" opacity="1.0"/><path d="M187.00 310.60v14.68M187.50 310.60v13.61M188.00 310.60v12.18M188.50 310.60v11.52M189.00 310.60v12.47M189.50 310.60v11.94" stroke="#666" stroke-width="0.5" fill="none" opacity="1.0"/><path d="M189.50 310.60v4.80M190.00 310.60v2.57M190.50 310.60v2.30M191.00 310.60v4.01M191.50 310.60v3.12M192.00 310.60v4.77M192.50 310.60v3.14M193.00 310.60v3.88M193.50 310.60v2.14M194.00 310.60v4.82M194.50 310.60v2.20M195.00 310.60v2.70M195.50 310.60v3.14M196.00 310.60v4.99M196.50 310.60v4.01M197.00 310.60v2.49M197.50 310.60v2.74M198.00 310.60v3.93M198.50 310.60v2.28M199.00 310.60v3.64M199.50 310.60v3.20M200.00 310.60v4.62" stroke="#6f6f6f" stroke-width="0.5" fill="none" opacity="1.0"/><path d="M203.40 310.60v14.86M203.80 310.60v13.84M204.20 310.60v11.23M204.60 310.60v15.09M205.00 310.60v11.06M205.40 310.60v11.56M205.80 310.60v11.19M206.20 310.60v12.96M206.60 310.60v14.30M207.00 310.60v15.06M207.40 310.60v13.35M207.80 310.60v12.01M208.20 310.60v11.04M208.60 310.60v12.67M209.00 310.60v12.89M209.40 310.60v13.53M209.80 310.60v13.07M210.20 310.60v13.87M210.60 310.60v14.17M211.00 310.60v13.85M211.40 310.60v11.91M211.80 310.60v15.23M212.20 310.60v12.53M212.60 310.60v13.30M213.00 310.60v13.31M213.40 310.60v11.04M213.80 310.60v11.55M214.20 310.60v13.73M214.60 310.60v11.34M215.00 310.60v14.10M215.40 310.60v11.84M215.80 310.60v11.59M216.20 310.60v11.22M216.60 310.60v11.68M217.00 310.60v11.23M217.40 310.60v14.97M217.80 310.60v13.28M218.20 310.60v13.78M218.60 310.60v12.05M219.00 310.60v12.72M219.40 310.60v14.55M219.80 310.60v14.60M220.20 310.60v11.51M220.60 310.60v11.72M221.00 310.60v11.00M221.40 310.60v11.31M221.80 310.60v14.72M222.20 310.60v11.04M222.60 310.60v11.00M223.00 310.60v13.84M223.40 310.60v12.18M223.80 310.60v11.16M224.20 310.60v14.39M224.60 310.60v11.13M225.00 310.60v11.52M225.40 310.60v11.17M225.80 310.60v15.28M226.20 310.60v12.41M226.60 310.60v14.78M227.00 310.60v13.15M227.40 310.60v11.61M227.80 310.60v11.10M228.20 310.60v13.89M228.60 310.60v13.33M229.00 310.60v11.36M229.40 310.60v11.74M229.80 310.60v13.93M230.20 310.60v12.34M230.60 310.60v11.36M231.00 310.60v13.35M231.40 310.60v12.04M231.80 310.60v11.69M232.20 310.60v11.19M232.60 310.60v14.68M233.00 310.60v12.61M233.40 310.60v11.17M233.80 310.60v14.64M234.20 310.60v13.00M234.60 310.60v15.09M235.00 310.60v11.63M235.40 310.60v11.90M235.80 310.60v11.21M236.20 310.60v15.27M236.60 310.60v12.18M237.00 310.60v11.10M237.40 310.60v13.25M237.80 310.60v12.16M238.20 310.60v13.05M238.60 310.60v11.24M239.00 310.60v12.83M239.40 310.60v12.17M239.80 310.60v11.49M240.20 310.60v14.37M240.60 310.60v12.80M241.00 310.60v11.28M241.40 310.60v12.79M241.80 310.60v13.84M242.20 310.60v12.05M242.60 310.60v13.16M243.00 310.60v11.52M243.40 310.60v12.74M243.80 310.60v14.64M244.20 310.60v11.30M244.60 310.60v11.66M245.00 310.60v11.63M245.40 310.60v11.19M245.80 310.60v13.64M246.20 310.60v14.30M246.60 310.60v11.79M247.00 310.60v11.33M247.40 310.60v13.37M247.80 310.60v11.04M248.20 310.60v11.05M248.60 310.60v11.04M249.00 310.60v15.37M249.40 310.60v15.30M249.80 310.60v14.05M250.20 310.60v12.84M250.60 310.60v11.28M251.00 310.60v15.36M251.40 310.60v11.66M251.80 310.60v11.08M252.20 310.60v11.04M252.60 310.60v14.99M253.00 310.60v11.04M253.40 310.60v14.20M253.80 310.60v11.98M254.20 310.60v12.05M254.60 310.60v13.63M255.00 310.60v11.12M255.40 310.60v12.02M255.80 310.60v12.61M256.20 310.60v13.56M256.60 310.60v12.19M257.00 310.60v14.88M257.40 310.60v11.13M257.80 310.60v13.09M258.20 310.60v11.01M258.60 310.60v11.71M259.00 310.60v14.43M259.40 310.60v11.34M259.80 310.60v11.43M260.20 310.60v14.27M260.60 310.60v11.61M261.00 310.60v15.07M261.40 310.60v13.41M261.80 310.60v11.90M262.20 310.60v11.93M262.60 310.60v14.78M263.00 310.60v12.42M263.40 310.60v11.33M263.80 310.60v13.58M264.20 310.60v11.05M264.60 310.60v11.33" stroke="#666" stroke-width="0.5" fill="none" opacity="1.0"/><line x1="285" y1="255.2" x2="378.8" y2="255.2" stroke="#333" stroke-width="0.9" opacity="1.0"/><line x1="382" y1="255.2" x2="398" y2="255.2" stroke="#333" stroke-width="0.9" opacity="1.0"/><line x1="285" y1="282.7" x2="398" y2="282.7" stroke="#333" stroke-width="0.9" opacity="1.0"/><line x1="285" y1="310.4" x2="388.4" y2="310.4" stroke="#333" stroke-width="0.9" opacity="1.0"/><path d="M313.00 255.20L313.00 255.20L313.80 256.70L315.50 257.50L317.50 257.20L318.80 256.20L323.00 256.00L328.00 255.80L329.00 255.20L329.00 255.20Z" fill="#747474" opacity="1.0"/><path d="M340.00 255.20L340.00 255.20L341.00 257.00L344.00 257.80L348.00 257.40L351.00 257.80L354.00 257.20L355.80 256.40L356.50 255.20L356.50 255.20Z" fill="#747474" opacity="1.0"/><path d="M367.50 255.20L367.50 255.20L368.50 256.80L371.00 258.20L373.00 258.30L375.50 257.40L377.30 255.20L377.30 255.20Z" fill="#747474" opacity="1.0"/><path d="M334.50 255.20L334.50 255.20L335.20 253.70L336.00 255.20L336.00 255.20Z" fill="#444" opacity="1.0"/><path d="M313.00 282.70L313.00 282.70L314.00 284.20L318.00 284.90L322.00 284.30L326.00 285.50L329.00 284.70L332.70 286.30L335.00 285.10L336.50 282.70L336.50 282.70Z" fill="#747474" opacity="1.0"/><path d="M340.00 282.70L340.00 282.70L341.00 284.70L344.00 285.90L347.00 285.10L350.00 286.50L353.50 287.80L355.50 286.20L357.30 282.70L357.30 282.70Z" fill="#747474" opacity="1.0"/><path d="M360.40 282.70L360.40 282.70L362.00 284.10L366.00 283.70L369.00 284.70L372.00 284.30L375.00 282.70L375.00 282.70Z" fill="#747474" opacity="1.0"/><path d="M311.90 310.40L311.90 310.40L312.50 314.40L314.00 319.90L315.80 323.70L317.30 321.40L319.60 322.90L321.20 319.10L323.50 318.40L325.00 320.70L326.50 317.60L328.00 318.40L330.40 321.40L332.70 324.40L334.20 321.40L336.50 315.40L338.00 310.40L338.00 310.40Z" fill="#747474" opacity="1.0"/><path d="M340.00 310.40L340.00 310.40L340.50 315.40L342.00 319.10L344.00 319.90L346.00 321.40L348.00 322.20L350.00 322.90L352.00 323.70L354.00 324.40L355.50 322.20L356.50 318.40L357.30 310.40L357.30 310.40Z" fill="#747474" opacity="1.0"/><path d="M360.40 310.40L360.40 310.40L362.00 312.90L364.20 310.40L364.20 310.40Z" fill="#747474" opacity="1.0"/><path d="M367.30 310.40L367.30 310.40L368.00 314.40L369.60 315.40L371.20 318.40L372.70 319.60L374.20 316.90L375.40 313.80L376.50 310.40L376.50 310.40Z" fill="#747474" opacity="1.0"/><path d="M408.0 255.4h1.8M410.8 255.4h3.3M415.5 255.4h2.1M419.8 255.4h2.5M424.4 255.4h3.8M428.9 255.4h4.0M435.1 255.4h4.4M441.1 255.4h3.4M445.6 255.4h2.0M448.3 255.4h0.9M450.3 255.4h1.8M453.2 255.4h0.8M454.7 255.4h4.7M461.6 255.4h2.0M464.6 255.4h1.7M467.6 255.4h0.8M470.4 255.4h2.1M473.4 255.4h4.3M480.0 255.4h3.0M485.3 255.4h2.9M489.3 255.4h4.7M495.8 255.4h1.0M497.7 255.4h2.3M502.3 255.4h4.3M509.4 255.4h3.5M515.4 255.4h3.4" stroke="#2a2a2a" stroke-width="1.0"/><path d="M408.0 282.5h4.7M414.3 282.5h1.9M417.9 282.5h2.6M421.6 282.5h4.3M428.4 282.5h1.6M431.4 282.5h2.8M434.9 282.5h0.8M437.7 282.5h1.9M441.9 282.5h3.7M447.0 282.5h2.9M451.5 282.5h3.9M456.7 282.5h4.1M462.9 282.5h2.7M466.9 282.5h3.1M472.5 282.5h1.2M476.4 282.5h3.8M481.3 282.5h0.9M483.9 282.5h1.1M487.7 282.5h2.6M491.7 282.5h0.8M494.3 282.5h3.6M499.7 282.5h4.6M506.5 282.5h3.6M511.7 282.5h2.8M516.3 282.5h3.2" stroke="#2a2a2a" stroke-width="1.0"/><path d="M408.0 310.8h1.3M410.2 310.8h3.7M415.2 310.8h2.3M418.4 310.8h1.0M420.5 310.8h3.8M426.2 310.8h2.6M431.0 310.8h3.5M435.5 310.8h1.0M437.2 310.8h0.9M439.9 310.8h1.5M443.5 310.8h1.0M446.5 310.8h2.3M450.1 310.8h4.2M456.5 310.8h3.2M462.5 310.8h4.0M467.1 310.8h2.9M471.7 310.8h2.9M476.9 310.8h1.8M480.8 310.8h4.7M486.3 310.8h3.7M492.1 310.8h2.5M497.1 310.8h1.1M499.5 310.8h3.9M506.0 310.8h4.0M511.4 310.8h2.7M515.2 310.8h4.1" stroke="#2a2a2a" stroke-width="1.0"/><path d="M425.40 255.40v0.95M425.90 255.40v2.68M426.90 255.40v2.23M427.40 255.40v1.21M427.90 255.40v1.78M428.40 255.40v1.37M428.90 255.40v1.41M429.40 255.40v1.74M429.90 255.40v1.05M430.40 255.40v1.52M430.90 255.40v1.37M431.40 255.40v2.24M431.90 255.40v0.84M432.40 255.40v0.87M432.90 255.40v0.82M433.40 255.40v1.24M433.90 255.40v0.91M434.40 255.40v2.60M434.90 255.40v1.93M435.40 255.40v2.63M435.90 255.40v1.14M436.40 255.40v0.86M436.90 255.40v2.02M437.40 255.40v2.70M437.90 255.40v1.36M439.90 255.40v1.83M440.40 255.40v1.50M440.90 255.40v2.48M441.40 255.40v1.59M441.90 255.40v1.77M442.40 255.40v3.19M442.90 255.40v2.27M443.40 255.40v1.88M443.90 255.40v1.85M444.40 255.40v1.17M444.90 255.40v1.47M445.40 255.40v2.43M445.90 255.40v0.96M446.40 255.40v0.82M446.90 255.40v2.63M447.40 255.40v1.64M447.90 255.40v1.72M448.40 255.40v1.20M448.90 255.40v0.97M449.40 255.40v2.26M449.90 255.40v0.88M450.40 255.40v3.16M450.90 255.40v1.04M451.40 255.40v0.91M451.90 255.40v2.40M453.40 255.40v1.79M453.90 255.40v2.37" stroke="#444" stroke-width="0.5" fill="none" opacity="1.0"/><path d="M425.40 282.50v2.95M425.90 282.50v0.85M426.90 282.50v1.25M427.40 282.50v1.32M427.90 282.50v2.95M428.40 282.50v2.27M429.40 282.50v1.83M429.90 282.50v2.30M430.90 282.50v2.42M432.40 282.50v0.80M433.40 282.50v1.31M433.90 282.50v2.73M434.40 282.50v1.66M434.90 282.50v4.08M435.40 282.50v0.85M435.90 282.50v2.02M436.40 282.50v1.43M436.90 282.50v3.48M437.40 282.50v4.15M438.90 282.50v1.11M439.40 282.50v2.14M440.90 282.50v3.66M441.40 282.50v1.78M441.90 282.50v2.15M442.40 282.50v1.58M442.90 282.50v3.10M443.40 282.50v1.89M443.90 282.50v1.95M444.90 282.50v1.37M445.40 282.50v2.05M445.90 282.50v1.97M446.90 282.50v1.99M447.40 282.50v3.46M447.90 282.50v1.21M448.40 282.50v0.98M448.90 282.50v2.06M449.40 282.50v3.36M449.90 282.50v3.09M450.40 282.50v2.24M451.90 282.50v3.18M452.40 282.50v2.75M452.90 282.50v1.05M453.40 282.50v1.42M453.90 282.50v3.82" stroke="#444" stroke-width="0.5" fill="none" opacity="1.0"/><path d="M459.50 255.40v1.12M462.50 255.40v1.15M465.50 255.40v0.58M467.00 255.40v0.65M480.50 255.40v0.82M482.00 255.40v0.63M485.00 255.40v1.37M489.50 255.40v1.01M494.00 255.40v1.49M498.50 255.40v0.51M500.00 255.40v0.97M509.00 255.40v0.81M513.50 255.40v0.68M515.00 255.40v0.63" stroke="#444" stroke-width="0.5" fill="none" opacity="1.0"/><path d="M458.00 282.50v1.38M461.00 282.50v1.08M462.50 282.50v0.57M467.00 282.50v1.36M468.50 282.50v0.59M471.50 282.50v0.63M474.50 282.50v0.60M476.00 282.50v0.81M479.00 282.50v0.85M480.50 282.50v0.85M485.00 282.50v0.68M489.50 282.50v1.02M494.00 282.50v0.74M495.50 282.50v0.81M497.00 282.50v1.32M501.50 282.50v0.92M504.50 282.50v0.56M509.00 282.50v0.77M510.50 282.50v0.55" stroke="#444" stroke-width="0.5" fill="none" opacity="1.0"/><path d="M508.00 282.50v3.24M508.50 282.50v2.08M509.00 282.50v2.11" stroke="#6f6f6f" stroke-width="0.5" fill="none" opacity="1.0"/><path d="M419.60 310.80L419.60 310.80L421.30 318.80L423.60 313.80L425.50 323.80L427.30 316.80L429.00 322.80L430.60 315.80L432.20 319.80L434.20 314.80L436.40 324.30L438.20 317.80L440.00 323.30L441.80 316.80L443.60 323.80L445.40 317.80L447.20 324.40L449.00 316.80L450.60 321.30L452.00 315.80L453.40 324.20L454.30 310.80L454.30 310.80Z" fill="#7a7a7a" opacity="1.0"/><path d="M421.60 310.80v6.86M423.60 310.80v5.39M424.10 310.80v7.37M424.60 310.80v6.59M425.60 310.80v3.22M429.10 310.80v11.89M430.10 310.80v10.42M430.60 310.80v3.34M433.10 310.80v12.12M433.60 310.80v4.22M436.10 310.80v5.04M438.60 310.80v4.76M439.10 310.80v3.05M440.10 310.80v3.81M440.60 310.80v6.86M443.10 310.80v3.35M443.60 310.80v12.82M444.10 310.80v11.88M445.60 310.80v5.12M446.10 310.80v6.45M446.60 310.80v11.47M447.10 310.80v4.31M447.60 310.80v10.84M448.10 310.80v4.12M449.10 310.80v4.48M450.10 310.80v10.64M451.60 310.80v6.55M452.60 310.80v12.11M453.60 310.80v6.55" stroke="#666" stroke-width="0.5" fill="none" opacity="1.0"/><path d="M507.30 310.80v11.24M507.80 310.80v11.37M508.30 310.80v11.08M508.80 310.80v11.69" stroke="#6f6f6f" stroke-width="0.5" fill="none" opacity="1.0"/><path d="M64.00 338.10v0.50M67.00 338.10v0.30M92.50 338.10v0.46M98.50 338.10v0.31M100.00 338.10v0.96M101.50 338.10v0.38M107.50 338.10v0.93M112.00 338.10v0.62M116.50 338.10v0.77M121.00 338.10v0.73M122.50 338.10v0.30M124.00 338.10v0.78M134.50 338.10v0.46M136.00 338.10v0.33" stroke="#56aee0" stroke-width="0.5" fill="none" opacity="0.6"/><path d="M62.00 338.10v-1.13M77.00 338.10v-1.05M92.00 338.10v-0.40M129.50 338.10v-1.42" stroke="#56aee0" stroke-width="0.5" fill="none" opacity="0.6"/><path d="M101.6 329.1L102.74 334.5L102.398 338.1L102.512 340.90000000000003L101.6 345.1L100.68799999999999 340.90000000000003L100.80199999999999 338.1L100.46 334.5Z" fill="#56aee0" opacity="0.75"/><path d="M101.6 329.1V345.1" stroke="#2f8fcc" stroke-width="0.6"/><path d="M148.1 325.1L149.68 332.90000000000003L149.206 338.1L149.364 343.70000000000005L148.1 352.1L146.83599999999998 343.70000000000005L146.994 338.1L146.51999999999998 332.90000000000003Z" fill="#56aee0" opacity="0.75"/><path d="M148.1 325.1V352.1" stroke="#2f8fcc" stroke-width="0.6"/><path d="M52.00 365.50v0.33M58.00 365.50v0.36M61.00 365.50v0.42M62.50 365.50v0.70M64.00 365.50v0.46M70.00 365.50v0.49M74.50 365.50v0.49M98.50 365.50v0.90M101.50 365.50v0.40M106.00 365.50v0.62M119.50 365.50v0.49M136.00 365.50v0.31M146.50 365.50v0.56M155.50 365.50v0.81" stroke="#56aee0" stroke-width="0.5" fill="none" opacity="0.6"/><path d="M52.00 365.50v-1.08M57.00 365.50v-0.37M64.50 365.50v-0.52M112.00 365.50v-1.37M114.50 365.50v-1.38M147.00 365.50v-0.33M152.00 365.50v-0.30" stroke="#56aee0" stroke-width="0.5" fill="none" opacity="0.6"/><path d="M101.6 363.5L102.41999999999999 364.7L102.17399999999999 365.5L102.256 367.9L101.6 371.5L100.94399999999999 367.9L101.026 365.5L100.78 364.7Z" fill="#56aee0" opacity="0.75"/><path d="M101.6 363.5V371.5" stroke="#2f8fcc" stroke-width="0.6"/><path d="M119.5 362.5L120.32 364.3L120.074 365.5L120.156 367.5L119.5 370.5L118.844 367.5L118.926 365.5L118.68 364.3Z" fill="#56aee0" opacity="0.75"/><path d="M119.5 362.5V370.5" stroke="#2f8fcc" stroke-width="0.6"/><path d="M148.1 362.5L149.32 364.3L148.954 365.5L149.076 371.5L148.1 380.5L147.124 371.5L147.24599999999998 365.5L146.88 364.3Z" fill="#56aee0" opacity="0.75"/><path d="M148.1 362.5V380.5" stroke="#2f8fcc" stroke-width="0.6"/><path d="M58.00 338.10v-3.88M58.50 338.10v-2.91" stroke="#56aee0" stroke-width="0.5" fill="none" opacity="1.0"/><path d="M72.00 338.10v2.04M72.50 338.10v2.26" stroke="#56aee0" stroke-width="0.5" fill="none" opacity="1.0"/><path d="M93.00 338.10v-2.46M93.50 338.10v-2.58" stroke="#56aee0" stroke-width="0.5" fill="none" opacity="1.0"/><path d="M110.00 338.10v-3.62M110.50 338.10v-2.93" stroke="#56aee0" stroke-width="0.5" fill="none" opacity="1.0"/><path d="M85.00 338.10v2.26M85.50 338.10v3.94" stroke="#56aee0" stroke-width="0.5" fill="none" opacity="1.0"/><path d="M130.00 338.10v-2.79M130.50 338.10v-2.91" stroke="#56aee0" stroke-width="0.5" fill="none" opacity="1.0"/><path d="M80.00 365.50v-5.42M80.50 365.50v-3.91" stroke="#56aee0" stroke-width="0.5" fill="none" opacity="1.0"/><path d="M88.00 365.50v2.10M88.50 365.50v3.99" stroke="#56aee0" stroke-width="0.5" fill="none" opacity="1.0"/><path d="M126.00 365.50v-3.51M126.50 365.50v-5.35" stroke="#56aee0" stroke-width="0.5" fill="none" opacity="1.0"/><path d="M135.00 365.50v-2.06M135.50 365.50v-2.35" stroke="#56aee0" stroke-width="0.5" fill="none" opacity="1.0"/><line x1="50.5" y1="393.6" x2="150.5" y2="393.6" stroke="#3b8fc6" stroke-width="1.1" stroke-dasharray="2.2 0.6" opacity="1.0"/><path d="M56.00 398.80v0.33M60.00 398.80v0.63M62.00 398.80v0.31M66.00 398.80v0.48M70.00 398.80v0.35M78.00 398.80v0.43M82.00 398.80v0.30M86.00 398.80v0.69M94.00 398.80v0.46M96.00 398.80v0.34M98.00 398.80v0.40M100.00 398.80v0.49M106.00 398.80v0.33M110.00 398.80v0.31M118.00 398.80v0.36M124.00 398.80v0.78M126.00 398.80v0.80M130.00 398.80v0.66M134.00 398.80v0.34M142.00 398.80v0.50M144.00 398.80v0.51M146.00 398.80v0.63M148.00 398.80v0.37M150.00 398.80v0.72" stroke="#56aee0" stroke-width="0.5" fill="none" opacity="0.5"/><path d="M188.5 365V375" stroke="#56aee0" stroke-width="0.6" opacity="0.7"/><path d="M203.5 365V376" stroke="#56aee0" stroke-width="0.6" opacity="0.7"/><path d="M227.7 365V370" stroke="#56aee0" stroke-width="0.6" opacity="0.7"/><path d="M237 366V371" stroke="#56aee0" stroke-width="0.6" opacity="0.7"/><path d="M271.5 357V366.5" stroke="#56aee0" stroke-width="0.6" opacity="0.7"/><path d="M183.00 338.00v0.52M207.00 338.00v1.16M228.00 338.00v0.49M240.00 338.00v0.39M246.00 338.00v1.47M261.00 338.00v1.08M264.00 338.00v0.31" stroke="#56aee0" stroke-width="0.5" fill="none" opacity="0.6"/><path d="M180.00 393.60v0.65M188.00 393.60v1.14M190.00 393.60v0.71M192.00 393.60v0.64M194.00 393.60v1.28M198.00 393.60v0.34M206.00 393.60v1.26M208.00 393.60v0.49M212.00 393.60v0.43M216.00 393.60v1.06M218.00 393.60v0.50M228.00 393.60v0.41M230.00 393.60v0.37M232.00 393.60v0.99M234.00 393.60v1.21M236.00 393.60v0.65M240.00 393.60v0.95M246.00 393.60v1.14M248.00 393.60v0.31M250.00 393.60v0.99M252.00 393.60v0.97M256.00 393.60v1.44M258.00 393.60v1.16M260.00 393.60v0.79M264.00 393.60v1.14M266.00 393.60v0.57M270.00 393.60v1.25" stroke="#56aee0" stroke-width="0.5" fill="none" opacity="0.6"/><rect x="477.8" y="337" width="1.4" height="2" fill="#56aee0"/><rect x="496.8" y="363.8" width="1.3" height="2.5" fill="#56aee0"/><path d="M54.50 421.50v0.58M57.00 421.50v0.31M62.00 421.50v0.26M64.50 421.50v0.39M67.00 421.50v0.28M69.50 421.50v0.66M72.00 421.50v0.49M74.50 421.50v0.66M77.00 421.50v0.22M92.00 421.50v0.58M94.50 421.50v0.32M97.00 421.50v0.34M99.50 421.50v0.20M109.50 421.50v0.26M112.00 421.50v0.57M117.00 421.50v0.58M119.50 421.50v0.27M122.00 421.50v0.60M127.00 421.50v0.22M137.00 421.50v0.75M144.50 421.50v0.34" stroke="#ecc074" stroke-width="0.5" fill="none" opacity="0.7"/><line x1="50.5" y1="435.3" x2="150" y2="435.3" stroke="#ecc074" stroke-width="0.8" opacity="0.8"/><path d="M52.00 435.30v-2.15M53.00 435.30v-0.60M55.00 435.30v-1.55M56.00 435.30v-0.68M58.00 435.30v-2.27M62.00 435.30v-1.49M63.00 435.30v-1.05M64.00 435.30v-0.31M65.00 435.30v-2.39M66.00 435.30v-1.95M69.00 435.30v-0.54M73.00 435.30v-0.36M76.00 435.30v-0.44M77.00 435.30v-0.52M80.00 435.30v-2.19M82.00 435.30v-1.96M83.00 435.30v-1.80M85.00 435.30v-0.50M87.00 435.30v-1.23M90.00 435.30v-1.41M91.00 435.30v-0.76M93.00 435.30v-1.84M95.00 435.30v-0.85M97.00 435.30v-2.42M98.00 435.30v-1.13M99.00 435.30v-0.74M100.00 435.30v-0.71M101.00 435.30v-0.63M102.00 435.30v-1.34M103.00 435.30v-2.28M104.00 435.30v-0.57M105.00 435.30v-0.30M106.00 435.30v-0.44M107.00 435.30v-0.33M108.00 435.30v-0.35M109.00 435.30v-1.94M110.00 435.30v-0.42M111.00 435.30v-1.09M113.00 435.30v-2.17M114.00 435.30v-0.31M116.00 435.30v-0.63M118.00 435.30v-0.87M119.00 435.30v-0.46M120.00 435.30v-0.77M122.00 435.30v-1.86M123.00 435.30v-0.30M124.00 435.30v-1.24M125.00 435.30v-0.33M126.00 435.30v-0.36M128.00 435.30v-1.50M130.00 435.30v-0.37M132.00 435.30v-0.57M133.00 435.30v-0.34M134.00 435.30v-0.52M135.00 435.30v-0.54M138.00 435.30v-1.00M139.00 435.30v-1.30M140.00 435.30v-0.75M143.00 435.30v-1.78M147.00 435.30v-0.87" stroke="#ecc074" stroke-width="0.5" fill="none" opacity="1.0"/><path d="M68.00 435.30v-3.92M68.50 435.30v-4.31" stroke="#ecc074" stroke-width="0.5" fill="none" opacity="1.0"/><path d="M70.00 435.30v-7.15M70.50 435.30v-6.28" stroke="#ecc074" stroke-width="0.5" fill="none" opacity="1.0"/><path d="M74.00 435.30v-3.18M74.50 435.30v-2.49" stroke="#ecc074" stroke-width="0.5" fill="none" opacity="1.0"/><path d="M77.00 435.30v-4.49M77.50 435.30v-4.59" stroke="#ecc074" stroke-width="0.5" fill="none" opacity="1.0"/><path d="M79.00 435.30v-10.63M79.50 435.30v-9.98" stroke="#ecc074" stroke-width="0.5" fill="none" opacity="1.0"/><path d="M81.00 435.30v-3.33M81.50 435.30v-4.35" stroke="#ecc074" stroke-width="0.5" fill="none" opacity="1.0"/><path d="M85.00 435.30v-5.01M85.50 435.30v-5.48" stroke="#ecc074" stroke-width="0.5" fill="none" opacity="1.0"/><path d="M91.00 435.30v-6.03M91.50 435.30v-7.06" stroke="#ecc074" stroke-width="0.5" fill="none" opacity="1.0"/><path d="M95.00 435.30v-2.52M95.50 435.30v-2.78" stroke="#ecc074" stroke-width="0.5" fill="none" opacity="1.0"/><path d="M148.00 435.30v-14.35M148.50 435.30v-13.17" stroke="#ecc074" stroke-width="0.5" fill="none" opacity="1.0"/><path d="M57.00 449.10v0.50M59.50 449.10v0.23M64.50 449.10v0.65M67.00 449.10v0.78M69.50 449.10v0.30M72.00 449.10v0.74M74.50 449.10v0.37M77.00 449.10v0.44M84.50 449.10v0.41M94.50 449.10v0.40M102.00 449.10v0.52M104.50 449.10v0.35M107.00 449.10v0.69M114.50 449.10v0.72M117.00 449.10v0.22M119.50 449.10v0.41M122.00 449.10v0.25M127.00 449.10v0.74M129.50 449.10v0.44M134.50 449.10v0.28M137.00 449.10v0.30" stroke="#9b2c2c" stroke-width="0.5" fill="none" opacity="0.6"/><line x1="50.5" y1="462.6" x2="150" y2="462.6" stroke="#9b2c2c" stroke-width="0.9" opacity="1.0"/><path d="M54.00 462.60v-0.44M56.00 462.60v-0.50M57.00 462.60v-0.43M59.00 462.60v-1.08M61.00 462.60v-0.51M62.00 462.60v-0.38M65.00 462.60v-1.37M66.00 462.60v-1.90M67.00 462.60v-0.69M75.00 462.60v-1.52M76.00 462.60v-1.06M77.00 462.60v-1.57M78.00 462.60v-0.89M79.00 462.60v-1.72M80.00 462.60v-1.51M81.00 462.60v-0.41M85.00 462.60v-1.93M86.00 462.60v-0.36M87.00 462.60v-0.98M88.00 462.60v-1.65M89.00 462.60v-0.90M90.00 462.60v-1.87M92.00 462.60v-1.89M93.00 462.60v-0.51M94.00 462.60v-1.81M95.00 462.60v-1.75M97.00 462.60v-1.00M99.00 462.60v-1.89M100.00 462.60v-0.44M101.00 462.60v-1.14M102.00 462.60v-1.81M106.00 462.60v-0.81M107.00 462.60v-0.98M109.00 462.60v-0.81M110.00 462.60v-1.20M111.00 462.60v-1.61M113.00 462.60v-0.31M117.00 462.60v-1.36M119.00 462.60v-0.49M120.00 462.60v-0.97M121.00 462.60v-1.80M122.00 462.60v-0.38M123.00 462.60v-0.69M126.00 462.60v-0.69M127.00 462.60v-1.13M128.00 462.60v-1.69M129.00 462.60v-0.47M132.00 462.60v-0.32M133.00 462.60v-0.74M136.00 462.60v-0.37M137.00 462.60v-1.11M138.00 462.60v-1.81M139.00 462.60v-0.45M140.00 462.60v-1.48M141.00 462.60v-1.29M142.00 462.60v-1.16M144.00 462.60v-1.85M150.00 462.60v-1.86" stroke="#9b2c2c" stroke-width="0.5" fill="none" opacity="1.0"/><path d="M68.50 462.60v-8.15M69.00 462.60v-7.69" stroke="#9b2c2c" stroke-width="0.5" fill="none" opacity="1.0"/><path d="M73.00 462.60v-3.29M73.50 462.60v-3.25" stroke="#9b2c2c" stroke-width="0.5" fill="none" opacity="1.0"/><path d="M75.00 462.60v-4.13M75.50 462.60v-4.99" stroke="#9b2c2c" stroke-width="0.5" fill="none" opacity="1.0"/><path d="M78.00 462.60v-2.22M78.50 462.60v-3.63" stroke="#9b2c2c" stroke-width="0.5" fill="none" opacity="1.0"/><path d="M83.00 462.60v-3.39M83.50 462.60v-4.42" stroke="#9b2c2c" stroke-width="0.5" fill="none" opacity="1.0"/><path d="M91.00 462.60v-2.97M91.50 462.60v-2.20" stroke="#9b2c2c" stroke-width="0.5" fill="none" opacity="1.0"/><path d="M148.00 462.60v-3.11M148.50 462.60v-2.36" stroke="#9b2c2c" stroke-width="0.5" fill="none" opacity="1.0"/><path d="M50.4 469v8.2h2.2" stroke="#111" stroke-width="1.1" fill="none"/><path d="M52.00 477.00v0.72M53.50 477.00v0.23M55.00 477.00v0.75M56.50 477.00v0.39M59.50 477.00v0.27M61.00 477.00v0.50M67.00 477.00v0.20M68.50 477.00v0.57M71.50 477.00v0.33M73.00 477.00v0.34M76.00 477.00v0.27M79.00 477.00v0.29M82.00 477.00v0.74M85.00 477.00v0.36M89.50 477.00v0.66M91.00 477.00v0.22M94.00 477.00v0.49M97.00 477.00v0.29M101.50 477.00v0.63M107.50 477.00v0.29M110.50 477.00v0.31M116.50 477.00v0.25M118.00 477.00v0.20M119.50 477.00v0.60M121.00 477.00v0.21M122.50 477.00v0.48M125.50 477.00v0.34M130.00 477.00v0.22M136.00 477.00v0.27M137.50 477.00v0.21M139.00 477.00v0.65M140.50 477.00v0.38M145.00 477.00v0.34M149.50 477.00v0.56M151.00 477.00v0.21M154.00 477.00v0.28M155.50 477.00v0.21" stroke="#111" stroke-width="0.5" fill="none" opacity="1.0"/><line x1="50.5" y1="490.1" x2="155.7" y2="490.1" stroke="#111" stroke-width="0.8" opacity="1.0"/><path d="M52.00 490.10v-0.52M53.00 490.10v-0.66M54.00 490.10v-1.34M57.00 490.10v-1.63M59.00 490.10v-0.79M60.00 490.10v-0.30M64.00 490.10v-0.43M67.00 490.10v-0.74M69.00 490.10v-1.13M71.00 490.10v-1.11M72.00 490.10v-0.58M73.00 490.10v-0.31M75.00 490.10v-0.31M77.00 490.10v-0.88M80.00 490.10v-1.78M82.00 490.10v-0.98M85.00 490.10v-1.64M89.00 490.10v-0.53M90.00 490.10v-0.42M91.00 490.10v-1.55M92.00 490.10v-1.20M93.00 490.10v-1.75M94.00 490.10v-1.40M95.00 490.10v-0.78M96.00 490.10v-0.35M97.00 490.10v-0.97M99.00 490.10v-0.99M101.00 490.10v-1.12M102.00 490.10v-0.35M103.00 490.10v-1.21M104.00 490.10v-0.93M105.00 490.10v-1.59M106.00 490.10v-1.24M108.00 490.10v-1.35M109.00 490.10v-0.86M110.00 490.10v-0.38M112.00 490.10v-1.15M114.00 490.10v-1.54M118.00 490.10v-1.00M120.00 490.10v-0.46M122.00 490.10v-1.34M123.00 490.10v-0.90M124.00 490.10v-1.10M125.00 490.10v-1.05M128.00 490.10v-1.29M130.00 490.10v-0.37M132.00 490.10v-0.84M134.00 490.10v-0.56M136.00 490.10v-1.57M139.00 490.10v-0.79M140.00 490.10v-0.70M141.00 490.10v-1.01M142.00 490.10v-1.54M143.00 490.10v-0.89M144.00 490.10v-1.71M145.00 490.10v-1.46M146.00 490.10v-0.43M147.00 490.10v-0.74M148.00 490.10v-0.38M149.00 490.10v-1.01M150.00 490.10v-0.46M151.00 490.10v-1.57M153.00 490.10v-1.08" stroke="#111" stroke-width="0.5" fill="none" opacity="1.0"/><path d="M66.80 490.10L66.80 490.10L67.60 487.10L68.30 480.10L68.80 479.10L69.30 484.10L69.80 481.10L70.40 487.10L71.00 489.10L72.50 489.10L73.30 485.10L74.00 481.10L74.50 481.60L75.00 486.10L75.60 484.10L76.30 488.10L77.00 490.10L77.00 490.10Z" fill="#111" opacity="1.0"/><path d="M148.00 490.10v-6.92M148.50 490.10v-6.02" stroke="#111" stroke-width="0.5" fill="none" opacity="1.0"/><line x1="50.5" y1="504.4" x2="159" y2="504.4" stroke="#7a7a7a" stroke-width="0.8" opacity="1.0"/><path d="M52.00 504.40v-0.31M53.00 504.40v-0.53M54.00 504.40v-0.61M55.00 504.40v-0.64M56.00 504.40v-0.89M57.00 504.40v-0.82M58.00 504.40v-0.99M59.00 504.40v-0.57M60.00 504.40v-0.99M67.00 504.40v-1.24M68.00 504.40v-0.88M69.00 504.40v-1.14M70.00 504.40v-0.66M71.00 504.40v-0.32M73.00 504.40v-1.31M76.00 504.40v-0.32M78.00 504.40v-0.59M79.00 504.40v-1.47M81.00 504.40v-0.73M82.00 504.40v-0.32M83.00 504.40v-0.91M84.00 504.40v-0.73M86.00 504.40v-0.31M90.00 504.40v-0.67M91.00 504.40v-0.97M92.00 504.40v-1.08M93.00 504.40v-0.61M94.00 504.40v-0.53M95.00 504.40v-0.77M96.00 504.40v-1.16M97.00 504.40v-1.25M98.00 504.40v-0.47M100.00 504.40v-1.08M101.00 504.40v-0.37M102.00 504.40v-0.94M103.00 504.40v-1.34M104.00 504.40v-0.97M106.00 504.40v-1.12M107.00 504.40v-0.64M108.00 504.40v-1.07M110.00 504.40v-1.31M113.00 504.40v-0.73M115.00 504.40v-0.63M116.00 504.40v-0.34M118.00 504.40v-0.64M119.00 504.40v-0.60M120.00 504.40v-0.30M121.00 504.40v-0.68M122.00 504.40v-0.52M123.00 504.40v-1.46M125.00 504.40v-0.99M128.00 504.40v-0.82M129.00 504.40v-0.66M130.00 504.40v-1.16M131.00 504.40v-0.92M133.00 504.40v-0.68M134.00 504.40v-0.40M135.00 504.40v-1.39M137.00 504.40v-0.32M138.00 504.40v-0.36M139.00 504.40v-0.30M140.00 504.40v-0.38M142.00 504.40v-0.93M143.00 504.40v-0.73M147.00 504.40v-0.76M148.00 504.40v-0.72M149.00 504.40v-0.77M150.00 504.40v-0.61M151.00 504.40v-0.83M152.00 504.40v-0.35M153.00 504.40v-1.11M155.00 504.40v-0.91M156.00 504.40v-1.13M157.00 504.40v-1.03" stroke="#7a7a7a" stroke-width="0.5" fill="none" opacity="1.0"/><path d="M75.00 504.40v-3.52M75.50 504.40v-4.16M76.00 504.40v-2.17M76.50 504.40v-2.66" stroke="#7a7a7a" stroke-width="0.5" fill="none" opacity="1.0"/><line x1="50.5" y1="517.8" x2="159" y2="517.8" stroke="#7a7a7a" stroke-width="0.8" opacity="1.0"/><path d="M52.00 517.80v-0.52M54.00 517.80v-1.04M61.00 517.80v-0.42M69.00 517.80v-0.46M70.00 517.80v-1.12M71.00 517.80v-1.09M73.00 517.80v-0.37M74.00 517.80v-1.39M75.00 517.80v-0.86M76.00 517.80v-0.91M78.00 517.80v-1.04M79.00 517.80v-0.71M80.00 517.80v-0.33M81.00 517.80v-0.82M82.00 517.80v-0.62M84.00 517.80v-0.77M85.00 517.80v-0.71M87.00 517.80v-0.72M90.00 517.80v-0.49M92.00 517.80v-1.48M93.00 517.80v-0.79M95.00 517.80v-0.73M96.00 517.80v-0.55M97.00 517.80v-0.83M100.00 517.80v-0.85M101.00 517.80v-1.45M103.00 517.80v-1.13M104.00 517.80v-0.90M105.00 517.80v-0.90M106.00 517.80v-0.94M108.00 517.80v-0.83M109.00 517.80v-1.46M110.00 517.80v-0.95M112.00 517.80v-0.49M114.00 517.80v-1.07M115.00 517.80v-0.31M116.00 517.80v-0.32M118.00 517.80v-1.04M122.00 517.80v-1.08M124.00 517.80v-0.56M126.00 517.80v-0.40M127.00 517.80v-1.27M129.00 517.80v-1.09M131.00 517.80v-0.55M132.00 517.80v-0.55M134.00 517.80v-1.08M135.00 517.80v-1.04M136.00 517.80v-0.91M137.00 517.80v-1.19M138.00 517.80v-0.43M140.00 517.80v-0.96M143.00 517.80v-0.65M146.00 517.80v-0.58M147.00 517.80v-0.80M150.00 517.80v-0.66M152.00 517.80v-0.85M153.00 517.80v-0.46M154.00 517.80v-1.31M155.00 517.80v-1.23M156.00 517.80v-0.39M157.00 517.80v-0.53M158.00 517.80v-1.21" stroke="#7a7a7a" stroke-width="0.5" fill="none" opacity="1.0"/><path d="M67.40 517.80v-12.86M67.75 517.80v-10.38M68.10 517.80v-9.07M68.45 517.80v-12.93M68.80 517.80v-12.36M69.15 517.80v-11.16M69.50 517.80v-11.52M69.85 517.80v-11.81M70.20 517.80v-12.62M70.55 517.80v-10.68M70.90 517.80v-9.06M71.25 517.80v-11.85M71.60 517.80v-10.58M71.95 517.80v-12.43M72.30 517.80v-10.31M72.65 517.80v-9.10M73.00 517.80v-9.23M73.35 517.80v-11.34M73.70 517.80v-11.32M74.05 517.80v-11.61M74.40 517.80v-9.63M74.75 517.80v-9.20M75.10 517.80v-10.26M75.45 517.80v-10.19M75.80 517.80v-11.25M76.15 517.80v-9.69M76.50 517.80v-9.53M76.85 517.80v-11.96M77.20 517.80v-12.16M77.55 517.80v-9.65" stroke="#6a6a6a" stroke-width="0.5" fill="none" opacity="1.0"/><path d="M77.70 517.80v-2.61M78.20 517.80v-3.74M78.70 517.80v-3.66M80.20 517.80v-3.43M80.70 517.80v-5.48M81.20 517.80v-4.10M81.70 517.80v-2.39M82.20 517.80v-4.39M83.20 517.80v-3.92M83.70 517.80v-8.48M84.20 517.80v-6.08M84.70 517.80v-5.96M85.20 517.80v-4.58M86.70 517.80v-2.71M87.20 517.80v-4.59M88.20 517.80v-4.11M88.70 517.80v-3.13M89.20 517.80v-3.10M89.70 517.80v-2.42M90.20 517.80v-2.05M90.70 517.80v-2.09M91.20 517.80v-4.81M91.70 517.80v-5.54M92.70 517.80v-8.22M93.20 517.80v-2.94M93.70 517.80v-5.43M94.20 517.80v-3.71M94.70 517.80v-7.23M95.20 517.80v-2.18M96.20 517.80v-4.79M96.70 517.80v-4.60M97.20 517.80v-2.68M97.70 517.80v-7.57M98.70 517.80v-4.28M99.20 517.80v-6.84M99.70 517.80v-3.77M100.20 517.80v-2.39M100.70 517.80v-3.89" stroke="#7a7a7a" stroke-width="0.5" fill="none" opacity="1.0"/><path d="M148.00 517.80v-5.91M148.50 517.80v-5.78" stroke="#7a7a7a" stroke-width="0.5" fill="none" opacity="1.0"/><path d="M185.00 421.50v0.42M197.50 421.50v0.79M200.00 421.50v0.33M205.00 421.50v0.79M220.00 421.50v0.77M235.00 421.50v1.20M240.00 421.50v0.31M257.50 421.50v0.78M267.50 421.50v0.40M270.00 421.50v0.52" stroke="#ecc074" stroke-width="0.5" fill="none" opacity="0.6"/><path d="M225.00 435.30v0.32M227.50 435.30v1.14M247.50 435.30v0.33M252.50 435.30v0.37M257.50 435.30v0.74" stroke="#ecc074" stroke-width="0.5" fill="none" opacity="0.6"/><path d="M180.00 449.10v0.40M185.00 449.10v0.41M190.00 449.10v0.59M200.00 449.10v0.75M210.00 449.10v0.34M215.00 449.10v0.45M222.50 449.10v0.81M225.00 449.10v0.46M232.50 449.10v0.42M235.00 449.10v0.74M242.50 449.10v0.52M260.00 449.10v0.49" stroke="#9b2c2c" stroke-width="0.5" fill="none" opacity="0.6"/><path d="M180.00 462.60v1.02M187.50 462.60v1.07M210.00 462.60v0.69M220.00 462.60v0.79M230.00 462.60v0.82M237.50 462.60v1.18M242.50 462.60v0.37M247.50 462.60v0.31M250.00 462.60v0.55M267.50 462.60v0.36" stroke="#9b2c2c" stroke-width="0.5" fill="none" opacity="0.6"/><path d="M180.00 477.00v0.56M215.00 477.00v0.74M225.00 477.00v0.47M227.50 477.00v0.56M232.50 477.00v0.74M240.00 477.00v0.93M247.50 477.00v0.32" stroke="#111" stroke-width="0.5" fill="none" opacity="0.6"/><path d="M207.50 490.10v0.48M237.50 490.10v1.18M247.50 490.10v1.09" stroke="#111" stroke-width="0.5" fill="none" opacity="0.6"/><path d="M212.50 504.40v0.76M225.00 504.40v1.12M232.50 504.40v0.97M237.50 504.40v1.10M250.00 504.40v0.30M252.50 504.40v0.58M260.00 504.40v0.50M265.00 504.40v0.72M270.00 504.40v0.59" stroke="#7a7a7a" stroke-width="0.5" fill="none" opacity="0.6"/><path d="M187.50 517.80v0.48M190.00 517.80v1.04M197.50 517.80v0.70M212.50 517.80v0.67M222.50 517.80v0.59M235.00 517.80v0.44M245.00 517.80v0.65M247.50 517.80v0.49M252.50 517.80v1.11M257.50 517.80v0.78M260.00 517.80v0.69M270.00 517.80v0.34" stroke="#111" stroke-width="0.5" fill="none" opacity="0.6"/><path d="M297.50 421.50v0.46M300.00 421.50v0.82M302.50 421.50v0.32M307.50 421.50v0.60M332.50 421.50v0.50M360.00 421.50v0.33M365.00 421.50v1.09M370.00 421.50v1.05M372.50 421.50v1.02M385.00 421.50v0.98M392.50 421.50v0.52M395.00 421.50v0.45" stroke="#ecc074" stroke-width="0.5" fill="none" opacity="0.6"/><path d="M292.50 435.30v0.48M302.50 435.30v0.55M315.00 435.30v0.34M322.50 435.30v0.39M325.00 435.30v1.06M327.50 435.30v1.14M332.50 435.30v0.81M360.00 435.30v0.73M372.50 435.30v1.09M375.00 435.30v0.54M385.00 435.30v0.34M387.50 435.30v0.40" stroke="#ecc074" stroke-width="0.5" fill="none" opacity="0.6"/><path d="M292.50 449.10v0.43M300.00 449.10v0.30M305.00 449.10v0.47M315.00 449.10v1.06M327.50 449.10v0.64M332.50 449.10v0.92M335.00 449.10v0.68M352.50 449.10v0.44M357.50 449.10v0.39M370.00 449.10v0.69M372.50 449.10v0.91M375.00 449.10v1.17" stroke="#9b2c2c" stroke-width="0.5" fill="none" opacity="0.6"/><path d="M292.50 462.60v0.70M310.00 462.60v0.41M317.50 462.60v0.44M320.00 462.60v0.40M330.00 462.60v0.52M372.50 462.60v0.46M390.00 462.60v0.57M392.50 462.60v1.09" stroke="#9b2c2c" stroke-width="0.5" fill="none" opacity="0.6"/><path d="M300.00 477.00v0.56M302.50 477.00v0.88M335.00 477.00v0.53M340.00 477.00v1.08M342.50 477.00v0.64M345.00 477.00v1.01M352.50 477.00v0.33M355.00 477.00v0.78M357.50 477.00v0.79M362.50 477.00v0.51M365.00 477.00v0.90" stroke="#111" stroke-width="0.5" fill="none" opacity="0.6"/><path d="M307.50 490.10v0.93M315.00 490.10v0.31M322.50 490.10v0.38M342.50 490.10v0.73M347.50 490.10v0.35M350.00 490.10v0.53M357.50 490.10v0.49M387.50 490.10v0.71" stroke="#111" stroke-width="0.5" fill="none" opacity="0.6"/><path d="M292.50 504.40v0.40M310.00 504.40v0.67M322.50 504.40v0.30M325.00 504.40v0.72M335.00 504.40v0.37M337.50 504.40v0.39M342.50 504.40v0.34M345.00 504.40v0.53M347.50 504.40v0.37M357.50 504.40v0.71M360.00 504.40v0.74M365.00 504.40v0.75M370.00 504.40v0.31M375.00 504.40v0.30M377.50 504.40v0.38M380.00 504.40v0.86M390.00 504.40v0.68" stroke="#7a7a7a" stroke-width="0.5" fill="none" opacity="0.6"/><path d="M290.00 517.80v0.76M302.50 517.80v0.84M335.00 517.80v0.63M377.50 517.80v0.92M397.50 517.80v0.57" stroke="#111" stroke-width="0.5" fill="none" opacity="0.6"/><path d="M410.00 421.50v0.75M432.50 421.50v0.79M440.00 421.50v0.94M447.50 421.50v0.42M465.00 421.50v0.84M467.50 421.50v0.94M475.00 421.50v1.06M477.50 421.50v0.31M482.50 421.50v0.70M492.50 421.50v0.76M497.50 421.50v0.72" stroke="#ecc074" stroke-width="0.5" fill="none" opacity="0.6"/><path d="M415.00 435.30v0.39M417.50 435.30v0.36M430.00 435.30v0.61M432.50 435.30v1.01M445.00 435.30v0.70M455.00 435.30v1.15M480.00 435.30v0.98M485.00 435.30v0.94M490.00 435.30v1.08M505.00 435.30v0.59M507.50 435.30v1.10" stroke="#ecc074" stroke-width="0.5" fill="none" opacity="0.6"/><path d="M415.00 449.10v0.40M417.50 449.10v0.80M425.00 449.10v0.64M430.00 449.10v0.65M437.50 449.10v0.38M442.50 449.10v0.31M447.50 449.10v0.79M462.50 449.10v1.11M472.50 449.10v0.45M490.00 449.10v1.16M495.00 449.10v0.34" stroke="#9b2c2c" stroke-width="0.5" fill="none" opacity="0.6"/><path d="M412.50 462.60v0.78M417.50 462.60v0.61M430.00 462.60v0.41M432.50 462.60v0.99M445.00 462.60v0.58M450.00 462.60v0.38M457.50 462.60v1.05M490.00 462.60v1.10M512.50 462.60v0.36" stroke="#9b2c2c" stroke-width="0.5" fill="none" opacity="0.6"/><path d="M412.50 477.00v1.08M417.50 477.00v0.42M427.50 477.00v0.30M435.00 477.00v1.04M440.00 477.00v0.32M452.50 477.00v0.55M462.50 477.00v0.58M465.00 477.00v0.91M470.00 477.00v1.01M487.50 477.00v0.31M502.50 477.00v1.04M507.50 477.00v0.76" stroke="#111" stroke-width="0.5" fill="none" opacity="0.6"/><path d="M420.00 490.10v0.99M435.00 490.10v0.46M452.50 490.10v0.31M455.00 490.10v0.45M460.00 490.10v1.16M465.00 490.10v1.15M470.00 490.10v0.71M472.50 490.10v1.17M480.00 490.10v0.51M482.50 490.10v0.31M485.00 490.10v0.83M507.50 490.10v0.74M510.00 490.10v1.16M515.00 490.10v0.92" stroke="#111" stroke-width="0.5" fill="none" opacity="0.6"/><path d="M427.50 504.40v0.55M432.50 504.40v0.32M437.50 504.40v1.01M442.50 504.40v0.43M467.50 504.40v0.33M477.50 504.40v1.17M480.00 504.40v1.20M485.00 504.40v0.35M487.50 504.40v0.48M495.00 504.40v0.30M502.50 504.40v0.79M512.50 504.40v0.72" stroke="#7a7a7a" stroke-width="0.5" fill="none" opacity="0.6"/><path d="M415.00 517.80v0.68M422.50 517.80v0.90M460.00 517.80v0.63M462.50 517.80v0.53M465.00 517.80v1.06M470.00 517.80v0.43M480.00 517.80v0.76M482.50 517.80v0.63" stroke="#111" stroke-width="0.5" fill="none" opacity="0.6"/><line x1="424" y1="478.7" x2="426.5" y2="478.7" stroke="#222" stroke-width="0.9" opacity="1.0"/><line x1="434" y1="478.7" x2="436.5" y2="478.7" stroke="#222" stroke-width="0.9" opacity="1.0"/><line x1="440" y1="478.7" x2="442.5" y2="478.7" stroke="#222" stroke-width="0.9" opacity="1.0"/><line x1="447" y1="478.7" x2="449.5" y2="478.7" stroke="#222" stroke-width="0.9" opacity="1.0"/><line x1="453" y1="478.7" x2="455.5" y2="478.7" stroke="#222" stroke-width="0.9" opacity="1.0"/><line x1="488" y1="478.7" x2="490.5" y2="478.7" stroke="#222" stroke-width="0.9" opacity="1.0"/><line x1="425" y1="506.5" x2="428" y2="506.5" stroke="#333" stroke-width="0.8" opacity="1.0"/><line x1="437" y1="506.5" x2="440" y2="506.5" stroke="#333" stroke-width="0.8" opacity="1.0"/><line x1="441" y1="506.5" x2="444" y2="506.5" stroke="#333" stroke-width="0.8" opacity="1.0"/><line x1="447" y1="506.5" x2="450" y2="506.5" stroke="#333" stroke-width="0.8" opacity="1.0"/><line x1="463" y1="506.5" x2="466" y2="506.5" stroke="#333" stroke-width="0.8" opacity="1.0"/><line x1="470" y1="506.5" x2="473" y2="506.5" stroke="#333" stroke-width="0.8" opacity="1.0"/><line x1="481" y1="506.5" x2="484" y2="506.5" stroke="#333" stroke-width="0.8" opacity="1.0"/><line x1="492" y1="506.5" x2="495" y2="506.5" stroke="#333" stroke-width="0.8" opacity="1.0"/><line x1="322" y1="491.4" x2="324.5" y2="491.4" stroke="#333" stroke-width="0.9" opacity="1.0"/><line x1="326" y1="491.4" x2="328.5" y2="491.4" stroke="#333" stroke-width="0.9" opacity="1.0"/><rect x="78.1" y="518.9" width="4.6" height="6.5" fill="#111"/><path d="M81.5 519.6l-1.6 1.3l1.6 1.3" stroke="#fff" stroke-width="0.7" fill="none"/><path d="M81.5 522.6l-1.6 1.3l1.6 1.3" stroke="#fff" stroke-width="0.7" fill="none"/><rect x="82.7" y="519.0" width="19.1" height="2.9" fill="#777"/><rect x="82.7" y="522.4" width="19.1" height="2.9" fill="#777"/><line x1="83.2" y1="520.5" x2="101.3" y2="520.5" stroke="#ddd" stroke-width="0.6"/><line x1="83.2" y1="523.9" x2="101.3" y2="523.9" stroke="#ddd" stroke-width="0.6"/><rect x="186.2" y="522.4" width="78" height="3.3" fill="#5c5c5c"/><rect x="186.2" y="522" width="1.8" height="4.1" fill="#111"/><rect x="203" y="522" width="1.2" height="4.1" fill="#111"/><rect x="205" y="522" width="0.8" height="4.1" fill="#111"/><rect x="242" y="522" width="1.0" height="4.1" fill="#111"/><rect x="263.2" y="522" width="1.0" height="4.1" fill="#111"/><rect x="303.8" y="522" width="75" height="3.5" fill="#000"/><rect x="358.3" y="522.6" width="8.4" height="2.4" fill="#888"/><path d="M333.9 522.5l-1.4 1.25l1.4 1.25" stroke="#fff" stroke-width="0.7" fill="none"/><rect x="419.3" y="522.1" width="34.6" height="3.6" fill="#000"/><rect x="453.9" y="522.9" width="53" height="2.2" fill="#5a5a5a"/><rect x="506.2" y="522.1" width="2.5" height="3.6" fill="#000"/><path d="M443.3 522.5l-1.4 1.25l1.4 1.25" stroke="#fff" stroke-width="0.7" fill="none"/><rect x="51.5" y="526.8" width="97.7" height="2.7" fill="#c06870"/><text x="51.5" y="529.0" font-size="3.2" fill="#6a1018" textLength="8.5" lengthAdjust="spacingAndGlyphs" stroke="#7a1820" stroke-width="0.15">Dleu2</text><path d="M60.3 526.5l1.6 1.2l-1.6 1.2z" fill="#6a1018"/><text x="66.0" y="532.2" font-size="3.2" fill="#7a1820" textLength="10.6" lengthAdjust="spacingAndGlyphs" stroke="#7a1820" stroke-width="0.15">Mir15a</text><text x="67.0" y="537.0" font-size="3.2" fill="#7a1820" textLength="8.5" lengthAdjust="spacingAndGlyphs" stroke="#7a1820" stroke-width="0.15">Mir16-1</text><text x="70.2" y="541.2" font-size="3.2" fill="#7a1820" textLength="12.7" lengthAdjust="spacingAndGlyphs" stroke="#7a1820" stroke-width="0.15">Dleu2</text><rect x="82.9" y="538.5" width="19.1" height="2.5" fill="#c06870"/><text x="132.6" y="541.2" font-size="3.2" fill="#7a1820" textLength="9.5" lengthAdjust="spacingAndGlyphs" stroke="#7a1820" stroke-width="0.15">Dleu5</text><rect x="142.1" y="538.5" width="7.0" height="2.5" fill="#c06870"/><text x="407.8" y="529.3" font-size="3.8" fill="#a02830" textLength="9.2" lengthAdjust="spacingAndGlyphs" stroke="#a02830" stroke-width="0.2">Prkd3</text><path d="M417.6 526.4l2 1.4l-2 1.4z" fill="#a02830"/><rect x="407.5" y="530.2" width="112.5" height="2.4" fill="#c06870"/><text x="407.8" y="536.2" font-size="3.8" fill="#a02830" textLength="7.4" lengthAdjust="spacingAndGlyphs" stroke="#a02830" stroke-width="0.2">Eif3</text><path d="M416 533.6l2 1.4l-2 1.4z" fill="#a02830"/><rect x="407.5" y="536.8" width="112.5" height="2.4" fill="#c06870"/></g></svg></body></html>
